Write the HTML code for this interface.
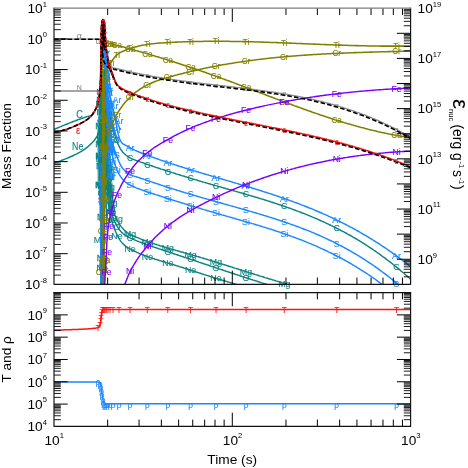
<!DOCTYPE html>
<html><head><meta charset="utf-8"><title>chart</title><style>
html,body{margin:0;padding:0;background:#fff}
svg{display:block;will-change:transform}
text{font-family:"Liberation Sans",sans-serif}
path{fill:none;stroke-linejoin:round}
</style></head><body>
<svg width="468" height="468" viewBox="0 0 468 468">
<rect width="468" height="468" fill="#fff"/>
<defs><clipPath id="c1"><rect x="54.00" y="8.20" width="356.60" height="276.15"/></clipPath>
<clipPath id="c2"><rect x="54.00" y="292.55" width="356.60" height="133.85"/></clipPath></defs>
<g text-anchor="middle">
<path d="M54.0 39.2L55.2 39.2L56.5 39.2L57.7 39.2L58.9 39.2L60.2 39.2L61.4 39.2L62.6 39.2L63.9 39.2L65.1 39.2L66.3 39.2L67.6 39.2L68.8 39.2L70.0 39.2L71.3 39.2L72.5 39.2L73.8 39.2L75.0 39.2L76.2 39.2L77.5 39.2L78.7 39.2L79.9 39.2L80.0 39.2L81.2 39.2L82.4 39.2L83.7 39.2L84.9 39.2L86.2 39.2L87.5 39.2L88.7 39.2L90.0 39.2L91.2 39.2L92.5 39.2L93.7 39.2L95.0 39.2L96.2 39.2L97.4 39.2L98.5 39.2L99.7 39.2L100.0 39.2L101.0 39.5L101.5 40.0L101.6 40.3L101.8 41.2L102.0 42.3L102.1 43.5L102.2 44.9L102.3 46.3L102.3 47.7L102.4 49.0L102.5 50.0L102.5 50.3L102.6 51.5L102.7 52.7L102.8 54.0L102.9 55.2L103.0 56.5L103.2 57.7L103.3 58.9L103.5 60.0L103.5 60.1L103.8 61.3L104.3 62.5L104.9 63.7L105.5 64.5L105.6 64.6L106.4 65.3L107.5 65.9L108.8 66.4L108.8 66.4L110.0 66.8L111.2 67.1L112.4 67.4L113.6 67.8L114.8 68.1L116.1 68.4L117.3 68.7L118.5 69.0L119.7 69.3L120.9 69.6L122.1 69.9L123.3 70.2L124.5 70.5L125.7 70.8L126.9 71.1L128.1 71.4L129.3 71.6L130.6 71.9L131.8 72.2L133.0 72.4L134.2 72.7L135.4 73.0L136.6 73.2L137.8 73.5L139.0 73.7L140.2 74.0L141.4 74.2L142.6 74.4L143.9 74.7L145.1 74.9L146.3 75.1L147.5 75.4L148.7 75.6L149.9 75.8L151.1 76.0L152.3 76.3L153.5 76.5L154.7 76.7L155.9 76.9L157.2 77.1L158.4 77.3L159.6 77.5L160.8 77.7L162.0 77.9L163.2 78.1L164.4 78.3L165.6 78.5L166.8 78.7L168.0 78.8L169.2 79.0L170.4 79.2L171.7 79.4L172.9 79.6L174.1 79.7L175.3 79.9L176.5 80.1L177.7 80.3L178.9 80.4L180.1 80.6L181.3 80.8L182.5 80.9L183.7 81.1L185.0 81.2L186.2 81.4L187.4 81.6L188.6 81.7L189.8 81.9L191.0 82.0L192.2 82.2L193.4 82.3L194.6 82.5L195.8 82.6L197.0 82.8L198.3 82.9L199.5 83.1L200.7 83.2L201.9 83.4L203.1 83.5L204.3 83.6L205.5 83.8L206.7 83.9L207.9 84.1L209.1 84.2L210.3 84.4L211.5 84.5L212.8 84.6L214.0 84.8L215.2 84.9L216.4 85.1L217.6 85.2L218.8 85.3L220.0 85.5L221.2 85.6L222.4 85.7L223.6 85.9L224.8 86.0L226.1 86.2L227.3 86.3L228.5 86.4L229.7 86.6L230.9 86.7L232.1 86.9L233.3 87.0L234.5 87.1L235.7 87.3L236.9 87.4L238.1 87.6L239.4 87.7L240.6 87.9L241.8 88.0L243.0 88.1L244.2 88.3L245.4 88.4L246.6 88.6L247.8 88.7L249.0 88.9L250.2 89.0L251.4 89.2L252.6 89.3L253.9 89.5L255.1 89.7L256.3 89.8L257.5 90.0L258.7 90.1L259.9 90.3L261.1 90.5L262.3 90.6L263.5 90.8L264.7 91.0L265.9 91.1L267.2 91.3L268.4 91.5L269.6 91.6L270.8 91.8L272.0 92.0L273.2 92.2L274.4 92.4L275.6 92.5L276.8 92.7L278.0 92.9L279.2 93.1L280.4 93.3L281.7 93.5L282.9 93.7L284.1 93.9L285.3 94.1L286.5 94.3L287.7 94.5L288.9 94.7L290.1 94.9L291.3 95.2L292.5 95.4L293.7 95.6L295.0 95.8L296.2 96.0L297.4 96.3L298.6 96.5L299.8 96.7L301.0 97.0L302.2 97.2L303.4 97.5L304.6 97.7L305.8 98.0L307.0 98.2L308.3 98.5L309.5 98.7L310.7 99.0L311.9 99.3L313.1 99.5L314.3 99.8L315.5 100.1L316.7 100.4L317.9 100.7L319.1 101.0L320.3 101.2L321.5 101.5L322.8 101.8L324.0 102.2L325.2 102.5L326.4 102.8L327.6 103.1L328.8 103.4L330.0 103.7L331.2 104.1L332.4 104.4L333.6 104.7L334.8 105.1L336.1 105.4L337.3 105.8L338.5 106.1L339.7 106.5L340.9 106.9L342.1 107.2L343.3 107.6L344.5 108.0L345.7 108.4L346.9 108.8L348.1 109.2L349.4 109.6L350.6 110.0L351.8 110.4L353.0 110.8L354.2 111.2L355.4 111.6L356.6 112.1L357.8 112.5L359.0 112.9L360.2 113.4L361.4 113.8L362.6 114.3L363.9 114.7L365.1 115.2L366.3 115.7L367.5 116.2L368.7 116.6L369.9 117.1L371.1 117.6L372.3 118.1L373.5 118.6L374.7 119.1L375.9 119.7L377.2 120.2L378.4 120.7L379.6 121.3L380.8 121.8L382.0 122.3L383.2 122.9L384.4 123.5L385.6 124.0L386.8 124.6L388.0 125.2L389.2 125.8L390.5 126.4L391.7 127.0L392.9 127.6L394.1 128.2L395.3 128.8L396.5 129.4L397.7 130.1L398.9 130.7L400.1 131.4L401.3 132.0L402.5 132.7L403.7 133.3L405.0 134.0L406.2 134.7L407.4 135.4L408.6 136.1L409.8 136.8L411.0 137.5" stroke="#8c8c8c" stroke-width="1.30"  clip-path="url(#c1)"/>
<path d="M54.0 91.0L99.3 91.0L100.2 93.0L100.6 110.0L100.9 285.0" stroke="#888" stroke-width="1.35"  clip-path="url(#c1)"/>
<text transform="translate(79.2 38.6) scale(0.92 1)" fill="#8c8c8c" stroke="#8c8c8c" stroke-width="0.1" font-size="9.5">α</text>
<text transform="translate(79.2 89.5) scale(0.92 1)" fill="#8c8c8c" stroke="#8c8c8c" stroke-width="0.1" font-size="7.6">N</text>
<text transform="translate(98.0 43.6) scale(0.92 1)" fill="#8c8c8c" stroke="#8c8c8c" stroke-width="0.1" font-size="8.5">α</text>
<text transform="translate(130.1 74.3) scale(0.92 1)" fill="#8c8c8c" stroke="#8c8c8c" stroke-width="0.1" font-size="7.5">α</text>
<text transform="translate(147.4 77.8) scale(0.92 1)" fill="#8c8c8c" stroke="#8c8c8c" stroke-width="0.1" font-size="7.5">α</text>
<text transform="translate(167.9 81.3) scale(0.92 1)" fill="#8c8c8c" stroke="#8c8c8c" stroke-width="0.1" font-size="7.5">α</text>
<text transform="translate(190.6 84.5) scale(0.92 1)" fill="#8c8c8c" stroke="#8c8c8c" stroke-width="0.1" font-size="7.5">α</text>
<text transform="translate(216.0 87.5) scale(0.92 1)" fill="#8c8c8c" stroke="#8c8c8c" stroke-width="0.1" font-size="7.5">α</text>
<text transform="translate(246.0 91.0) scale(0.92 1)" fill="#8c8c8c" stroke="#8c8c8c" stroke-width="0.1" font-size="7.5">α</text>
<text transform="translate(284.3 96.3) scale(0.92 1)" fill="#8c8c8c" stroke="#8c8c8c" stroke-width="0.1" font-size="7.5">α</text>
<text transform="translate(336.7 108.2) scale(0.92 1)" fill="#8c8c8c" stroke="#8c8c8c" stroke-width="0.1" font-size="7.5">α</text>
<text transform="translate(396.5 131.9) scale(0.92 1)" fill="#8c8c8c" stroke="#8c8c8c" stroke-width="0.1" font-size="7.5">α</text>
<text transform="translate(78.2 134.0) scale(0.92 1)" fill="#ff1212" stroke="#ff1212" stroke-width="0.1" font-size="10.5">ε</text>
<path d="M54.0 129.5L55.1 129.0L56.2 128.5L57.4 128.0L58.5 127.5L59.6 127.1L60.0 126.9L60.8 126.6L61.9 126.1L63.0 125.6L64.2 125.2L65.3 124.7L66.4 124.2L67.6 123.8L68.7 123.3L69.9 122.9L71.0 122.4L72.1 122.0L73.3 121.5L74.4 121.1L75.6 120.7L76.0 120.5L76.7 120.2L77.9 119.8L79.0 119.4L80.2 119.0L81.4 118.6L82.5 118.2L83.7 117.8L84.8 117.4L86.0 117.0L86.0 117.0L87.2 116.6L88.5 116.3L89.7 116.0L90.9 115.6L91.9 115.1L92.0 115.0L92.7 114.4L93.5 113.5L94.2 112.4L94.9 111.3L95.4 110.1L95.5 110.0L95.9 109.0L96.4 107.9L96.9 106.8L97.3 105.6L97.6 104.4L97.9 103.2L98.0 103.0L98.2 102.0L98.5 100.8L98.7 99.6L98.9 98.4L99.1 97.2L99.3 96.0L99.5 94.8L99.6 93.5L99.8 92.3L99.8 92.0L99.9 91.1L100.0 89.9L100.1 88.7L100.2 87.4L100.2 86.2L100.3 85.0L100.4 83.8L100.4 82.5L100.5 81.3L100.6 80.1L100.6 78.8L100.7 77.6L100.7 76.4L100.8 75.2L100.8 75.0L100.9 73.9L100.9 72.7L101.0 71.5L101.0 70.3L101.1 69.0L101.1 67.8L101.2 66.6L101.2 65.4L101.3 64.1L101.3 62.9L101.4 61.7L101.4 60.5L101.5 59.2L101.5 58.0" stroke="#0b8381" stroke-width="1.45"  clip-path="url(#c1)"/>
<path d="M54.0 163.0L55.2 162.6L56.3 162.3L57.5 161.9L58.7 161.5L59.8 161.1L60.0 161.0L61.0 160.7L62.1 160.2L63.2 159.8L64.4 159.4L65.5 158.9L66.7 158.4L67.8 158.0L68.9 157.5L70.0 157.0L70.0 157.0L71.1 156.5L72.3 156.0L73.4 155.5L74.5 154.9L75.6 154.4L76.7 153.9L77.8 153.3L78.9 152.7L80.0 152.1L81.0 151.5L82.1 150.9L83.0 150.3L83.1 150.3L84.1 149.6L85.1 148.9L86.1 148.1L87.0 147.4L88.0 146.6L88.9 145.8L89.9 145.0L90.7 144.1L91.6 143.2L92.0 142.8L92.4 142.4L93.2 141.5L94.1 140.5L94.9 139.5L95.6 138.5L96.3 137.5L97.0 136.5L97.5 135.4L97.6 135.0L97.8 134.3L98.2 133.2L98.5 132.0L98.8 130.8L99.1 129.5L99.3 128.3L99.5 127.1L99.6 126.0L99.6 125.9L99.7 124.7L99.8 123.5L99.9 122.2L100.0 121.0L100.1 119.8L100.2 118.6L100.3 117.4L100.3 116.1L100.4 114.9L100.4 113.7L100.5 112.5L100.5 111.2L100.6 110.0L100.6 108.8L100.7 107.6L100.7 106.3L100.8 105.1L100.8 105.0L100.8 103.9L100.9 102.7L100.9 101.4L101.0 100.2L101.0 99.0L101.1 97.8L101.1 96.6L101.1 95.3L101.2 94.1L101.2 92.9L101.2 91.7L101.3 90.4L101.3 89.2L101.3 88.0L101.4 86.8L101.4 85.6L101.5 84.3L101.5 83.1L101.5 81.9L101.6 80.7L101.6 80.0L101.6 79.4L101.7 78.2L101.7 77.0L101.8 75.8L101.8 74.6L101.9 73.3L101.9 72.1L102.0 70.9L102.0 69.7L102.1 68.4L102.1 67.2L102.2 66.0" stroke="#0b8381" stroke-width="1.45"  clip-path="url(#c1)"/>
<text transform="translate(79.5 118.0) scale(0.92 1)" fill="#0b8381" stroke="#0b8381" stroke-width="0.1" font-size="10">C</text>
<text transform="translate(77.7 150.2) scale(0.88 1)" fill="#0b8381" stroke="#0b8381" stroke-width="0.1" font-size="10">Ne</text>
<path d="M101.2 285.0L101.2 283.8L101.2 282.6L101.2 281.4L101.2 280.2L101.2 279.0L101.2 277.8L101.2 276.5L101.2 275.3L101.2 274.1L101.2 272.9L101.2 271.7L101.2 270.5L101.2 269.3L101.2 268.1L101.2 266.9L101.2 265.7L101.2 264.5L101.2 263.3L101.2 262.1L101.2 260.8L101.2 259.6L101.2 258.4L101.2 257.2L101.2 256.0L101.2 254.8L101.2 253.6L101.2 252.4L101.2 251.2L101.2 250.0L101.2 248.8L101.2 247.6L101.2 246.3L101.2 245.1L101.2 243.9L101.2 242.7L101.2 241.5L101.2 240.3L101.2 239.1L101.2 237.9L101.2 236.7L101.2 235.5L101.2 234.3L101.2 233.1L101.2 231.9L101.2 230.6L101.2 229.4L101.2 228.2L101.2 227.0L101.2 225.8L101.2 224.6L101.2 223.4L101.3 222.2L101.3 221.0L101.3 219.8L101.3 218.6L101.3 217.4L101.3 216.2L101.3 214.9L101.3 213.7L101.3 212.5L101.3 211.3L101.3 210.1L101.3 208.9L101.3 207.7L101.3 206.5L101.3 205.3L101.3 204.1L101.3 202.9L101.3 201.7L101.3 200.4L101.3 199.2L101.3 198.0L101.3 196.8L101.3 195.6L101.3 194.4L101.3 193.2L101.3 192.0L101.3 190.8L101.3 189.6L101.3 188.4L101.3 187.2L101.3 186.0L101.3 184.7L101.3 183.5L101.3 182.3L101.3 181.1L101.3 179.9L101.3 178.7L101.3 177.5L101.3 176.3L101.3 175.1L101.3 173.9L101.3 172.7L101.3 171.5L101.4 170.3L101.4 169.0L101.4 167.8L101.4 166.6L101.4 165.4L101.4 164.2L101.4 163.0L101.4 161.8L101.4 160.6L101.4 159.4L101.4 158.2L101.4 157.0L101.4 155.8L101.4 154.5L101.4 153.3L101.4 152.1L101.4 150.9L101.4 150.0L101.4 149.7L101.4 148.5L101.4 147.3L101.4 146.1L101.4 144.9L101.4 143.7L101.4 142.5L101.4 141.3L101.4 140.1L101.4 138.8L101.4 137.6L101.4 136.4L101.5 135.2L101.5 134.0L101.5 132.8L101.5 131.6L101.5 130.4L101.5 129.2L101.5 128.0L101.5 126.8L101.5 125.6L101.5 124.4L101.5 123.1L101.5 121.9L101.5 120.7L101.5 119.5L101.5 118.3L101.5 117.1L101.6 115.9L101.6 114.7L101.6 113.5L101.6 112.3L101.6 111.1L101.6 109.9L101.6 108.7L101.6 107.4L101.6 106.2L101.6 105.0L101.6 103.8L101.6 102.6L101.7 101.4L101.7 100.2L101.7 99.0L101.7 97.8L101.7 96.6L101.7 95.4L101.7 94.2L101.7 92.9L101.7 91.7L101.7 90.5L101.7 89.3L101.8 88.1L101.8 86.9L101.8 85.7L101.8 84.5L101.8 83.3L101.8 82.1L101.8 80.9L101.8 79.7L101.8 78.5L101.8 77.2L101.9 76.0L101.9 74.8L101.9 73.6L101.9 72.4L101.9 71.2L101.9 70.0" stroke="#0b8381" stroke-width="1.60"  clip-path="url(#c1)"/>
<path d="M101.9 285.0L101.9 283.8L101.9 282.6L101.9 281.4L101.9 280.2L101.9 278.9L101.9 277.7L101.9 276.5L101.9 275.3L101.9 274.1L101.9 272.9L101.9 271.7L101.9 270.5L101.9 269.3L101.9 268.1L101.9 266.8L101.9 265.6L101.9 264.4L101.9 263.2L101.9 262.0L101.9 260.8L101.9 259.6L101.9 258.4L101.9 257.2L101.9 256.0L101.9 254.7L101.9 253.5L101.9 252.3L101.9 251.1L101.9 249.9L101.9 248.7L101.9 247.5L101.9 246.3L101.9 245.1L101.9 243.9L101.9 242.6L101.9 241.4L101.9 240.2L101.9 239.0L101.9 237.8L101.9 236.6L101.9 235.4L101.9 234.2L101.9 233.0L101.9 231.7L101.9 230.5L101.9 229.3L101.9 228.1L101.9 226.9L101.9 225.7L101.9 224.5L102.0 223.3L102.0 222.1L102.0 220.9L102.0 219.6L102.0 218.4L102.0 217.2L102.0 216.0L102.0 214.8L102.0 213.6L102.0 212.4L102.0 211.2L102.0 210.0L102.0 208.8L102.0 207.5L102.0 206.3L102.0 205.1L102.0 203.9L102.0 202.7L102.0 201.5L102.0 200.3L102.0 199.1L102.0 197.9L102.0 196.7L102.0 195.4L102.0 194.2L102.0 193.0L102.0 191.8L102.0 190.6L102.0 189.4L102.0 188.2L102.0 187.0L102.0 185.8L102.0 184.6L102.0 183.3L102.0 182.1L102.0 180.9L102.0 179.7L102.0 178.5L102.0 177.3L102.0 176.1L102.0 174.9L102.0 173.7L102.0 172.4L102.1 171.2L102.1 170.0L102.1 168.8L102.1 167.6L102.1 166.4L102.1 165.2L102.1 164.0L102.1 162.8L102.1 161.6L102.1 160.3L102.1 159.1L102.1 157.9L102.1 156.7L102.1 155.5L102.1 154.3L102.1 153.1L102.1 151.9L102.1 150.7L102.1 150.0L102.1 149.5L102.1 148.2L102.1 147.0L102.1 145.8L102.1 144.6L102.1 143.4L102.1 142.2L102.1 141.0L102.1 139.8L102.1 138.6L102.1 137.4L102.1 136.1L102.1 134.9L102.2 133.7L102.2 132.5L102.2 131.3L102.2 130.1L102.2 128.9L102.2 127.7L102.2 126.5L102.2 125.2L102.2 124.0L102.2 122.8L102.2 121.6L102.2 120.4L102.2 119.2L102.2 118.0L102.2 116.8L102.2 115.6L102.2 114.4L102.2 113.1L102.3 111.9L102.3 110.7L102.3 109.5L102.3 108.3L102.3 107.1L102.3 105.9L102.3 104.7L102.3 103.5L102.3 102.3L102.3 101.0L102.3 99.8L102.3 98.6L102.3 97.4L102.3 96.2L102.4 95.0L102.4 93.8L102.4 92.6L102.4 91.4L102.4 90.2L102.4 88.9L102.4 87.7L102.4 86.5L102.4 85.3L102.4 84.1L102.4 82.9L102.4 81.7L102.4 80.5L102.5 79.3L102.5 78.1L102.5 76.8L102.5 75.6L102.5 74.4L102.5 73.2L102.5 72.0" stroke="#0b8381" stroke-width="1.60"  clip-path="url(#c1)"/>
<path d="M100.3 215.0L100.3 213.8L100.3 212.6L100.3 211.4L100.3 210.1L100.3 208.9L100.3 207.7L100.3 206.5L100.3 205.3L100.3 204.1L100.3 202.9L100.3 201.7L100.3 200.4L100.3 199.2L100.3 198.0L100.3 196.8L100.3 195.6L100.3 194.4L100.3 193.2L100.3 192.0L100.3 190.7L100.3 189.5L100.3 188.3L100.3 187.1L100.3 185.9L100.3 184.7L100.3 183.5L100.3 182.2L100.3 181.0L100.3 179.8L100.3 178.6L100.3 177.4L100.3 176.2L100.3 175.0L100.3 173.8L100.3 172.5L100.3 171.3L100.3 170.1L100.3 168.9L100.4 167.7L100.4 166.5L100.4 165.3L100.4 164.1L100.4 162.8L100.4 161.6L100.4 160.4L100.4 159.2L100.4 158.0L100.4 156.8L100.4 155.6L100.4 154.3L100.4 153.1L100.4 151.9L100.4 150.7L100.4 149.5L100.4 148.3L100.4 147.1L100.4 145.9L100.4 144.6L100.4 143.4L100.4 142.2L100.4 141.0L100.4 139.8L100.4 138.6L100.4 137.4L100.4 136.2L100.4 134.9L100.4 133.7L100.5 132.5L100.5 131.3L100.5 130.1L100.5 128.9L100.5 127.7L100.5 126.5L100.5 125.2L100.5 124.0L100.5 122.8L100.5 121.6L100.5 120.4L100.5 120.0L100.5 119.2L100.5 118.0L100.5 116.7L100.5 115.5L100.5 114.3L100.5 113.1L100.6 111.9L100.6 110.7L100.6 109.5L100.6 108.3L100.6 107.0L100.6 105.8L100.7 104.6L100.7 103.4L100.7 102.2L100.7 101.0L100.7 99.8L100.7 98.6L100.8 97.3L100.8 96.1L100.8 94.9L100.8 93.7L100.9 92.5L100.9 91.3L100.9 90.1L100.9 88.9L100.9 87.6L101.0 86.4L101.0 85.2L101.0 84.0" stroke="#0b8381" stroke-width="1.50"  clip-path="url(#c1)"/>
<path d="M99.6 180.0L99.6 178.8L99.6 177.5L99.6 176.3L99.6 175.1L99.6 173.8L99.6 172.6L99.6 171.4L99.6 170.1L99.6 168.9L99.6 167.7L99.6 166.4L99.6 165.2L99.6 164.0L99.6 162.8L99.6 161.5L99.6 160.3L99.6 159.1L99.6 157.8L99.6 156.6L99.6 155.4L99.6 154.1L99.6 152.9L99.6 151.7L99.6 150.4L99.6 149.2L99.6 148.0L99.6 146.7L99.6 145.5L99.6 144.3L99.6 143.0L99.6 141.8L99.6 140.6L99.6 139.3L99.6 138.1L99.7 136.9L99.7 135.6L99.7 134.4L99.7 133.2L99.7 132.0L99.7 130.7L99.7 129.5L99.7 128.3L99.7 127.0L99.7 125.8L99.7 124.6L99.7 123.3L99.7 122.1L99.7 120.9L99.7 120.0L99.7 119.6L99.7 118.4L99.7 117.2L99.7 115.9L99.7 114.7L99.8 113.5L99.8 112.2L99.8 111.0L99.8 109.8L99.9 108.5L99.9 107.3L99.9 106.1L99.9 104.9L100.0 103.6L100.0 102.4L100.0 101.2L100.1 99.9L100.1 98.7L100.1 97.5L100.2 96.2L100.2 95.0" stroke="#0b8381" stroke-width="1.30"  clip-path="url(#c1)"/>
<path d="M98.0 120.0L98.2 186.0" stroke="#0b8381" stroke-width="0.90"  clip-path="url(#c1)"/>
<path d="M98.9 112.0L99.1 196.0" stroke="#0b8381" stroke-width="0.90"  clip-path="url(#c1)"/>
<path d="M99.8 108.0L100.0 205.0" stroke="#0b8381" stroke-width="0.90"  clip-path="url(#c1)"/>
<path d="M100.6 100.0L100.8 215.0" stroke="#0b8381" stroke-width="0.90"  clip-path="url(#c1)"/>
<path d="M105.5 150.0L105.5 151.2L105.6 152.5L105.6 153.7L105.7 154.9L105.7 156.2L105.8 157.4L105.9 158.6L105.9 159.8L106.0 161.1L106.0 162.3L106.1 163.5L106.2 164.8L106.2 166.0L106.3 167.2L106.4 168.4L106.5 169.7L106.5 170.9L106.6 172.1L106.7 173.4L106.8 174.6L106.9 175.8L106.9 177.0L107.0 178.3L107.1 179.5L107.2 180.7L107.3 181.9L107.4 183.2L107.5 184.4L107.5 185.0L107.5 185.6L107.6 186.8L107.7 188.1L107.8 189.3L107.9 190.5L108.0 191.7L108.2 193.0L108.3 194.2L108.4 195.4L108.5 196.6L108.6 197.9L108.7 199.1L108.9 200.3L109.0 201.5L109.1 202.8L109.2 204.0L109.4 205.2L109.5 206.4L109.6 207.7L109.8 208.9L109.9 210.1L110.1 211.3L110.2 212.6L110.4 213.8L110.5 215.0" stroke="#0b8381" stroke-width="1.00"  clip-path="url(#c1)"/>
<path d="M106.5 150.0L106.6 151.2L106.6 152.5L106.7 153.7L106.7 155.0L106.8 156.2L106.9 157.5L106.9 158.7L107.0 160.0L107.1 161.2L107.2 162.5L107.2 163.7L107.3 164.9L107.4 166.2L107.5 167.4L107.6 168.7L107.7 169.9L107.8 171.2L107.9 172.4L108.0 173.6L108.1 174.9L108.2 176.1L108.3 177.4L108.4 178.6L108.5 179.8L108.6 181.1L108.8 182.3L108.9 183.6L109.0 184.8L109.0 185.0L109.1 186.0L109.2 187.3L109.3 188.5L109.5 189.8L109.6 191.0L109.8 192.2L109.9 193.5L110.1 194.7L110.2 195.9L110.4 197.2L110.5 198.4L110.7 199.7L110.9 200.9L111.0 202.1L111.2 203.4L111.4 204.6L111.6 205.8L111.7 207.1L111.9 208.3L112.1 209.5L112.3 210.8L112.5 212.0" stroke="#0b8381" stroke-width="1.00"  clip-path="url(#c1)"/>
<path d="M107.5 150.0L107.6 151.2L107.7 152.5L107.7 153.7L107.8 154.9L107.9 156.1L108.0 157.4L108.1 158.6L108.2 159.8L108.3 161.0L108.4 162.3L108.5 163.5L108.6 164.7L108.8 165.9L108.9 167.2L109.0 168.4L109.1 169.6L109.2 170.8L109.3 172.1L109.5 173.3L109.6 174.5L109.7 175.7L109.8 177.0L110.0 178.2L110.1 179.4L110.2 180.6L110.4 181.8L110.5 183.0L110.5 183.1L110.6 184.3L110.8 185.5L110.9 186.7L111.1 187.9L111.2 189.2L111.4 190.4L111.6 191.6L111.7 192.8L111.9 194.0L112.1 195.3L112.2 196.5L112.4 197.7L112.6 198.9L112.8 200.1L112.9 201.4L113.1 202.6L113.3 203.8L113.5 205.0" stroke="#0b8381" stroke-width="1.00"  clip-path="url(#c1)"/>
<path d="M108.5 148.0L108.6 149.2L108.7 150.5L108.8 151.7L108.9 152.9L109.0 154.2L109.1 155.4L109.2 156.6L109.3 157.9L109.4 159.1L109.5 160.3L109.6 161.6L109.7 162.8L109.9 164.0L110.0 165.3L110.1 166.5L110.2 167.7L110.3 169.0L110.5 170.2L110.6 171.4L110.7 172.7L110.8 173.9L111.0 175.1L111.1 176.3L111.2 177.6L111.4 178.8L111.5 180.0L111.5 180.0L111.6 181.3L111.8 182.5L111.9 183.7L112.1 185.0L112.2 186.2L112.4 187.4L112.5 188.6L112.7 189.9L112.8 191.1L113.0 192.3L113.2 193.5L113.3 194.8L113.5 196.0" stroke="#0b8381" stroke-width="1.00"  clip-path="url(#c1)"/>
<path d="M104.8 62.0L104.8 63.2L104.9 64.5L104.9 65.7L105.0 67.0L105.0 68.2L105.1 69.5L105.2 70.7L105.2 72.0L105.3 73.2L105.4 74.4L105.5 75.7L105.5 76.9L105.6 78.2L105.7 79.4L105.8 80.6L105.9 81.9L106.0 83.1L106.1 84.4L106.2 85.6L106.3 86.8L106.3 88.1L106.4 89.3L106.5 90.0L106.5 90.6L106.7 91.8L106.8 93.0L106.9 94.3L107.0 95.5L107.1 96.8L107.3 98.0L107.4 99.2L107.5 100.5L107.7 101.7L107.8 102.9L108.0 104.2L108.1 105.4L108.3 106.6L108.5 107.9L108.5 108.0L108.7 109.1L108.8 110.3L109.0 111.6L109.2 112.8L109.5 114.0L109.7 115.2L109.9 116.5L110.1 117.7L110.4 118.9L110.6 120.1L110.9 121.3L111.2 122.6L111.4 123.8L111.7 125.0L111.7 125.0L112.9 128.9L114.1 132.8L115.3 136.5L116.5 139.9L117.7 143.1L118.9 145.9L120.1 148.3L121.4 150.3L122.6 151.9L123.8 153.2L125.0 154.3L126.2 155.3L127.4 156.2L128.6 157.0L129.8 157.7L131.0 158.3L132.2 158.9L133.4 159.4L134.6 159.9L135.8 160.3L137.0 160.8L138.3 161.2L139.5 161.6L140.7 162.1L141.9 162.5L143.1 162.9L144.3 163.3L145.5 163.8L146.7 164.2L147.9 164.6L149.1 165.0L150.3 165.4L151.5 165.8L152.7 166.2L153.9 166.6L155.1 167.1L156.4 167.5L157.6 167.9L158.8 168.3L160.0 168.7L161.2 169.1L162.4 169.4L163.6 169.8L164.8 170.2L166.0 170.6L167.2 171.0L168.4 171.4L169.6 171.8L170.8 172.2L172.0 172.6L173.2 172.9L174.5 173.3L175.7 173.7L176.9 174.1L178.1 174.4L179.3 174.8L180.5 175.2L181.7 175.6L182.9 175.9L184.1 176.3L185.3 176.7L186.5 177.0L187.7 177.4L188.9 177.8L190.1 178.1L191.4 178.5L192.6 178.9L193.8 179.2L195.0 179.6L196.2 179.9L197.4 180.3L198.6 180.7L199.8 181.0L201.0 181.4L202.2 181.7L203.4 182.1L204.6 182.4L205.8 182.8L207.0 183.1L208.2 183.5L209.5 183.8L210.7 184.2L211.9 184.5L213.1 184.9L214.3 185.2L215.5 185.6L216.7 185.9L217.9 186.3L219.1 186.6L220.3 186.9L221.5 187.3L222.7 187.6L223.9 188.0L225.1 188.3L226.4 188.7L227.6 189.0L228.8 189.4L230.0 189.7L231.2 190.0L232.4 190.4L233.6 190.7L234.8 191.1L236.0 191.4L237.2 191.8L238.4 192.1L239.6 192.5L240.8 192.8L242.0 193.1L243.2 193.5L244.5 193.8L245.7 194.2L246.9 194.6L248.1 194.9L249.3 195.3L250.5 195.6L251.7 196.0L252.9 196.3L254.1 196.7L255.3 197.0L256.5 197.4L257.7 197.8L258.9 198.1L260.1 198.5L261.4 198.9L262.6 199.2L263.8 199.6L265.0 200.0L266.2 200.4L267.4 200.8L268.6 201.1L269.8 201.5L271.0 201.9L272.2 202.3L273.4 202.7L274.6 203.1L275.8 203.5L277.0 203.9L278.2 204.3L279.5 204.7L280.7 205.1L281.9 205.5L283.1 205.9L284.3 206.3L285.5 206.7L286.7 207.2L287.9 207.6L289.1 208.0L290.3 208.4L291.5 208.9L292.7 209.3L293.9 209.8L295.1 210.2L296.3 210.7L297.6 211.1L298.8 211.6L300.0 212.0L301.2 212.5L302.4 213.0L303.6 213.4L304.8 213.9L306.0 214.4L307.2 214.9L308.4 215.4L309.6 215.9L310.8 216.4L312.0 216.9L313.2 217.4L314.5 217.9L315.7 218.4L316.9 218.9L318.1 219.4L319.3 220.0L320.5 220.5L321.7 221.1L322.9 221.6L324.1 222.2L325.3 222.7L326.5 223.3L327.7 223.8L328.9 224.4L330.1 225.0L331.3 225.6L332.6 226.2L333.8 226.8L335.0 227.4L336.2 228.0L337.4 228.6L338.6 229.2L339.8 229.8L341.0 230.5L342.2 231.1L343.4 231.7L344.6 232.4L345.8 233.0L347.0 233.7L348.2 234.4L349.5 235.0L350.7 235.7L351.9 236.4L353.1 237.1L354.3 237.8L355.5 238.5L356.7 239.2L357.9 240.0L359.1 240.7L360.3 241.4L361.5 242.2L362.7 242.9L363.9 243.7L365.1 244.4L366.3 245.2L367.6 246.0L368.8 246.8L370.0 247.6L371.2 248.4L372.4 249.2L373.6 250.0L374.8 250.8L376.0 251.7L377.2 252.5L378.4 253.4L379.6 254.2L380.8 255.1L382.0 256.0L383.2 256.9L384.4 257.7L385.7 258.6L386.9 259.6L388.1 260.5L389.3 261.4L390.5 262.3L391.7 263.3L392.9 264.2L394.1 265.2L395.3 266.2L396.5 267.1L397.7 268.1L398.9 269.1L400.1 270.1L401.3 271.2L402.6 272.2L403.8 273.2L405.0 274.3L406.2 275.3L407.4 276.4L408.6 277.5L409.8 278.5L411.0 279.6" stroke="#0b8381" stroke-width="1.45"  clip-path="url(#c1)"/>
<text transform="translate(108.9 113.5) scale(0.92 1)" fill="#0b8381" stroke="#0b8381" stroke-width="0.1" font-size="9.6">C</text>
<text transform="translate(111.2 125.7) scale(0.92 1)" fill="#0b8381" stroke="#0b8381" stroke-width="0.1" font-size="9.6">C</text>
<text transform="translate(116.9 143.0) scale(0.92 1)" fill="#0b8381" stroke="#0b8381" stroke-width="0.1" font-size="9.6">C</text>
<text transform="translate(130.1 160.8) scale(0.92 1)" fill="#0b8381" stroke="#0b8381" stroke-width="0.1" font-size="9.6">C</text>
<text transform="translate(147.4 167.7) scale(0.92 1)" fill="#0b8381" stroke="#0b8381" stroke-width="0.1" font-size="9.6">C</text>
<text transform="translate(167.9 174.5) scale(0.92 1)" fill="#0b8381" stroke="#0b8381" stroke-width="0.1" font-size="9.6">C</text>
<text transform="translate(190.6 181.3) scale(0.92 1)" fill="#0b8381" stroke="#0b8381" stroke-width="0.1" font-size="9.6">C</text>
<text transform="translate(216.0 188.7) scale(0.92 1)" fill="#0b8381" stroke="#0b8381" stroke-width="0.1" font-size="9.6">C</text>
<text transform="translate(246.0 197.3) scale(0.92 1)" fill="#0b8381" stroke="#0b8381" stroke-width="0.1" font-size="9.6">C</text>
<text transform="translate(284.3 209.4) scale(0.92 1)" fill="#0b8381" stroke="#0b8381" stroke-width="0.1" font-size="9.6">C</text>
<text transform="translate(336.7 231.1) scale(0.92 1)" fill="#0b8381" stroke="#0b8381" stroke-width="0.1" font-size="9.6">C</text>
<text transform="translate(396.5 270.3) scale(0.92 1)" fill="#0b8381" stroke="#0b8381" stroke-width="0.1" font-size="9.6">C</text>
<path d="M104.8 100.0L104.8 101.2L104.8 102.4L104.8 103.7L104.8 104.9L104.8 106.1L104.8 107.3L104.8 108.5L104.8 109.7L104.9 111.0L104.9 112.2L104.9 113.4L104.9 114.6L104.9 115.8L104.9 117.0L104.9 118.3L105.0 119.5L105.0 120.7L105.0 121.9L105.0 123.1L105.1 124.3L105.1 125.6L105.1 126.8L105.1 128.0L105.2 129.2L105.2 130.4L105.2 131.6L105.2 132.8L105.3 134.0L105.3 135.3L105.3 136.5L105.4 137.7L105.4 138.9L105.5 140.1L105.5 141.3L105.5 142.5L105.6 143.7L105.6 145.0L105.7 146.2L105.7 147.4L105.7 148.6L105.8 149.8L105.8 151.0L105.9 152.2L105.9 153.4L106.0 154.6L106.0 155.9L106.1 157.1L106.1 158.3L106.2 159.5L106.2 160.7L106.3 161.9L106.3 163.1L106.4 164.3L106.4 165.0L106.4 165.5L106.5 166.7L106.6 168.0L106.7 169.2L106.8 170.4L106.9 171.6L107.0 172.8L107.1 174.0L107.2 175.2L107.4 176.4L107.5 177.6L107.7 178.8L107.8 180.0L108.0 181.2L108.1 182.4L108.3 183.7L108.5 184.9L108.6 186.1L108.8 187.3L109.0 188.5L109.2 189.7L109.3 190.9L109.5 192.0L109.5 192.1L109.7 193.3L109.9 194.5L110.1 195.7L110.2 196.9L110.4 198.1L110.7 199.3L110.9 200.5L111.1 201.7L111.3 202.8L111.5 204.0L111.8 205.2L112.0 206.4L112.2 207.6L112.5 208.8L112.7 210.0L112.7 210.0L113.9 213.2L115.1 216.0L116.3 218.6L117.5 220.9L118.7 223.0L120.0 224.9L121.2 226.6L122.4 228.1L123.6 229.4L124.8 230.6L126.0 231.6L127.2 232.6L128.4 233.4L129.6 234.1L130.8 234.7L132.1 235.3L133.3 235.9L134.5 236.4L135.7 236.9L136.9 237.4L138.1 237.9L139.3 238.4L140.5 238.9L141.7 239.4L142.9 239.8L144.1 240.3L145.4 240.7L146.6 241.2L147.8 241.6L149.0 242.1L150.2 242.5L151.4 242.9L152.6 243.3L153.8 243.7L155.0 244.1L156.2 244.5L157.4 244.9L158.7 245.3L159.9 245.7L161.1 246.0L162.3 246.4L163.5 246.8L164.7 247.1L165.9 247.5L167.1 247.9L168.3 248.2L169.5 248.6L170.8 248.9L172.0 249.3L173.2 249.6L174.4 249.9L175.6 250.3L176.8 250.6L178.0 251.0L179.2 251.3L180.4 251.7L181.6 252.0L182.8 252.3L184.1 252.7L185.3 253.0L186.5 253.4L187.7 253.7L188.9 254.0L190.1 254.4L191.3 254.7L192.5 255.1L193.7 255.4L194.9 255.8L196.2 256.1L197.4 256.5L198.6 256.8L199.8 257.2L201.0 257.6L202.2 257.9L203.4 258.3L204.6 258.7L205.8 259.0L207.0 259.4L208.2 259.8L209.5 260.1L210.7 260.5L211.9 260.9L213.1 261.2L214.3 261.6L215.5 262.0L216.7 262.4L217.9 262.7L219.1 263.1L220.3 263.5L221.5 263.9L222.8 264.2L224.0 264.6L225.2 265.0L226.4 265.4L227.6 265.8L228.8 266.2L230.0 266.5L231.2 266.9L232.4 267.3L233.6 267.7L234.9 268.1L236.1 268.4L237.3 268.8L238.5 269.2L239.7 269.6L240.9 270.0L242.1 270.4L243.3 270.7L244.5 271.1L245.7 271.5L246.9 271.9L248.2 272.3L249.4 272.7L250.6 273.0L251.8 273.4L253.0 273.8L254.2 274.2L255.4 274.6L256.6 274.9L257.8 275.3L259.0 275.7L260.3 276.1L261.5 276.4L262.7 276.8L263.9 277.2L265.1 277.6L266.3 277.9L267.5 278.3L268.7 278.7L269.9 279.0L271.1 279.4L272.3 279.8L273.6 280.1L274.8 280.5L276.0 280.9L277.2 281.2L278.4 281.6L279.6 281.9L280.8 282.3L282.0 282.7L283.2 283.0L284.4 283.4L285.6 283.7L286.9 284.1L288.1 284.4L289.3 284.7L290.5 285.1L291.7 285.4L292.9 285.8L294.1 286.1L295.3 286.4L296.5 286.8L297.7 287.1L299.0 287.4L300.2 287.7L301.4 288.1L302.6 288.4L303.8 288.7L305.0 289.0" stroke="#0b8381" stroke-width="1.45"  clip-path="url(#c1)"/>
<text transform="translate(108.9 190.4) scale(0.92 1)" fill="#0b8381" stroke="#0b8381" stroke-width="0.1" font-size="9.6">Mg</text>
<text transform="translate(111.2 206.0) scale(0.92 1)" fill="#0b8381" stroke="#0b8381" stroke-width="0.1" font-size="9.6">Mg</text>
<text transform="translate(116.9 221.7) scale(0.92 1)" fill="#0b8381" stroke="#0b8381" stroke-width="0.1" font-size="9.6">Mg</text>
<text transform="translate(130.1 237.2) scale(0.92 1)" fill="#0b8381" stroke="#0b8381" stroke-width="0.1" font-size="9.6">Mg</text>
<text transform="translate(147.4 244.7) scale(0.92 1)" fill="#0b8381" stroke="#0b8381" stroke-width="0.1" font-size="9.6">Mg</text>
<text transform="translate(167.9 251.3) scale(0.92 1)" fill="#0b8381" stroke="#0b8381" stroke-width="0.1" font-size="9.6">Mg</text>
<text transform="translate(190.6 257.5) scale(0.92 1)" fill="#0b8381" stroke="#0b8381" stroke-width="0.1" font-size="9.6">Mg</text>
<text transform="translate(216.0 265.1) scale(0.92 1)" fill="#0b8381" stroke="#0b8381" stroke-width="0.1" font-size="9.6">Mg</text>
<text transform="translate(246.0 274.6) scale(0.92 1)" fill="#0b8381" stroke="#0b8381" stroke-width="0.1" font-size="9.6">Mg</text>
<text transform="translate(284.3 286.5) scale(0.92 1)" fill="#0b8381" stroke="#0b8381" stroke-width="0.1" font-size="9.6">Mg</text>
<path d="M105.1 100.0L105.1 101.2L105.1 102.4L105.1 103.6L105.2 104.9L105.2 106.1L105.2 107.3L105.2 108.5L105.3 109.7L105.3 110.9L105.3 112.1L105.3 113.4L105.4 114.6L105.4 115.8L105.4 117.0L105.5 118.2L105.5 119.4L105.5 120.7L105.6 121.9L105.6 123.1L105.6 124.3L105.7 125.5L105.7 126.7L105.7 127.9L105.8 129.1L105.8 130.4L105.9 131.6L105.9 132.8L106.0 134.0L106.0 135.2L106.0 136.4L106.1 137.6L106.1 138.9L106.2 140.1L106.2 141.3L106.3 142.5L106.3 143.7L106.4 144.9L106.4 146.1L106.5 147.4L106.5 148.6L106.6 149.8L106.6 151.0L106.7 152.2L106.7 153.4L106.8 154.6L106.8 155.8L106.9 157.1L107.0 158.3L107.0 159.5L107.1 160.7L107.1 161.9L107.2 163.1L107.2 164.3L107.3 165.5L107.3 166.8L107.4 168.0L107.5 169.2L107.5 170.0L107.5 170.4L107.6 171.6L107.6 172.8L107.7 174.0L107.8 175.3L107.8 176.5L107.9 177.7L108.0 178.9L108.0 180.1L108.1 181.3L108.2 182.5L108.2 183.7L108.3 185.0L108.4 186.2L108.5 187.4L108.6 188.6L108.6 189.8L108.7 191.0L108.8 192.2L108.9 193.4L109.0 194.7L109.1 195.9L109.2 197.1L109.3 198.3L109.5 199.5L109.5 200.0L109.6 200.7L109.7 201.9L109.9 203.1L110.0 204.3L110.2 205.5L110.4 206.7L110.6 207.9L110.8 209.1L111.0 210.3L111.2 211.5L111.4 212.7L111.4 212.7L112.6 216.3L113.8 219.5L115.0 222.3L116.3 224.7L117.5 226.9L118.7 228.7L119.9 230.3L121.1 231.7L122.3 232.9L123.5 234.0L124.8 234.9L126.0 235.7L127.2 236.5L128.4 237.1L129.6 237.7L130.8 238.3L132.0 238.8L133.3 239.3L134.5 239.8L135.7 240.3L136.9 240.8L138.1 241.3L139.3 241.8L140.5 242.3L141.7 242.7L143.0 243.2L144.2 243.6L145.4 244.1L146.6 244.5L147.8 245.0L149.0 245.4L150.2 245.8L151.5 246.3L152.7 246.7L153.9 247.1L155.1 247.5L156.3 247.9L157.5 248.3L158.7 248.7L160.0 249.1L161.2 249.5L162.4 249.9L163.6 250.3L164.8 250.7L166.0 251.1L167.2 251.5L168.5 251.9L169.7 252.3L170.9 252.7L172.1 253.1L173.3 253.5L174.5 254.0L175.7 254.4L177.0 254.8L178.2 255.2L179.4 255.6L180.6 256.0L181.8 256.4L183.0 256.8L184.2 257.2L185.5 257.6L186.7 258.0L187.9 258.4L189.1 258.8L190.3 259.2L191.5 259.6L192.7 260.0L194.0 260.4L195.2 260.8L196.4 261.2L197.6 261.6L198.8 262.1L200.0 262.5L201.2 262.9L202.4 263.3L203.7 263.7L204.9 264.1L206.1 264.5L207.3 264.9L208.5 265.3L209.7 265.7L210.9 266.1L212.2 266.5L213.4 266.9L214.6 267.3L215.8 267.7L217.0 268.1L218.2 268.6L219.4 269.0L220.7 269.4L221.9 269.8L223.1 270.2L224.3 270.6L225.5 271.0L226.7 271.4L227.9 271.8L229.2 272.2L230.4 272.6L231.6 273.0L232.8 273.4L234.0 273.8L235.2 274.2L236.4 274.6L237.7 275.0L238.9 275.4L240.1 275.8L241.3 276.2L242.5 276.6L243.7 277.0L244.9 277.4L246.2 277.8L247.4 278.2L248.6 278.6L249.8 279.0L251.0 279.4L252.2 279.7L253.4 280.1L254.7 280.5L255.9 280.9L257.1 281.3L258.3 281.7L259.5 282.1L260.7 282.5L261.9 282.9L263.1 283.2L264.4 283.6L265.6 284.0L266.8 284.4L268.0 284.8L269.2 285.2L270.4 285.5L271.6 285.9L272.9 286.3L274.1 286.7L275.3 287.0L276.5 287.4L277.7 287.8L278.9 288.2L280.1 288.5L281.4 288.9L282.6 289.3L283.8 289.6L285.0 290.0" stroke="#0b8381" stroke-width="1.45"  clip-path="url(#c1)"/>
<text transform="translate(108.9 196.6) scale(0.92 1)" fill="#0b8381" stroke="#0b8381" stroke-width="0.1" font-size="9.6">O</text>
<text transform="translate(111.2 214.6) scale(0.92 1)" fill="#0b8381" stroke="#0b8381" stroke-width="0.1" font-size="9.6">O</text>
<text transform="translate(116.9 230.0) scale(0.92 1)" fill="#0b8381" stroke="#0b8381" stroke-width="0.1" font-size="9.6">O</text>
<text transform="translate(130.1 240.8) scale(0.92 1)" fill="#0b8381" stroke="#0b8381" stroke-width="0.1" font-size="9.6">O</text>
<text transform="translate(147.4 248.1) scale(0.92 1)" fill="#0b8381" stroke="#0b8381" stroke-width="0.1" font-size="9.6">O</text>
<text transform="translate(167.9 255.1) scale(0.92 1)" fill="#0b8381" stroke="#0b8381" stroke-width="0.1" font-size="9.6">O</text>
<text transform="translate(190.6 262.3) scale(0.92 1)" fill="#0b8381" stroke="#0b8381" stroke-width="0.1" font-size="9.6">O</text>
<text transform="translate(216.0 270.9) scale(0.92 1)" fill="#0b8381" stroke="#0b8381" stroke-width="0.1" font-size="9.6">O</text>
<text transform="translate(246.0 280.9) scale(0.92 1)" fill="#0b8381" stroke="#0b8381" stroke-width="0.1" font-size="9.6">O</text>
<path d="M104.5 100.0L104.5 101.2L104.5 102.4L104.5 103.6L104.5 104.9L104.5 106.1L104.5 107.3L104.5 108.5L104.6 109.7L104.6 110.9L104.6 112.2L104.6 113.4L104.6 114.6L104.6 115.8L104.7 117.0L104.7 118.2L104.7 119.5L104.7 120.7L104.7 121.9L104.8 123.1L104.8 124.3L104.8 125.5L104.8 126.8L104.9 128.0L104.9 129.2L104.9 130.4L105.0 131.6L105.0 132.8L105.0 134.0L105.1 135.3L105.1 136.5L105.1 137.7L105.2 138.9L105.2 140.1L105.2 141.3L105.3 142.6L105.3 143.8L105.3 145.0L105.4 146.2L105.4 147.4L105.4 148.6L105.5 149.8L105.5 151.1L105.6 152.3L105.6 153.5L105.6 154.7L105.7 155.9L105.7 157.1L105.7 158.4L105.8 159.6L105.8 160.0L105.8 160.8L105.9 162.0L105.9 163.2L106.0 164.4L106.0 165.6L106.0 166.9L106.1 168.1L106.1 169.3L106.2 170.5L106.2 171.7L106.3 172.9L106.3 174.2L106.4 175.4L106.5 176.6L106.5 177.8L106.6 179.0L106.7 180.2L106.7 181.5L106.8 182.7L106.9 183.9L106.9 185.1L107.0 186.3L107.1 187.5L107.2 188.7L107.2 189.9L107.3 191.2L107.4 192.4L107.5 193.6L107.6 194.8L107.7 196.0L107.8 197.2L107.9 198.4L108.0 199.6L108.0 200.0L108.1 200.8L108.2 202.1L108.3 203.3L108.5 204.5L108.6 205.7L108.8 206.9L109.0 208.1L109.1 209.3L109.3 210.5L109.5 211.7L109.7 212.9L109.9 214.1L110.1 215.3L110.1 215.3L111.3 219.5L112.5 223.4L113.8 226.9L115.0 230.1L116.2 233.0L117.4 235.6L118.6 237.9L119.8 239.9L121.1 241.6L122.3 243.0L123.5 244.3L124.7 245.4L125.9 246.3L127.2 247.1L128.4 247.9L129.6 248.6L130.8 249.2L132.0 249.9L133.3 250.5L134.5 251.1L135.7 251.7L136.9 252.3L138.1 252.8L139.3 253.4L140.6 253.9L141.8 254.4L143.0 254.9L144.2 255.3L145.4 255.8L146.7 256.3L147.9 256.7L149.1 257.1L150.3 257.6L151.5 258.0L152.8 258.4L154.0 258.8L155.2 259.2L156.4 259.5L157.6 259.9L158.8 260.3L160.1 260.7L161.3 261.0L162.5 261.4L163.7 261.8L164.9 262.1L166.2 262.5L167.4 262.9L168.6 263.2L169.8 263.6L171.0 264.0L172.3 264.4L173.5 264.7L174.7 265.1L175.9 265.5L177.1 265.9L178.3 266.3L179.6 266.7L180.8 267.0L182.0 267.4L183.2 267.8L184.4 268.2L185.7 268.6L186.9 269.0L188.1 269.4L189.3 269.8L190.5 270.2L191.8 270.6L193.0 270.9L194.2 271.3L195.4 271.7L196.6 272.1L197.8 272.5L199.1 272.9L200.3 273.3L201.5 273.7L202.7 274.1L203.9 274.5L205.2 274.9L206.4 275.3L207.6 275.6L208.8 276.0L210.0 276.4L211.3 276.8L212.5 277.2L213.7 277.6L214.9 278.0L216.1 278.3L217.3 278.7L218.6 279.1L219.8 279.5L221.0 279.8L222.2 280.2L223.4 280.6L224.7 280.9L225.9 281.3L227.1 281.6L228.3 282.0L229.5 282.4L230.8 282.7L232.0 283.1L233.2 283.4L234.4 283.7L235.6 284.1L236.8 284.4L238.1 284.7L239.3 285.1L240.5 285.4L241.7 285.7L242.9 286.0L244.2 286.3L245.4 286.6L246.6 287.0L247.8 287.3L249.0 287.5L250.3 287.8L251.5 288.1L252.7 288.4L253.9 288.7L255.1 289.0L256.3 289.2L257.6 289.5L258.8 289.7L260.0 290.0" stroke="#0b8381" stroke-width="1.45"  clip-path="url(#c1)"/>
<text transform="translate(108.9 211.2) scale(0.92 1)" fill="#0b8381" stroke="#0b8381" stroke-width="0.1" font-size="9.6">Ne</text>
<text transform="translate(111.2 222.7) scale(0.92 1)" fill="#0b8381" stroke="#0b8381" stroke-width="0.1" font-size="9.6">Ne</text>
<text transform="translate(116.9 238.7) scale(0.92 1)" fill="#0b8381" stroke="#0b8381" stroke-width="0.1" font-size="9.6">Ne</text>
<text transform="translate(130.1 251.7) scale(0.92 1)" fill="#0b8381" stroke="#0b8381" stroke-width="0.1" font-size="9.6">Ne</text>
<text transform="translate(147.4 259.8) scale(0.92 1)" fill="#0b8381" stroke="#0b8381" stroke-width="0.1" font-size="9.6">Ne</text>
<text transform="translate(167.9 266.0) scale(0.92 1)" fill="#0b8381" stroke="#0b8381" stroke-width="0.1" font-size="9.6">Ne</text>
<text transform="translate(190.6 273.3) scale(0.92 1)" fill="#0b8381" stroke="#0b8381" stroke-width="0.1" font-size="9.6">Ne</text>
<text transform="translate(216.0 281.4) scale(0.92 1)" fill="#0b8381" stroke="#0b8381" stroke-width="0.1" font-size="9.6">Ne</text>
<path d="M104.6 80.0L104.6 81.2L104.6 82.4L104.6 83.7L104.6 84.9L104.6 86.1L104.7 87.3L104.7 88.6L104.7 89.8L104.7 91.0L104.7 92.2L104.7 93.5L104.8 94.7L104.8 95.9L104.8 97.1L104.8 98.3L104.8 99.6L104.9 100.8L104.9 102.0L104.9 103.2L104.9 104.5L105.0 105.7L105.0 106.9L105.0 108.1L105.1 109.3L105.1 110.6L105.1 111.8L105.1 113.0L105.2 114.2L105.2 115.5L105.2 116.7L105.3 117.9L105.3 119.1L105.3 120.4L105.4 121.6L105.4 122.8L105.4 124.0L105.5 125.2L105.5 126.5L105.5 127.7L105.6 128.9L105.6 130.0L105.6 130.1L105.6 131.4L105.7 132.6L105.7 133.8L105.8 135.0L105.8 136.2L105.8 137.5L105.9 138.7L105.9 139.9L106.0 141.1L106.0 142.4L106.1 143.6L106.1 144.8L106.2 146.0L106.2 147.2L106.3 148.5L106.3 149.7L106.4 150.9L106.4 152.1L106.5 153.4L106.6 154.6L106.6 155.8L106.7 157.0L106.8 158.2L106.8 159.5L106.9 160.7L107.0 161.9L107.1 163.1L107.2 164.3L107.2 165.0L107.2 165.6L107.3 166.8L107.4 168.0L107.5 169.2L107.7 170.4L107.8 171.6L107.9 172.9L108.1 174.1L108.2 175.3L108.4 176.5L108.5 177.7L108.7 178.9L108.8 180.1L109.0 181.4L109.2 182.6L109.4 183.8L109.5 185.0L109.7 186.2L109.9 187.4L110.0 188.0L110.1 188.6L110.3 189.8L110.5 191.0L110.7 192.2L110.9 193.4L111.2 194.6L111.4 195.8L111.7 197.0L111.9 198.2L112.2 199.4L112.5 200.6L112.7 201.8L113.0 203.0" stroke="#0b8381" stroke-width="1.40"  clip-path="url(#c1)"/>
<path d="M104.9 80.0L104.9 81.2L104.9 82.4L104.9 83.6L105.0 84.9L105.0 86.1L105.0 87.3L105.0 88.5L105.0 89.7L105.0 90.9L105.1 92.2L105.1 93.4L105.1 94.6L105.2 95.8L105.2 97.0L105.2 98.2L105.2 99.5L105.3 100.7L105.3 101.9L105.3 103.1L105.4 104.3L105.4 105.5L105.5 106.8L105.5 108.0L105.5 109.2L105.6 110.4L105.6 111.6L105.7 112.8L105.7 114.0L105.7 115.3L105.8 116.5L105.8 117.7L105.9 118.9L105.9 120.1L106.0 121.3L106.0 122.6L106.1 123.8L106.1 125.0L106.2 126.2L106.2 127.4L106.2 128.6L106.3 129.8L106.3 130.0L106.3 131.1L106.4 132.3L106.4 133.5L106.5 134.7L106.6 135.9L106.6 137.1L106.7 138.3L106.7 139.6L106.8 140.8L106.9 142.0L107.0 143.2L107.0 144.4L107.1 145.6L107.2 146.8L107.2 148.1L107.3 149.3L107.4 150.5L107.5 151.7L107.6 152.9L107.7 154.1L107.7 155.3L107.8 156.6L107.9 157.8L108.0 159.0L108.1 160.2L108.2 161.4L108.3 162.6L108.4 163.8L108.5 165.0L108.5 165.0L108.6 166.2L108.7 167.5L108.8 168.7L108.9 169.9L109.1 171.1L109.2 172.3L109.3 173.5L109.4 174.7L109.6 175.9L109.7 177.1L109.8 178.3L110.0 179.6L110.1 180.8L110.3 182.0L110.4 183.2L110.6 184.4L110.7 185.6L110.9 186.8L111.0 188.0L111.2 189.2L111.4 190.4L111.5 191.6L111.7 192.8L111.9 194.0L112.0 195.0L112.0 195.2L112.2 196.4L112.4 197.6L112.6 198.8L112.8 200.0L113.0 201.2L113.2 202.4L113.4 203.6L113.6 204.8L113.8 206.0L114.1 207.2L114.3 208.4L114.5 209.6L114.8 210.8L115.0 212.0" stroke="#0b8381" stroke-width="1.40"  clip-path="url(#c1)"/>
<path d="M105.3 80.0L105.3 81.2L105.4 82.4L105.4 83.7L105.4 84.9L105.5 86.1L105.5 87.3L105.5 88.6L105.6 89.8L105.6 91.0L105.7 92.2L105.7 93.5L105.8 94.7L105.8 95.9L105.9 97.1L105.9 98.4L106.0 99.6L106.0 100.8L106.1 102.0L106.1 103.2L106.2 104.5L106.3 105.7L106.3 106.9L106.4 108.1L106.4 109.4L106.5 110.6L106.6 111.8L106.6 113.0L106.7 114.2L106.8 115.5L106.8 116.7L106.9 117.9L107.0 119.1L107.0 120.4L107.1 121.6L107.2 122.8L107.2 124.0L107.3 125.0L107.3 125.2L107.4 126.5L107.5 127.7L107.5 128.9L107.6 130.1L107.7 131.3L107.8 132.6L107.9 133.8L108.0 135.0L108.0 136.2L108.1 137.5L108.2 138.7L108.3 139.9L108.4 141.1L108.5 142.3L108.6 143.6L108.7 144.8L108.8 146.0L109.0 147.2L109.1 148.4L109.2 149.7L109.3 150.9L109.4 152.1L109.5 153.3L109.6 154.5L109.8 155.7L109.9 157.0L110.0 158.0L110.0 158.2L110.1 159.4L110.3 160.6L110.4 161.8L110.6 163.0L110.7 164.2L110.9 165.5L111.0 166.7L111.2 167.9L111.4 169.1L111.5 170.3L111.7 171.5L111.9 172.7L112.1 173.9L112.2 175.2L112.4 176.4L112.6 177.6L112.8 178.8L113.0 180.0" stroke="#0b8381" stroke-width="1.40"  clip-path="url(#c1)"/>
<text transform="translate(102.9 189.4) scale(0.92 1)" fill="#0b8381" stroke="#0b8381" stroke-width="0.25" font-size="9.6">C</text>
<text transform="translate(102.2 148.6) scale(0.92 1)" fill="#0b8381" stroke="#0b8381" stroke-width="0.25" font-size="9.6">O</text>
<text transform="translate(102.8 120.5) scale(0.92 1)" fill="#0b8381" stroke="#0b8381" stroke-width="0.25" font-size="9.6">N</text>
<text transform="translate(102.8 165.4) scale(0.92 1)" fill="#0b8381" stroke="#0b8381" stroke-width="0.25" font-size="9.6">C</text>
<text transform="translate(101.5 146.7) scale(0.92 1)" fill="#0b8381" stroke="#0b8381" stroke-width="0.25" font-size="9.6">Mg</text>
<text transform="translate(102.6 183.7) scale(0.92 1)" fill="#0b8381" stroke="#0b8381" stroke-width="0.25" font-size="9.6">N</text>
<text transform="translate(102.0 161.9) scale(0.92 1)" fill="#0b8381" stroke="#0b8381" stroke-width="0.25" font-size="9.6">Mg</text>
<text transform="translate(102.4 167.8) scale(0.92 1)" fill="#0b8381" stroke="#0b8381" stroke-width="0.25" font-size="9.6">C</text>
<text transform="translate(102.9 164.7) scale(0.92 1)" fill="#0b8381" stroke="#0b8381" stroke-width="0.25" font-size="9.6">O</text>
<text transform="translate(101.6 107.2) scale(0.92 1)" fill="#0b8381" stroke="#0b8381" stroke-width="0.25" font-size="9.6">Mg</text>
<text transform="translate(102.8 162.3) scale(0.92 1)" fill="#0b8381" stroke="#0b8381" stroke-width="0.25" font-size="9.6">O</text>
<text transform="translate(102.9 146.1) scale(0.92 1)" fill="#0b8381" stroke="#0b8381" stroke-width="0.25" font-size="9.6">Ne</text>
<text transform="translate(101.8 125.0) scale(0.92 1)" fill="#0b8381" stroke="#0b8381" stroke-width="0.25" font-size="9.6">N</text>
<text transform="translate(102.1 168.7) scale(0.92 1)" fill="#0b8381" stroke="#0b8381" stroke-width="0.25" font-size="9.6">Mg</text>
<text transform="translate(102.3 142.6) scale(0.92 1)" fill="#0b8381" stroke="#0b8381" stroke-width="0.25" font-size="9.6">Ne</text>
<text transform="translate(101.7 109.6) scale(0.92 1)" fill="#0b8381" stroke="#0b8381" stroke-width="0.25" font-size="9.6">O</text>
<text transform="translate(101.8 124.5) scale(0.92 1)" fill="#0b8381" stroke="#0b8381" stroke-width="0.25" font-size="9.6">O</text>
<text transform="translate(101.4 158.6) scale(0.92 1)" fill="#0b8381" stroke="#0b8381" stroke-width="0.25" font-size="9.6">Mg</text>
<text transform="translate(102.0 187.5) scale(0.92 1)" fill="#0b8381" stroke="#0b8381" stroke-width="0.25" font-size="9.6">Mg</text>
<text transform="translate(101.2 187.5) scale(0.92 1)" fill="#0b8381" stroke="#0b8381" stroke-width="0.25" font-size="9.6">Mg</text>
<text transform="translate(101.3 195.7) scale(0.92 1)" fill="#0b8381" stroke="#0b8381" stroke-width="0.25" font-size="9.6">O</text>
<text transform="translate(102.0 201.1) scale(0.92 1)" fill="#0b8381" stroke="#0b8381" stroke-width="0.25" font-size="9.6">C</text>
<text transform="translate(101.6 158.9) scale(0.92 1)" fill="#0b8381" stroke="#0b8381" stroke-width="0.25" font-size="9.6">Mg</text>
<text transform="translate(101.4 128.6) scale(0.92 1)" fill="#0b8381" stroke="#0b8381" stroke-width="0.25" font-size="9.6">Mg</text>
<text transform="translate(102.0 102.7) scale(0.92 1)" fill="#0b8381" stroke="#0b8381" stroke-width="0.25" font-size="9.6">Ne</text>
<text transform="translate(102.6 114.8) scale(0.92 1)" fill="#0b8381" stroke="#0b8381" stroke-width="0.25" font-size="9.6">Mg</text>
<text transform="translate(102.8 107.2) scale(0.92 1)" fill="#0b8381" stroke="#0b8381" stroke-width="0.25" font-size="9.6">Mg</text>
<text transform="translate(101.6 170.7) scale(0.92 1)" fill="#0b8381" stroke="#0b8381" stroke-width="0.25" font-size="9.6">O</text>
<text transform="translate(102.7 120.6) scale(0.92 1)" fill="#0b8381" stroke="#0b8381" stroke-width="0.25" font-size="9.6">N</text>
<text transform="translate(102.0 143.9) scale(0.92 1)" fill="#0b8381" stroke="#0b8381" stroke-width="0.25" font-size="9.6">O</text>
<text transform="translate(101.6 144.0) scale(0.92 1)" fill="#0b8381" stroke="#0b8381" stroke-width="0.25" font-size="9.6">C</text>
<text transform="translate(103.1 189.3) scale(0.92 1)" fill="#0b8381" stroke="#0b8381" stroke-width="0.25" font-size="9.6">Ne</text>
<text transform="translate(103.0 132.1) scale(0.92 1)" fill="#0b8381" stroke="#0b8381" stroke-width="0.25" font-size="9.6">N</text>
<text transform="translate(103.2 120.2) scale(0.92 1)" fill="#0b8381" stroke="#0b8381" stroke-width="0.25" font-size="9.6">O</text>
<text transform="translate(101.4 166.6) scale(0.92 1)" fill="#0b8381" stroke="#0b8381" stroke-width="0.25" font-size="9.6">N</text>
<text transform="translate(101.7 122.9) scale(0.92 1)" fill="#0b8381" stroke="#0b8381" stroke-width="0.25" font-size="9.6">O</text>
<text transform="translate(102.9 163.4) scale(0.92 1)" fill="#0b8381" stroke="#0b8381" stroke-width="0.25" font-size="9.6">O</text>
<text transform="translate(101.4 108.6) scale(0.92 1)" fill="#0b8381" stroke="#0b8381" stroke-width="0.25" font-size="9.6">C</text>
<text transform="translate(101.2 166.1) scale(0.92 1)" fill="#0b8381" stroke="#0b8381" stroke-width="0.25" font-size="9.6">N</text>
<text transform="translate(102.1 139.0) scale(0.92 1)" fill="#0b8381" stroke="#0b8381" stroke-width="0.25" font-size="9.6">Ne</text>
<text transform="translate(102.0 272.2) scale(0.92 1)" fill="#0b8381" stroke="#0b8381" stroke-width="0.25" font-size="9.6">C</text>
<text transform="translate(102.0 222.2) scale(0.92 1)" fill="#0b8381" stroke="#0b8381" stroke-width="0.25" font-size="9.6">C</text>
<text transform="translate(102.1 271.1) scale(0.92 1)" fill="#0b8381" stroke="#0b8381" stroke-width="0.25" font-size="9.6">Ne</text>
<text transform="translate(102.6 220.3) scale(0.92 1)" fill="#0b8381" stroke="#0b8381" stroke-width="0.25" font-size="9.6">Ne</text>
<text transform="translate(102.3 261.0) scale(0.92 1)" fill="#0b8381" stroke="#0b8381" stroke-width="0.25" font-size="9.6">Ne</text>
<text transform="translate(109.2 172.5) scale(0.92 1)" fill="#0b8381" stroke="#0b8381" stroke-width="0.25" font-size="9.6">C</text>
<text transform="translate(106.8 115.7) scale(0.92 1)" fill="#0b8381" stroke="#0b8381" stroke-width="0.25" font-size="9.6">Mg</text>
<text transform="translate(108.0 130.5) scale(0.92 1)" fill="#0b8381" stroke="#0b8381" stroke-width="0.25" font-size="9.6">Ne</text>
<text transform="translate(109.4 151.5) scale(0.92 1)" fill="#0b8381" stroke="#0b8381" stroke-width="0.25" font-size="9.6">Ne</text>
<text transform="translate(107.0 136.9) scale(0.92 1)" fill="#0b8381" stroke="#0b8381" stroke-width="0.25" font-size="9.6">C</text>
<text transform="translate(106.9 117.7) scale(0.92 1)" fill="#0b8381" stroke="#0b8381" stroke-width="0.25" font-size="9.6">Mg</text>
<text transform="translate(108.7 135.3) scale(0.92 1)" fill="#0b8381" stroke="#0b8381" stroke-width="0.25" font-size="9.6">Mg</text>
<text transform="translate(109.0 189.3) scale(0.92 1)" fill="#0b8381" stroke="#0b8381" stroke-width="0.25" font-size="9.6">O</text>
<text transform="translate(107.5 154.4) scale(0.92 1)" fill="#0b8381" stroke="#0b8381" stroke-width="0.25" font-size="9.6">C</text>
<text transform="translate(107.8 135.5) scale(0.92 1)" fill="#0b8381" stroke="#0b8381" stroke-width="0.25" font-size="9.6">O</text>
<text transform="translate(105.8 113.7) scale(0.92 1)" fill="#0b8381" stroke="#0b8381" stroke-width="0.25" font-size="9.6">O</text>
<text transform="translate(111.7 215.9) scale(0.92 1)" fill="#0b8381" stroke="#0b8381" stroke-width="0.25" font-size="9.6">C</text>
<text transform="translate(110.4 171.0) scale(0.92 1)" fill="#0b8381" stroke="#0b8381" stroke-width="0.25" font-size="9.6">O</text>
<text transform="translate(111.5 207.8) scale(0.92 1)" fill="#0b8381" stroke="#0b8381" stroke-width="0.25" font-size="9.6">C</text>
<text transform="translate(106.7 105.6) scale(0.92 1)" fill="#0b8381" stroke="#0b8381" stroke-width="0.25" font-size="9.6">Mg</text>
<text transform="translate(106.1 110.9) scale(0.92 1)" fill="#0b8381" stroke="#0b8381" stroke-width="0.25" font-size="9.6">C</text>
<text transform="translate(100.0 243.1) scale(0.92 1)" fill="#0b8381" stroke="#0b8381" stroke-width="0.1" font-size="9.6">Mg</text>
<text transform="translate(113.0 143.1) scale(0.92 1)" fill="#0b8381" stroke="#0b8381" stroke-width="0.1" font-size="9.6">C</text>
<text transform="translate(111.0 123.1) scale(0.92 1)" fill="#0b8381" stroke="#0b8381" stroke-width="0.1" font-size="9.6">C</text>
<text transform="translate(99.5 95.1) scale(0.92 1)" fill="#0b8381" stroke="#0b8381" stroke-width="0.1" font-size="9.6">N</text>
<path d="M100.8 285.0L100.8 283.8L100.8 282.6L100.8 281.4L100.8 280.2L100.8 278.9L100.8 277.7L100.8 276.5L100.8 275.3L100.8 274.1L100.8 272.9L100.8 271.7L100.8 270.5L100.8 269.2L100.8 268.0L100.8 266.8L100.8 265.6L100.8 264.4L100.8 263.2L100.8 262.0L100.8 260.8L100.8 259.5L100.8 258.3L100.8 257.1L100.8 255.9L100.8 254.7L100.8 253.5L100.8 252.3L100.8 251.1L100.8 249.8L100.8 248.6L100.8 247.4L100.8 246.2L100.8 245.0L100.8 243.8L100.8 242.6L100.8 241.4L100.8 240.2L100.8 238.9L100.8 237.7L100.8 236.5L100.8 235.3L100.8 234.1L100.8 232.9L100.8 231.7L100.8 230.5L100.8 229.2L100.8 228.0L100.8 226.8L100.8 225.6L100.9 224.4L100.9 223.2L100.9 222.0L100.9 220.8L100.9 219.5L100.9 218.3L100.9 217.1L100.9 215.9L100.9 214.7L100.9 213.5L100.9 212.3L100.9 211.1L100.9 209.8L100.9 208.6L100.9 207.4L100.9 206.2L100.9 205.0L100.9 203.8L100.9 202.6L100.9 201.4L100.9 200.2L100.9 198.9L100.9 197.7L100.9 196.5L100.9 195.3L100.9 194.1L100.9 192.9L100.9 191.7L100.9 190.5L100.9 189.2L100.9 188.0L100.9 186.8L100.9 185.6L100.9 184.4L100.9 183.2L100.9 182.0L100.9 180.8L100.9 179.5L100.9 178.3L100.9 177.1L100.9 175.9L100.9 174.7L100.9 173.5L100.9 172.3L100.9 171.1L100.9 169.8L100.9 168.6L100.9 167.4L100.9 166.2L100.9 165.0" stroke="#1a88ff" stroke-width="1.40"  clip-path="url(#c1)"/>
<path d="M102.6 285.0L102.6 283.8L102.6 282.6L102.6 281.4L102.6 280.2L102.6 279.0L102.6 277.8L102.6 276.5L102.6 275.3L102.6 274.1L102.6 272.9L102.6 271.7L102.6 270.5L102.6 269.3L102.6 268.1L102.6 266.9L102.6 265.7L102.6 264.5L102.6 263.3L102.6 262.1L102.6 260.8L102.6 259.6L102.6 258.4L102.6 257.2L102.6 256.0L102.6 254.8L102.6 253.6L102.6 252.4L102.6 251.2L102.6 250.0L102.6 248.8L102.6 247.6L102.6 246.3L102.6 245.1L102.6 243.9L102.7 242.7L102.7 241.5L102.7 240.3L102.7 239.1L102.7 237.9L102.7 236.7L102.7 235.5L102.7 234.3L102.7 233.1L102.7 231.9L102.7 230.6L102.7 229.4L102.7 228.2L102.7 227.0L102.7 225.8L102.7 224.6L102.7 223.4L102.7 222.2L102.7 221.0L102.7 219.8L102.7 218.6L102.7 217.4L102.7 216.2L102.7 214.9L102.7 213.7L102.7 212.5L102.7 211.3L102.7 210.1L102.7 208.9L102.7 207.7L102.7 206.5L102.7 205.3L102.7 204.1L102.7 202.9L102.7 201.7L102.7 200.4L102.8 199.2L102.8 198.0L102.8 196.8L102.8 195.6L102.8 194.4L102.8 193.2L102.8 192.0L102.8 190.8L102.8 189.6L102.8 188.4L102.8 187.2L102.8 186.0L102.8 184.7L102.8 183.5L102.8 182.3L102.8 181.1L102.8 179.9L102.8 178.7L102.8 177.5L102.8 176.3L102.8 175.1L102.8 173.9L102.8 172.7L102.8 171.5L102.8 170.3L102.8 169.0L102.8 167.8L102.8 166.6L102.9 165.4L102.9 164.2L102.9 163.0L102.9 161.8L102.9 160.6L102.9 159.4L102.9 158.2L102.9 157.0L102.9 155.8L102.9 154.6L102.9 153.3L102.9 152.1L102.9 150.9L102.9 150.0L102.9 149.7L102.9 148.5L102.9 147.3L102.9 146.1L102.9 144.9L102.9 143.7L102.9 142.5L102.9 141.3L102.9 140.1L102.9 138.8L102.9 137.6L102.9 136.4L103.0 135.2L103.0 134.0L103.0 132.8L103.0 131.6L103.0 130.4L103.0 129.2L103.0 128.0L103.0 126.8L103.0 125.6L103.0 124.4L103.0 123.1L103.0 121.9L103.0 120.7L103.0 119.5L103.0 118.3L103.0 117.1L103.0 115.9L103.0 114.7L103.1 113.5L103.1 112.3L103.1 111.1L103.1 109.9L103.1 108.7L103.1 107.4L103.1 106.2L103.1 105.0L103.1 103.8L103.1 102.6L103.1 101.4L103.1 100.2L103.1 99.0L103.1 97.8L103.1 96.6L103.2 95.4L103.2 94.2L103.2 92.9L103.2 91.7L103.2 90.5L103.2 89.3L103.2 88.1L103.2 86.9L103.2 85.7L103.2 84.5L103.2 83.3L103.2 82.1L103.2 80.9L103.2 79.7L103.2 78.5L103.3 77.2L103.3 76.0L103.3 74.8L103.3 73.6L103.3 72.4L103.3 71.2L103.3 70.0" stroke="#1a88ff" stroke-width="1.30"  clip-path="url(#c1)"/>
<path d="M104.9 62.0L104.9 63.2L105.0 64.5L105.0 65.7L105.1 66.9L105.1 68.1L105.2 69.4L105.2 70.6L105.3 71.8L105.3 73.0L105.4 74.3L105.5 75.5L105.5 76.7L105.6 78.0L105.6 79.2L105.7 80.4L105.7 81.6L105.8 82.9L105.9 84.1L105.9 85.3L106.0 86.5L106.0 87.8L106.1 89.0L106.2 90.2L106.2 91.5L106.3 92.7L106.4 93.9L106.4 95.1L106.5 96.4L106.6 97.6L106.6 98.8L106.7 100.0L106.8 101.3L106.9 102.5L106.9 103.7L107.0 104.9L107.0 105.0L107.1 106.2L107.1 107.4L107.2 108.6L107.3 109.9L107.3 111.1L107.4 112.3L107.5 113.5L107.6 114.8L107.6 116.0L107.7 117.2L107.8 118.4L107.9 119.7L107.9 120.9L108.0 122.1L108.1 123.4L108.2 124.6L108.3 125.8L108.4 127.0L108.4 128.3L108.5 129.5L108.6 130.7L108.7 131.9L108.8 133.2L108.9 134.4L109.1 135.6L109.2 136.8L109.3 138.0L109.4 139.3L109.5 140.0L109.6 140.5L109.7 141.7L109.9 142.9L110.0 144.1L110.2 145.3L110.4 146.5L110.7 147.8L110.9 149.0L111.1 150.2L111.4 151.4L111.6 152.6L111.9 153.8L112.1 155.0L112.1 155.1L113.3 159.4L114.5 163.2L115.7 166.6L116.9 169.6L118.1 172.3L119.3 174.6L120.6 176.6L121.8 178.3L123.0 179.7L124.2 181.0L125.4 182.0L126.6 182.9L127.8 183.7L129.0 184.4L130.2 185.1L131.4 185.7L132.6 186.2L133.8 186.8L135.1 187.3L136.3 187.8L137.5 188.3L138.7 188.8L139.9 189.2L141.1 189.7L142.3 190.1L143.5 190.5L144.7 190.9L145.9 191.3L147.1 191.7L148.3 192.2L149.6 192.6L150.8 193.0L152.0 193.4L153.2 193.8L154.4 194.2L155.6 194.6L156.8 194.9L158.0 195.3L159.2 195.7L160.4 196.1L161.6 196.5L162.8 196.9L164.1 197.3L165.3 197.7L166.5 198.1L167.7 198.5L168.9 198.8L170.1 199.2L171.3 199.6L172.5 200.0L173.7 200.4L174.9 200.8L176.1 201.1L177.3 201.5L178.6 201.9L179.8 202.3L181.0 202.6L182.2 203.0L183.4 203.4L184.6 203.8L185.8 204.1L187.0 204.5L188.2 204.9L189.4 205.2L190.6 205.6L191.8 206.0L193.1 206.3L194.3 206.7L195.5 207.1L196.7 207.4L197.9 207.8L199.1 208.1L200.3 208.5L201.5 208.9L202.7 209.2L203.9 209.6L205.1 209.9L206.3 210.3L207.6 210.7L208.8 211.0L210.0 211.4L211.2 211.7L212.4 212.1L213.6 212.4L214.8 212.8L216.0 213.1L217.2 213.5L218.4 213.8L219.6 214.2L220.8 214.5L222.1 214.9L223.3 215.2L224.5 215.5L225.7 215.9L226.9 216.2L228.1 216.6L229.3 216.9L230.5 217.3L231.7 217.6L232.9 218.0L234.1 218.3L235.3 218.7L236.6 219.0L237.8 219.4L239.0 219.7L240.2 220.0L241.4 220.4L242.6 220.7L243.8 221.1L245.0 221.4L246.2 221.8L247.4 222.2L248.6 222.5L249.8 222.9L251.0 223.2L252.3 223.6L253.5 223.9L254.7 224.3L255.9 224.7L257.1 225.0L258.3 225.4L259.5 225.8L260.7 226.1L261.9 226.5L263.1 226.9L264.3 227.2L265.5 227.6L266.8 228.0L268.0 228.4L269.2 228.8L270.4 229.1L271.6 229.5L272.8 229.9L274.0 230.3L275.2 230.7L276.4 231.1L277.6 231.5L278.8 231.9L280.0 232.3L281.3 232.7L282.5 233.1L283.7 233.6L284.9 234.0L286.1 234.4L287.3 234.8L288.5 235.3L289.7 235.7L290.9 236.1L292.1 236.6L293.3 237.0L294.5 237.5L295.8 237.9L297.0 238.4L298.2 238.8L299.4 239.3L300.6 239.7L301.8 240.2L303.0 240.7L304.2 241.2L305.4 241.7L306.6 242.1L307.8 242.6L309.0 243.1L310.3 243.6L311.5 244.1L312.7 244.6L313.9 245.2L315.1 245.7L316.3 246.2L317.5 246.7L318.7 247.3L319.9 247.8L321.1 248.4L322.3 248.9L323.5 249.5L324.8 250.0L326.0 250.6L327.2 251.2L328.4 251.8L329.6 252.3L330.8 252.9L332.0 253.5L333.2 254.1L334.4 254.7L335.6 255.4L336.8 256.0L338.0 256.6L339.3 257.2L340.5 257.9L341.7 258.5L342.9 259.2L344.1 259.8L345.3 260.5L346.5 261.2L347.7 261.9L348.9 262.5L350.1 263.2L351.3 263.9L352.5 264.6L353.8 265.4L355.0 266.1L356.2 266.8L357.4 267.6L358.6 268.3L359.8 269.1L361.0 269.8L362.2 270.6L363.4 271.4L364.6 272.1L365.8 272.9L367.0 273.7L368.3 274.5L369.5 275.3L370.7 276.2L371.9 277.0L373.1 277.8L374.3 278.7L375.5 279.5L376.7 280.4L377.9 281.3L379.1 282.2L380.3 283.1L381.5 284.0L382.8 284.9L384.0 285.8L385.2 286.7L386.4 287.6L387.6 288.6L388.8 289.5L390.0 290.5" stroke="#1a88ff" stroke-width="1.45"  clip-path="url(#c1)"/>
<text transform="translate(108.9 137.5) scale(0.92 1)" fill="#1a88ff" stroke="#1a88ff" stroke-width="0.1" font-size="9.6">Si</text>
<text transform="translate(111.2 153.3) scale(0.92 1)" fill="#1a88ff" stroke="#1a88ff" stroke-width="0.1" font-size="9.6">Si</text>
<text transform="translate(116.9 172.7) scale(0.92 1)" fill="#1a88ff" stroke="#1a88ff" stroke-width="0.1" font-size="9.6">Si</text>
<text transform="translate(130.1 188.2) scale(0.92 1)" fill="#1a88ff" stroke="#1a88ff" stroke-width="0.1" font-size="9.6">Si</text>
<text transform="translate(147.4 194.9) scale(0.92 1)" fill="#1a88ff" stroke="#1a88ff" stroke-width="0.1" font-size="9.6">Si</text>
<text transform="translate(167.9 201.6) scale(0.92 1)" fill="#1a88ff" stroke="#1a88ff" stroke-width="0.1" font-size="9.6">Si</text>
<text transform="translate(190.6 208.7) scale(0.92 1)" fill="#1a88ff" stroke="#1a88ff" stroke-width="0.1" font-size="9.6">Si</text>
<text transform="translate(216.0 216.2) scale(0.92 1)" fill="#1a88ff" stroke="#1a88ff" stroke-width="0.1" font-size="9.6">Si</text>
<text transform="translate(246.0 224.9) scale(0.92 1)" fill="#1a88ff" stroke="#1a88ff" stroke-width="0.1" font-size="9.6">Si</text>
<text transform="translate(284.3 237.1) scale(0.92 1)" fill="#1a88ff" stroke="#1a88ff" stroke-width="0.1" font-size="9.6">Si</text>
<text transform="translate(336.7 259.1) scale(0.92 1)" fill="#1a88ff" stroke="#1a88ff" stroke-width="0.1" font-size="9.6">Si</text>
<path d="M105.0 62.0L105.0 63.2L105.1 64.4L105.1 65.7L105.2 66.9L105.2 68.1L105.3 69.3L105.3 70.6L105.4 71.8L105.4 73.0L105.5 74.2L105.5 75.4L105.6 76.7L105.6 77.9L105.7 79.1L105.8 80.3L105.8 81.5L105.9 82.8L106.0 84.0L106.0 85.2L106.1 86.4L106.2 87.6L106.3 88.9L106.3 90.1L106.4 91.3L106.5 92.5L106.6 93.7L106.7 95.0L106.7 96.2L106.8 97.4L106.9 98.6L107.0 99.8L107.0 100.0L107.1 101.1L107.2 102.3L107.2 103.5L107.3 104.7L107.4 105.9L107.5 107.2L107.6 108.4L107.7 109.6L107.8 110.8L107.9 112.1L108.0 113.3L108.1 114.5L108.2 115.7L108.3 117.0L108.4 118.2L108.5 119.4L108.6 120.6L108.8 121.8L108.9 123.1L109.0 124.3L109.2 125.5L109.3 126.7L109.5 127.9L109.6 129.1L109.8 130.3L109.9 131.5L110.1 132.7L110.3 133.9L110.5 135.1L110.6 136.0L110.6 136.3L110.9 137.5L111.1 138.7L111.4 139.9L111.7 141.0L112.0 142.2L112.3 143.4L112.7 144.6L113.0 145.7L113.4 146.9L113.8 148.1L114.2 149.2L114.7 150.4L115.1 151.5L115.5 152.7L116.0 153.8L116.4 155.0L116.4 155.0L117.6 158.4L118.8 161.3L120.0 163.9L121.2 166.1L122.4 168.0L123.7 169.5L124.9 170.9L126.1 172.0L127.3 172.9L128.5 173.7L129.7 174.4L130.9 175.0L132.1 175.4L133.3 175.9L134.5 176.3L135.7 176.6L137.0 177.0L138.2 177.4L139.4 177.8L140.6 178.2L141.8 178.6L143.0 179.0L144.2 179.4L145.4 179.8L146.6 180.2L147.8 180.6L149.1 181.0L150.3 181.4L151.5 181.9L152.7 182.3L153.9 182.7L155.1 183.1L156.3 183.5L157.5 183.9L158.7 184.3L159.9 184.7L161.1 185.1L162.4 185.5L163.6 185.9L164.8 186.3L166.0 186.7L167.2 187.1L168.4 187.5L169.6 187.9L170.8 188.3L172.0 188.7L173.2 189.0L174.4 189.4L175.7 189.8L176.9 190.2L178.1 190.6L179.3 190.9L180.5 191.3L181.7 191.7L182.9 192.0L184.1 192.4L185.3 192.8L186.5 193.1L187.7 193.5L189.0 193.8L190.2 194.2L191.4 194.6L192.6 194.9L193.8 195.3L195.0 195.6L196.2 196.0L197.4 196.3L198.6 196.7L199.8 197.0L201.0 197.4L202.3 197.7L203.5 198.1L204.7 198.4L205.9 198.8L207.1 199.1L208.3 199.4L209.5 199.8L210.7 200.1L211.9 200.5L213.1 200.8L214.4 201.1L215.6 201.5L216.8 201.8L218.0 202.2L219.2 202.5L220.4 202.8L221.6 203.2L222.8 203.5L224.0 203.9L225.2 204.2L226.4 204.5L227.7 204.9L228.9 205.2L230.1 205.6L231.3 205.9L232.5 206.2L233.7 206.6L234.9 206.9L236.1 207.3L237.3 207.6L238.5 208.0L239.7 208.3L241.0 208.6L242.2 209.0L243.4 209.3L244.6 209.7L245.8 210.0L247.0 210.4L248.2 210.7L249.4 211.1L250.6 211.4L251.8 211.8L253.0 212.1L254.3 212.5L255.5 212.8L256.7 213.2L257.9 213.6L259.1 213.9L260.3 214.3L261.5 214.6L262.7 215.0L263.9 215.4L265.1 215.7L266.4 216.1L267.6 216.5L268.8 216.9L270.0 217.2L271.2 217.6L272.4 218.0L273.6 218.4L274.8 218.8L276.0 219.2L277.2 219.6L278.4 220.0L279.7 220.4L280.9 220.8L282.1 221.2L283.3 221.6L284.5 222.0L285.7 222.4L286.9 222.8L288.1 223.2L289.3 223.6L290.5 224.1L291.7 224.5L293.0 224.9L294.2 225.4L295.4 225.8L296.6 226.3L297.8 226.7L299.0 227.2L300.2 227.6L301.4 228.1L302.6 228.5L303.8 229.0L305.0 229.5L306.3 230.0L307.5 230.4L308.7 230.9L309.9 231.4L311.1 231.9L312.3 232.4L313.5 232.9L314.7 233.4L315.9 234.0L317.1 234.5L318.4 235.0L319.6 235.5L320.8 236.1L322.0 236.6L323.2 237.2L324.4 237.7L325.6 238.3L326.8 238.8L328.0 239.4L329.2 240.0L330.4 240.5L331.7 241.1L332.9 241.7L334.1 242.3L335.3 242.9L336.5 243.5L337.7 244.1L338.9 244.8L340.1 245.4L341.3 246.0L342.5 246.7L343.7 247.3L345.0 248.0L346.2 248.6L347.4 249.3L348.6 250.0L349.8 250.7L351.0 251.4L352.2 252.1L353.4 252.8L354.6 253.5L355.8 254.2L357.0 254.9L358.3 255.6L359.5 256.4L360.7 257.1L361.9 257.9L363.1 258.6L364.3 259.4L365.5 260.2L366.7 261.0L367.9 261.8L369.1 262.6L370.3 263.4L371.6 264.2L372.8 265.0L374.0 265.9L375.2 266.7L376.4 267.6L377.6 268.4L378.8 269.3L380.0 270.2L381.2 271.1L382.4 272.0L383.7 272.9L384.9 273.8L386.1 274.7L387.3 275.6L388.5 276.6L389.7 277.5L390.9 278.5L392.1 279.4L393.3 280.4L394.5 281.4L395.7 282.4L397.0 283.4L398.2 284.4L399.4 285.5L400.6 286.5L401.8 287.5L403.0 288.6" stroke="#1a88ff" stroke-width="1.45"  clip-path="url(#c1)"/>
<text transform="translate(108.9 126.2) scale(0.92 1)" fill="#1a88ff" stroke="#1a88ff" stroke-width="0.1" font-size="9.6">S</text>
<text transform="translate(111.2 141.8) scale(0.92 1)" fill="#1a88ff" stroke="#1a88ff" stroke-width="0.1" font-size="9.6">S</text>
<text transform="translate(116.9 158.1) scale(0.92 1)" fill="#1a88ff" stroke="#1a88ff" stroke-width="0.1" font-size="9.6">S</text>
<text transform="translate(130.1 177.5) scale(0.92 1)" fill="#1a88ff" stroke="#1a88ff" stroke-width="0.1" font-size="9.6">S</text>
<text transform="translate(147.4 183.7) scale(0.92 1)" fill="#1a88ff" stroke="#1a88ff" stroke-width="0.1" font-size="9.6">S</text>
<text transform="translate(167.9 190.6) scale(0.92 1)" fill="#1a88ff" stroke="#1a88ff" stroke-width="0.1" font-size="9.6">S</text>
<text transform="translate(190.6 197.3) scale(0.92 1)" fill="#1a88ff" stroke="#1a88ff" stroke-width="0.1" font-size="9.6">S</text>
<text transform="translate(216.0 204.6) scale(0.92 1)" fill="#1a88ff" stroke="#1a88ff" stroke-width="0.1" font-size="9.6">S</text>
<text transform="translate(246.0 213.1) scale(0.92 1)" fill="#1a88ff" stroke="#1a88ff" stroke-width="0.1" font-size="9.6">S</text>
<text transform="translate(284.3 225.1) scale(0.92 1)" fill="#1a88ff" stroke="#1a88ff" stroke-width="0.1" font-size="9.6">S</text>
<text transform="translate(336.7 246.7) scale(0.92 1)" fill="#1a88ff" stroke="#1a88ff" stroke-width="0.1" font-size="9.6">S</text>
<text transform="translate(396.5 286.5) scale(0.92 1)" fill="#1a88ff" stroke="#1a88ff" stroke-width="0.1" font-size="9.6">S</text>
<path d="M105.2 62.0L105.3 63.2L105.4 64.5L105.5 65.7L105.6 67.0L105.7 68.2L105.8 69.5L105.9 70.7L106.0 71.9L106.2 73.2L106.3 74.4L106.5 75.7L106.6 76.9L106.8 78.1L106.9 79.4L107.0 80.0L107.1 80.6L107.2 81.8L107.4 83.1L107.6 84.3L107.8 85.5L108.0 86.8L108.2 88.0L108.5 89.2L108.7 90.4L108.9 91.7L109.2 92.9L109.4 94.1L109.7 95.3L109.9 96.5L110.0 97.0L110.2 97.8L110.4 99.0L110.7 100.2L110.9 101.4L111.2 102.6L111.5 103.9L111.7 105.1L112.0 106.3L112.3 107.5L112.6 108.7L112.9 109.9L113.2 111.1L113.5 112.3L113.8 113.6L114.1 114.8L114.4 116.0L114.7 117.2L115.0 118.4L115.3 119.6L115.7 120.8L116.0 122.0L116.0 122.0L117.2 129.4L118.4 134.9L119.6 138.8L120.8 141.4L122.0 143.1L123.3 144.1L124.5 144.7L125.7 145.3L126.9 145.9L128.1 146.6L129.3 147.3L130.5 147.9L131.7 148.6L132.9 149.2L134.1 149.8L135.3 150.4L136.6 151.0L137.8 151.5L139.0 152.0L140.2 152.5L141.4 153.0L142.6 153.5L143.8 154.0L145.0 154.4L146.2 154.9L147.4 155.3L148.6 155.8L149.9 156.2L151.1 156.7L152.3 157.1L153.5 157.5L154.7 158.0L155.9 158.4L157.1 158.8L158.3 159.2L159.5 159.7L160.7 160.1L161.9 160.5L163.2 160.9L164.4 161.3L165.6 161.7L166.8 162.1L168.0 162.5L169.2 162.9L170.4 163.3L171.6 163.7L172.8 164.1L174.0 164.5L175.2 164.9L176.5 165.3L177.7 165.7L178.9 166.1L180.1 166.5L181.3 166.8L182.5 167.2L183.7 167.6L184.9 168.0L186.1 168.3L187.3 168.7L188.5 169.1L189.8 169.5L191.0 169.8L192.2 170.2L193.4 170.6L194.6 170.9L195.8 171.3L197.0 171.7L198.2 172.0L199.4 172.4L200.6 172.8L201.8 173.1L203.0 173.5L204.3 173.8L205.5 174.2L206.7 174.5L207.9 174.9L209.1 175.3L210.3 175.6L211.5 176.0L212.7 176.3L213.9 176.7L215.1 177.0L216.3 177.4L217.6 177.7L218.8 178.1L220.0 178.5L221.2 178.8L222.4 179.2L223.6 179.5L224.8 179.9L226.0 180.2L227.2 180.6L228.4 180.9L229.6 181.3L230.9 181.6L232.1 182.0L233.3 182.4L234.5 182.7L235.7 183.1L236.9 183.4L238.1 183.8L239.3 184.2L240.5 184.5L241.7 184.9L242.9 185.2L244.2 185.6L245.4 186.0L246.6 186.3L247.8 186.7L249.0 187.1L250.2 187.4L251.4 187.8L252.6 188.2L253.8 188.5L255.0 188.9L256.2 189.3L257.5 189.7L258.7 190.0L259.9 190.4L261.1 190.8L262.3 191.2L263.5 191.6L264.7 192.0L265.9 192.3L267.1 192.7L268.3 193.1L269.5 193.5L270.8 193.9L272.0 194.3L273.2 194.7L274.4 195.1L275.6 195.5L276.8 195.9L278.0 196.3L279.2 196.7L280.4 197.2L281.6 197.6L282.8 198.0L284.1 198.4L285.3 198.8L286.5 199.3L287.7 199.7L288.9 200.1L290.1 200.6L291.3 201.0L292.5 201.4L293.7 201.9L294.9 202.3L296.1 202.8L297.4 203.2L298.6 203.7L299.8 204.2L301.0 204.6L302.2 205.1L303.4 205.6L304.6 206.0L305.8 206.5L307.0 207.0L308.2 207.5L309.4 208.0L310.7 208.4L311.9 208.9L313.1 209.4L314.3 209.9L315.5 210.5L316.7 211.0L317.9 211.5L319.1 212.0L320.3 212.5L321.5 213.0L322.7 213.6L324.0 214.1L325.2 214.6L326.4 215.2L327.6 215.7L328.8 216.3L330.0 216.8L331.2 217.4L332.4 218.0L333.6 218.5L334.8 219.1L336.0 219.7L337.2 220.3L338.5 220.9L339.7 221.5L340.9 222.1L342.1 222.7L343.3 223.3L344.5 223.9L345.7 224.5L346.9 225.1L348.1 225.8L349.3 226.4L350.5 227.1L351.8 227.7L353.0 228.4L354.2 229.0L355.4 229.7L356.6 230.3L357.8 231.0L359.0 231.7L360.2 232.4L361.4 233.1L362.6 233.8L363.8 234.5L365.1 235.2L366.3 235.9L367.5 236.6L368.7 237.4L369.9 238.1L371.1 238.8L372.3 239.6L373.5 240.3L374.7 241.1L375.9 241.9L377.1 242.6L378.4 243.4L379.6 244.2L380.8 245.0L382.0 245.8L383.2 246.6L384.4 247.4L385.6 248.2L386.8 249.0L388.0 249.9L389.2 250.7L390.4 251.6L391.7 252.4L392.9 253.3L394.1 254.1L395.3 255.0L396.5 255.9L397.7 256.8L398.9 257.7L400.1 258.6L401.3 259.5L402.5 260.4L403.7 261.3L405.0 262.3L406.2 263.2L407.4 264.2L408.6 265.1L409.8 266.1L411.0 267.1" stroke="#1a88ff" stroke-width="1.45"  clip-path="url(#c1)"/>
<text transform="translate(108.9 94.8) scale(0.92 1)" fill="#1a88ff" stroke="#1a88ff" stroke-width="0.1" font-size="9.6">Ar</text>
<text transform="translate(111.2 105.8) scale(0.92 1)" fill="#1a88ff" stroke="#1a88ff" stroke-width="0.1" font-size="9.6">Ar</text>
<text transform="translate(116.9 132.5) scale(0.92 1)" fill="#1a88ff" stroke="#1a88ff" stroke-width="0.1" font-size="9.6">Ar</text>
<text transform="translate(130.1 151.1) scale(0.92 1)" fill="#1a88ff" stroke="#1a88ff" stroke-width="0.1" font-size="9.6">Ar</text>
<text transform="translate(147.4 158.5) scale(0.92 1)" fill="#1a88ff" stroke="#1a88ff" stroke-width="0.1" font-size="9.6">Ar</text>
<text transform="translate(167.9 165.7) scale(0.92 1)" fill="#1a88ff" stroke="#1a88ff" stroke-width="0.1" font-size="9.6">Ar</text>
<text transform="translate(190.6 173.0) scale(0.92 1)" fill="#1a88ff" stroke="#1a88ff" stroke-width="0.1" font-size="9.6">Ar</text>
<text transform="translate(216.0 180.5) scale(0.92 1)" fill="#1a88ff" stroke="#1a88ff" stroke-width="0.1" font-size="9.6">Ar</text>
<text transform="translate(246.0 189.4) scale(0.92 1)" fill="#1a88ff" stroke="#1a88ff" stroke-width="0.1" font-size="9.6">Ar</text>
<text transform="translate(284.3 201.5) scale(0.92 1)" fill="#1a88ff" stroke="#1a88ff" stroke-width="0.1" font-size="9.6">Ar</text>
<text transform="translate(336.7 223.4) scale(0.92 1)" fill="#1a88ff" stroke="#1a88ff" stroke-width="0.1" font-size="9.6">Ar</text>
<text transform="translate(396.5 259.0) scale(0.92 1)" fill="#1a88ff" stroke="#1a88ff" stroke-width="0.1" font-size="9.6">Ar</text>
<path d="M104.6 48.0L104.6 49.2L104.7 50.5L104.8 51.7L104.8 52.9L104.9 54.2L105.0 55.4L105.0 56.6L105.1 57.9L105.2 59.1L105.3 60.3L105.4 61.6L105.4 62.0L105.5 62.8L105.6 64.0L105.7 65.3L105.8 66.5L105.9 67.7L106.0 68.9L106.1 70.2L106.3 71.4L106.4 72.6L106.5 73.9L106.7 75.1L106.8 76.3L107.0 77.5L107.1 78.8L107.3 80.0L107.5 81.2L107.6 82.4L107.8 83.7L108.0 84.9L108.0 85.0L108.2 86.1L108.4 87.3L108.6 88.5L108.8 89.8L109.0 91.0L109.2 92.2L109.4 93.4L109.7 94.6L109.9 95.8L110.2 97.1L110.4 98.3L110.7 99.5L111.0 100.7L111.3 101.9L111.5 103.1L111.8 104.3L112.0 105.0L112.1 105.5L112.4 106.7L112.7 107.9L113.1 109.0L113.4 110.2L113.8 111.4L114.1 112.6L114.5 113.8L114.9 115.0L115.2 116.1L115.6 117.3L116.0 118.5L116.4 119.7L116.8 120.8L117.3 122.0L117.7 123.1L118.0 124.0L118.1 124.3L118.6 125.5L119.0 126.6L119.5 127.7L120.0 128.9L120.5 130.0" stroke="#1a88ff" stroke-width="1.40"  clip-path="url(#c1)"/>
<path d="M104.3 48.0L104.4 49.2L104.5 50.5L104.6 51.7L104.6 52.9L104.7 54.1L104.8 55.4L104.9 56.6L105.0 57.8L105.1 59.0L105.2 60.3L105.3 61.5L105.3 62.0L105.4 62.7L105.4 63.9L105.5 65.2L105.6 66.4L105.7 67.6L105.8 68.9L105.9 70.1L106.0 71.3L106.1 72.5L106.1 73.8L106.2 75.0L106.3 76.2L106.4 77.4L106.5 78.7L106.6 79.9L106.7 81.1L106.8 82.3L106.9 83.6L107.0 84.8L107.1 86.0L107.2 87.2L107.3 88.5L107.5 89.7L107.5 90.0L107.6 90.9L107.7 92.1L107.9 93.4L108.0 94.6L108.1 95.8L108.3 97.0L108.4 98.2L108.6 99.5L108.8 100.7L108.9 101.9L109.1 103.1L109.3 104.4L109.4 105.6L109.6 106.8L109.8 108.0L110.0 109.2L110.2 110.4L110.4 111.6L110.6 112.9L110.8 114.1L111.0 115.0L111.0 115.3L111.3 116.5L111.5 117.7L111.7 118.9L112.0 120.1L112.2 121.3L112.5 122.5L112.8 123.7L113.1 124.9L113.4 126.1L113.7 127.3L114.0 128.5L114.3 129.7L114.7 130.9L115.0 132.1L115.4 133.2L115.8 134.4L116.0 135.0L116.2 135.5L116.7 136.6L117.2 137.7L117.8 138.8L118.4 139.9L119.0 141.0" stroke="#1a88ff" stroke-width="1.40"  clip-path="url(#c1)"/>
<path d="M104.0 50.0L104.1 51.2L104.2 52.4L104.4 53.6L104.5 54.8L104.6 56.1L104.7 57.3L104.8 58.5L104.9 59.7L105.0 60.9L105.1 62.0L105.1 62.1L105.2 63.3L105.3 64.5L105.4 65.7L105.4 67.0L105.5 68.2L105.6 69.4L105.7 70.6L105.7 71.8L105.8 73.0L105.9 74.2L105.9 75.5L106.0 76.7L106.0 77.9L106.1 79.1L106.2 80.3L106.2 81.5L106.3 82.8L106.4 84.0L106.4 85.2L106.5 86.4L106.5 87.6L106.6 88.8L106.7 90.0L106.8 91.3L106.8 92.5L106.9 93.7L107.0 94.9L107.0 95.0L107.1 96.1L107.2 97.3L107.2 98.5L107.3 99.7L107.4 101.0L107.5 102.2L107.6 103.4L107.7 104.6L107.8 105.8L107.9 107.0L108.0 108.2L108.1 109.5L108.2 110.7L108.3 111.9L108.4 113.1L108.5 114.3L108.6 115.5L108.7 116.7L108.8 117.9L108.9 119.1L109.0 120.4L109.1 121.6L109.3 122.8L109.4 124.0L109.5 125.0L109.5 125.2L109.7 126.4L109.8 127.6L109.9 128.8L110.1 130.0L110.2 131.2L110.4 132.5L110.5 133.7L110.7 134.9L110.8 136.1L111.0 137.3L111.2 138.5L111.4 139.7L111.6 140.9L111.8 142.1L112.0 143.3L112.2 144.5L112.5 145.7L112.7 146.9L113.0 148.0L113.0 148.0L113.3 149.2L113.7 150.3L114.1 151.5L114.5 152.6L115.0 153.8L115.5 154.9L116.0 156.0" stroke="#1a88ff" stroke-width="1.40"  clip-path="url(#c1)"/>
<path d="M105.0 50.0L105.1 51.3L105.2 52.5L105.4 53.8L105.5 55.0L105.6 56.3L105.8 57.5L105.9 58.8L106.1 60.0L106.2 61.3L106.3 62.0L106.4 62.5L106.5 63.8L106.7 65.0L106.9 66.2L107.0 67.5L107.2 68.7L107.4 70.0L107.6 71.2L107.8 72.5L108.0 73.7L108.2 75.0L108.4 76.2L108.6 77.4L108.8 78.7L109.0 79.9L109.0 80.0L109.2 81.2L109.4 82.4L109.6 83.6L109.8 84.9L110.1 86.1L110.3 87.4L110.5 88.6L110.8 89.8L111.0 91.1L111.3 92.3L111.5 93.5L111.7 94.8L112.0 96.0" stroke="#1a88ff" stroke-width="1.40"  clip-path="url(#c1)"/>
<path d="M105.3 52.0L105.5 53.3L105.6 54.6L105.8 55.8L106.0 57.1L106.1 58.4L106.3 59.7L106.5 61.0L106.7 62.2L106.9 63.5L107.0 64.0L107.1 64.8L107.3 66.1L107.6 67.3L107.8 68.6L108.0 69.9L108.2 71.1L108.5 72.4L108.7 73.7L109.0 74.9L109.2 76.2L109.5 77.5L109.7 78.7L110.0 80.0" stroke="#1a88ff" stroke-width="1.40"  clip-path="url(#c1)"/>
<path d="M104.7 70.0L104.7 71.2L104.7 72.4L104.8 73.7L104.8 74.9L104.8 76.1L104.8 77.3L104.8 78.6L104.9 79.8L104.9 81.0L104.9 82.2L104.9 83.5L105.0 84.7L105.0 85.9L105.0 87.1L105.0 88.4L105.1 89.6L105.1 90.8L105.1 92.0L105.2 93.3L105.2 94.5L105.2 95.7L105.3 96.9L105.3 98.2L105.3 99.4L105.4 100.6L105.4 101.8L105.4 103.0L105.5 104.3L105.5 105.5L105.6 106.7L105.6 107.9L105.6 109.2L105.7 110.4L105.7 111.6L105.8 112.8L105.8 114.1L105.8 115.3L105.9 116.5L105.9 117.7L106.0 118.9L106.0 120.0L106.0 120.2L106.0 121.4L106.1 122.6L106.1 123.8L106.2 125.1L106.2 126.3L106.3 127.5L106.3 128.7L106.4 130.0L106.4 131.2L106.5 132.4L106.5 133.6L106.6 134.9L106.6 136.1L106.7 137.3L106.8 138.5L106.8 139.7L106.9 141.0L106.9 142.2L107.0 143.4L107.1 144.6L107.1 145.9L107.2 147.1L107.3 148.3L107.3 149.5L107.4 150.7L107.5 152.0L107.6 153.2L107.6 154.4L107.7 155.6L107.8 156.9L107.9 158.1L108.0 159.3L108.0 160.0L108.0 160.5L108.1 161.7L108.2 163.0L108.3 164.2L108.4 165.4L108.5 166.6L108.7 167.8L108.8 169.0L108.9 170.3L109.0 171.5L109.2 172.7L109.3 173.9L109.4 175.1L109.6 176.3L109.7 177.6L109.9 178.8L110.0 180.0" stroke="#0b8381" stroke-width="1.40"  clip-path="url(#c1)"/>
<path d="M104.5 70.0L104.5 71.2L104.5 72.4L104.5 73.6L104.5 74.9L104.6 76.1L104.6 77.3L104.6 78.5L104.6 79.7L104.6 80.9L104.6 82.2L104.6 83.4L104.6 84.6L104.7 85.8L104.7 87.0L104.7 88.2L104.7 89.5L104.7 90.7L104.8 91.9L104.8 93.1L104.8 94.3L104.8 95.5L104.8 96.7L104.8 98.0L104.9 99.2L104.9 100.4L104.9 101.6L104.9 102.8L105.0 104.0L105.0 105.3L105.0 106.5L105.0 107.7L105.1 108.9L105.1 110.1L105.1 111.3L105.1 112.5L105.1 113.8L105.2 115.0L105.2 116.2L105.2 117.4L105.2 118.6L105.3 119.8L105.3 121.1L105.3 122.3L105.4 123.5L105.4 124.7L105.4 125.9L105.4 127.1L105.5 128.3L105.5 129.6L105.5 130.0L105.5 130.8L105.5 132.0L105.6 133.2L105.6 134.4L105.6 135.6L105.7 136.9L105.7 138.1L105.7 139.3L105.8 140.5L105.8 141.7L105.8 142.9L105.9 144.1L105.9 145.4L105.9 146.6L106.0 147.8L106.0 149.0L106.1 150.2L106.1 151.4L106.1 152.7L106.2 153.9L106.2 155.1L106.3 156.3L106.3 157.5L106.3 158.7L106.4 159.9L106.4 161.2L106.5 162.4L106.5 163.6L106.6 164.8L106.6 166.0L106.7 167.2L106.7 168.4L106.8 169.7L106.8 170.9L106.9 172.1L106.9 173.3L107.0 174.5L107.0 175.0L107.0 175.7L107.1 176.9L107.1 178.2L107.2 179.4L107.3 180.6L107.3 181.8L107.4 183.0L107.5 184.2L107.5 185.4L107.6 186.7L107.7 187.9L107.8 189.1L107.8 190.3L107.9 191.5L108.0 192.7L108.1 193.9L108.2 195.1L108.2 196.4L108.3 197.6L108.4 198.8L108.5 200.0" stroke="#0b8381" stroke-width="1.40"  clip-path="url(#c1)"/>
<path d="M104.4 80.0L104.4 81.2L104.4 82.4L104.4 83.6L104.4 84.8L104.4 86.0L104.4 87.3L104.4 88.5L104.4 89.7L104.4 90.9L104.4 92.1L104.4 93.3L104.5 94.5L104.5 95.7L104.5 96.9L104.5 98.1L104.5 99.4L104.5 100.6L104.5 101.8L104.5 103.0L104.5 104.2L104.5 105.4L104.5 106.6L104.5 107.8L104.6 109.0L104.6 110.2L104.6 111.5L104.6 112.7L104.6 113.9L104.6 115.1L104.6 116.3L104.6 117.5L104.6 118.7L104.7 119.9L104.7 121.1L104.7 122.3L104.7 123.6L104.7 124.8L104.7 126.0L104.7 127.2L104.7 128.4L104.8 129.6L104.8 130.8L104.8 132.0L104.8 133.2L104.8 134.4L104.8 135.7L104.8 136.9L104.9 138.1L104.9 139.3L104.9 140.5L104.9 141.7L104.9 142.9L104.9 144.1L104.9 145.3L105.0 146.5L105.0 147.8L105.0 149.0L105.0 150.0L105.0 150.2L105.0 151.4L105.0 152.6L105.0 153.8L105.1 155.0L105.1 156.2L105.1 157.4L105.1 158.6L105.1 159.9L105.2 161.1L105.2 162.3L105.2 163.5L105.2 164.7L105.2 165.9L105.3 167.1L105.3 168.3L105.3 169.5L105.3 170.7L105.4 171.9L105.4 173.2L105.4 174.4L105.4 175.6L105.5 176.8L105.5 178.0L105.5 179.2L105.5 180.4L105.6 181.6L105.6 182.8L105.6 184.0L105.6 185.3L105.7 186.5L105.7 187.7L105.7 188.9L105.8 190.1L105.8 191.3L105.8 192.5L105.8 193.7L105.9 194.9L105.9 196.1L105.9 197.4L106.0 198.6L106.0 199.8L106.0 200.0L106.0 201.0L106.1 202.2L106.1 203.4L106.1 204.6L106.2 205.8L106.2 207.0L106.2 208.2L106.3 209.4L106.3 210.7L106.3 211.9L106.4 213.1L106.4 214.3L106.5 215.5L106.5 216.7L106.6 217.9L106.6 219.1L106.6 220.3L106.7 221.5L106.7 222.7L106.8 224.0L106.8 225.2L106.9 226.4L106.9 227.6L107.0 228.8L107.0 230.0" stroke="#0b8381" stroke-width="1.40"  clip-path="url(#c1)"/>
<text transform="translate(101.7 203.0) scale(0.92 1)" fill="#1a88ff" stroke="#1a88ff" stroke-width="0.25" font-size="9.6">Si</text>
<text transform="translate(101.6 120.9) scale(0.92 1)" fill="#1a88ff" stroke="#1a88ff" stroke-width="0.25" font-size="9.6">Ar</text>
<text transform="translate(101.8 168.9) scale(0.92 1)" fill="#1a88ff" stroke="#1a88ff" stroke-width="0.25" font-size="9.6">Ar</text>
<text transform="translate(103.2 118.9) scale(0.92 1)" fill="#1a88ff" stroke="#1a88ff" stroke-width="0.25" font-size="9.6">S</text>
<text transform="translate(102.5 186.4) scale(0.92 1)" fill="#1a88ff" stroke="#1a88ff" stroke-width="0.25" font-size="9.6">Si</text>
<text transform="translate(102.9 185.4) scale(0.92 1)" fill="#1a88ff" stroke="#1a88ff" stroke-width="0.25" font-size="9.6">Si</text>
<text transform="translate(102.4 159.2) scale(0.92 1)" fill="#1a88ff" stroke="#1a88ff" stroke-width="0.25" font-size="9.6">Ar</text>
<text transform="translate(101.7 152.3) scale(0.92 1)" fill="#1a88ff" stroke="#1a88ff" stroke-width="0.25" font-size="9.6">Si</text>
<text transform="translate(104.5 57.2) scale(0.92 1)" fill="#1a88ff" stroke="#1a88ff" stroke-width="0.25" font-size="9.6">Ar</text>
<text transform="translate(104.8 68.2) scale(0.92 1)" fill="#1a88ff" stroke="#1a88ff" stroke-width="0.25" font-size="9.6">S</text>
<text transform="translate(104.9 67.6) scale(0.92 1)" fill="#1a88ff" stroke="#1a88ff" stroke-width="0.25" font-size="9.6">Ar</text>
<text transform="translate(104.2 70.2) scale(0.92 1)" fill="#1a88ff" stroke="#1a88ff" stroke-width="0.25" font-size="9.6">S</text>
<text transform="translate(105.2 55.7) scale(0.92 1)" fill="#1a88ff" stroke="#1a88ff" stroke-width="0.25" font-size="9.6">Ar</text>
<text transform="translate(107.5 75.7) scale(0.92 1)" fill="#1a88ff" stroke="#1a88ff" stroke-width="0.25" font-size="9.6">S</text>
<text transform="translate(109.2 130.3) scale(0.92 1)" fill="#1a88ff" stroke="#1a88ff" stroke-width="0.25" font-size="9.6">Si</text>
<text transform="translate(106.0 102.5) scale(0.92 1)" fill="#1a88ff" stroke="#1a88ff" stroke-width="0.25" font-size="9.6">S</text>
<text transform="translate(107.2 89.6) scale(0.92 1)" fill="#1a88ff" stroke="#1a88ff" stroke-width="0.25" font-size="9.6">S</text>
<text transform="translate(108.2 92.6) scale(0.92 1)" fill="#1a88ff" stroke="#1a88ff" stroke-width="0.25" font-size="9.6">Ar</text>
<text transform="translate(111.3 180.1) scale(0.92 1)" fill="#1a88ff" stroke="#1a88ff" stroke-width="0.25" font-size="9.6">Ar</text>
<text transform="translate(108.4 110.7) scale(0.92 1)" fill="#1a88ff" stroke="#1a88ff" stroke-width="0.25" font-size="9.6">Si</text>
<text transform="translate(110.6 146.0) scale(0.92 1)" fill="#1a88ff" stroke="#1a88ff" stroke-width="0.25" font-size="9.6">Si</text>
<text transform="translate(110.7 174.4) scale(0.92 1)" fill="#1a88ff" stroke="#1a88ff" stroke-width="0.25" font-size="9.6">Si</text>
<text transform="translate(110.4 179.0) scale(0.92 1)" fill="#1a88ff" stroke="#1a88ff" stroke-width="0.25" font-size="9.6">Ar</text>
<text transform="translate(109.9 130.2) scale(0.92 1)" fill="#1a88ff" stroke="#1a88ff" stroke-width="0.25" font-size="9.6">Si</text>
<text transform="translate(111.4 154.9) scale(0.92 1)" fill="#1a88ff" stroke="#1a88ff" stroke-width="0.25" font-size="9.6">Si</text>
<text transform="translate(109.6 167.6) scale(0.92 1)" fill="#1a88ff" stroke="#1a88ff" stroke-width="0.25" font-size="9.6">S</text>
<text transform="translate(106.7 104.8) scale(0.92 1)" fill="#1a88ff" stroke="#1a88ff" stroke-width="0.25" font-size="9.6">S</text>
<text transform="translate(108.3 117.1) scale(0.92 1)" fill="#1a88ff" stroke="#1a88ff" stroke-width="0.25" font-size="9.6">S</text>
<text transform="translate(108.8 109.4) scale(0.92 1)" fill="#1a88ff" stroke="#1a88ff" stroke-width="0.25" font-size="9.6">Ar</text>
<text transform="translate(107.3 125.2) scale(0.92 1)" fill="#1a88ff" stroke="#1a88ff" stroke-width="0.25" font-size="9.6">Ar</text>
<text transform="translate(107.9 105.1) scale(0.92 1)" fill="#1a88ff" stroke="#1a88ff" stroke-width="0.25" font-size="9.6">Si</text>
<text transform="translate(110.3 154.6) scale(0.92 1)" fill="#1a88ff" stroke="#1a88ff" stroke-width="0.25" font-size="9.6">Ar</text>
<text transform="translate(109.9 147.8) scale(0.92 1)" fill="#1a88ff" stroke="#1a88ff" stroke-width="0.25" font-size="9.6">S</text>
<text transform="translate(106.6 88.7) scale(0.92 1)" fill="#1a88ff" stroke="#1a88ff" stroke-width="0.25" font-size="9.6">Ar</text>
<text transform="translate(109.7 161.6) scale(0.92 1)" fill="#1a88ff" stroke="#1a88ff" stroke-width="0.25" font-size="9.6">Si</text>
<text transform="translate(112.0 164.8) scale(0.92 1)" fill="#1a88ff" stroke="#1a88ff" stroke-width="0.25" font-size="9.6">Si</text>
<text transform="translate(109.0 124.5) scale(0.92 1)" fill="#1a88ff" stroke="#1a88ff" stroke-width="0.25" font-size="9.6">Si</text>
<text transform="translate(109.3 146.7) scale(0.92 1)" fill="#1a88ff" stroke="#1a88ff" stroke-width="0.25" font-size="9.6">Ar</text>
<text transform="translate(109.0 151.8) scale(0.92 1)" fill="#1a88ff" stroke="#1a88ff" stroke-width="0.25" font-size="9.6">Si</text>
<text transform="translate(117.0 103.1) scale(0.92 1)" fill="#1a88ff" stroke="#1a88ff" stroke-width="0.1" font-size="9.6">Ar</text>
<text transform="translate(119.0 124.1) scale(0.92 1)" fill="#1a88ff" stroke="#1a88ff" stroke-width="0.1" font-size="9.6">Ar</text>
<text transform="translate(114.0 109.1) scale(0.92 1)" fill="#1a88ff" stroke="#1a88ff" stroke-width="0.1" font-size="9.6">Ar</text>
<path d="M103.2 285.0L103.2 283.8L103.2 282.6L103.2 281.4L103.2 280.2L103.2 279.0L103.2 277.8L103.2 276.6L103.2 275.4L103.2 274.1L103.2 272.9L103.2 271.7L103.2 270.5L103.2 269.3L103.2 268.1L103.2 266.9L103.2 265.7L103.2 264.5L103.2 263.3L103.2 262.1L103.2 260.9L103.2 259.7L103.2 258.5L103.2 257.3L103.2 256.1L103.2 254.8L103.2 253.6L103.2 252.4L103.2 251.2L103.2 250.0L103.2 248.8L103.2 247.6L103.2 246.4L103.2 245.2L103.2 244.0L103.2 242.8L103.2 241.6L103.2 240.4L103.2 239.2L103.2 238.0L103.2 236.8L103.2 235.5L103.2 234.3L103.2 233.1L103.2 231.9L103.1 230.7L103.1 229.5L103.1 228.3L103.1 227.1L103.1 225.9L103.1 224.7L103.1 223.5L103.1 222.3L103.1 221.1L103.1 219.9L103.1 218.7L103.1 217.5L103.1 216.2L103.1 215.0L103.1 213.8L103.1 212.6L103.1 211.4L103.1 210.2L103.1 209.0L103.1 207.8L103.1 206.6L103.1 205.4L103.1 204.2L103.1 203.0L103.1 201.8L103.1 200.6L103.1 199.4L103.1 198.2L103.1 196.9L103.1 195.7L103.1 194.5L103.1 193.3L103.1 192.1L103.1 190.9L103.1 189.7L103.1 188.5L103.0 187.3L103.0 186.1L103.0 184.9L103.0 183.7L103.0 182.5L103.0 181.3L103.0 180.1L103.0 178.9L103.0 177.6L103.0 176.4L103.0 175.2L103.0 174.0L103.0 172.8L103.0 171.6L103.0 170.4L103.0 170.0L103.0 169.2L103.0 168.0L103.0 166.8L103.0 165.6L103.0 164.4L103.0 163.2L103.0 162.0L103.0 160.8L102.9 159.6L102.9 158.4L102.9 157.1L102.9 155.9L102.9 154.7L102.9 153.5L102.9 152.3L102.9 151.1L102.9 149.9L102.9 148.7L102.8 147.5L102.8 146.3L102.8 145.1L102.8 143.9L102.8 142.7L102.8 141.5L102.8 140.3L102.8 139.1L102.8 137.8L102.7 136.6L102.7 135.4L102.7 134.2L102.7 133.0L102.7 131.8L102.7 130.6L102.7 129.4L102.7 128.2L102.6 127.0L102.6 125.8L102.6 124.6L102.6 123.4L102.6 122.2L102.6 121.0L102.6 119.8L102.6 118.5L102.6 117.3L102.6 116.1L102.6 114.9L102.5 113.7L102.5 112.5L102.5 111.3L102.5 110.1L102.5 108.9L102.5 107.7L102.5 106.5L102.5 105.3L102.5 104.1L102.5 102.9L102.5 101.7L102.5 100.5L102.5 100.0L102.5 99.2L102.5 98.0L102.5 96.8L102.5 95.6L102.5 94.4L102.5 93.2L102.5 92.0L102.5 90.8L102.5 89.6L102.5 88.4L102.5 87.2L102.5 86.0L102.5 84.8L102.5 83.6L102.5 82.4L102.5 81.1L102.5 79.9L102.5 78.7L102.5 77.5L102.5 76.3L102.5 75.1L102.5 73.9L102.5 72.7L102.5 71.5L102.6 70.3L102.6 69.1L102.6 67.9L102.6 66.7L102.6 65.5L102.6 64.3L102.6 63.1L102.6 61.9L102.6 60.6L102.6 60.0L102.6 59.4L102.6 58.2L102.7 57.0L102.7 55.8L102.8 54.6L102.8 53.4L102.9 52.2L103.0 51.0L103.2 49.8L103.3 48.6L103.4 47.4L103.6 46.2L103.6 46.0L103.8 44.9L104.1 43.4L104.6 42.3L105.0 42.0L105.3 42.0L106.5 42.5L106.5 42.5L107.7 42.9L108.9 43.2L110.1 43.5L111.3 43.8L112.5 44.1L113.8 44.4L115.0 44.7L116.2 45.1L117.4 45.4L118.6 45.7L119.8 46.0L121.0 46.4L122.2 46.7L123.4 47.0L124.6 47.3L125.8 47.7L127.0 48.0L128.2 48.3L129.5 48.7L130.7 49.0L131.9 49.3L133.1 49.7L134.3 50.0L135.5 50.4L136.7 50.7L137.9 51.0L139.1 51.4L140.3 51.7L141.5 52.1L142.8 52.4L144.0 52.8L145.2 53.1L146.4 53.5L147.6 53.8L148.8 54.2L150.0 54.6L151.2 54.9L152.4 55.3L153.6 55.6L154.8 56.0L156.0 56.4L157.2 56.7L158.5 57.1L159.7 57.5L160.9 57.8L162.1 58.2L163.3 58.6L164.5 59.0L165.7 59.3L166.9 59.7L168.1 60.1L169.3 60.5L170.5 60.9L171.8 61.2L173.0 61.6L174.2 62.0L175.4 62.4L176.6 62.8L177.8 63.2L179.0 63.6L180.2 64.0L181.4 64.4L182.6 64.8L183.8 65.2L185.0 65.6L186.2 66.0L187.5 66.4L188.7 66.8L189.9 67.2L191.1 67.6L192.3 68.0L193.5 68.4L194.7 68.8L195.9 69.2L197.1 69.6L198.3 70.0L199.5 70.4L200.8 70.9L202.0 71.3L203.2 71.7L204.4 72.1L205.6 72.5L206.8 73.0L208.0 73.4L209.2 73.8L210.4 74.3L211.6 74.7L212.8 75.1L214.0 75.6L215.2 76.0L216.5 76.4L217.7 76.9L218.9 77.3L220.1 77.7L221.3 78.2L222.5 78.6L223.7 79.1L224.9 79.5L226.1 80.0L227.3 80.4L228.5 80.8L229.8 81.3L231.0 81.7L232.2 82.2L233.4 82.6L234.6 83.1L235.8 83.6L237.0 84.0L238.2 84.5L239.4 84.9L240.6 85.4L241.8 85.8L243.0 86.3L244.2 86.7L245.5 87.2L246.7 87.7L247.9 88.1L249.1 88.6L250.3 89.0L251.5 89.5L252.7 89.9L253.9 90.4L255.1 90.9L256.3 91.3L257.5 91.8L258.8 92.2L260.0 92.7L261.2 93.2L262.4 93.6L263.6 94.1L264.8 94.5L266.0 95.0L267.2 95.5L268.4 95.9L269.6 96.4L270.8 96.8L272.0 97.3L273.2 97.8L274.5 98.2L275.7 98.7L276.9 99.1L278.1 99.6L279.3 100.0L280.5 100.5L281.7 100.9L282.9 101.4L284.1 101.9L285.3 102.3L286.5 102.8L287.8 103.2L289.0 103.7L290.2 104.1L291.4 104.5L292.6 105.0L293.8 105.4L295.0 105.9L296.2 106.3L297.4 106.8L298.6 107.2L299.8 107.6L301.0 108.1L302.2 108.5L303.5 109.0L304.7 109.4L305.9 109.8L307.1 110.2L308.3 110.7L309.5 111.1L310.7 111.5L311.9 112.0L313.1 112.4L314.3 112.8L315.5 113.2L316.8 113.6L318.0 114.1L319.2 114.5L320.4 114.9L321.6 115.3L322.8 115.7L324.0 116.1L325.2 116.5L326.4 116.9L327.6 117.3L328.8 117.7L330.0 118.1L331.2 118.5L332.5 118.9L333.7 119.3L334.9 119.7L336.1 120.0L337.3 120.4L338.5 120.8L339.7 121.2L340.9 121.6L342.1 121.9L343.3 122.3L344.5 122.7L345.8 123.0L347.0 123.4L348.2 123.7L349.4 124.1L350.6 124.4L351.8 124.8L353.0 125.1L354.2 125.5L355.4 125.8L356.6 126.2L357.8 126.5L359.0 126.8L360.2 127.2L361.5 127.5L362.7 127.8L363.9 128.1L365.1 128.4L366.3 128.7L367.5 129.1L368.7 129.4L369.9 129.7L371.1 130.0L372.3 130.3L373.5 130.5L374.8 130.8L376.0 131.1L377.2 131.4L378.4 131.7L379.6 131.9L380.8 132.2L382.0 132.5L383.2 132.7L384.4 133.0L385.6 133.3L386.8 133.5L388.0 133.7L389.2 134.0L390.5 134.2L391.7 134.5L392.9 134.7L394.1 134.9L395.3 135.1L396.5 135.3L397.7 135.6L398.9 135.8L400.1 136.0L401.3 136.2L402.5 136.4L403.8 136.5L405.0 136.7L406.2 136.9L407.4 137.1L408.6 137.3L409.8 137.4L411.0 137.6" stroke="#808000" stroke-width="1.55"  clip-path="url(#c1)"/>
<text transform="translate(108.9 46.0) scale(0.92 1)" fill="#808000" stroke="#808000" stroke-width="0.1" font-size="8.8">Ca</text>
<text transform="translate(111.2 46.7) scale(0.92 1)" fill="#808000" stroke="#808000" stroke-width="0.1" font-size="8.8">Ca</text>
<text transform="translate(116.9 48.2) scale(0.92 1)" fill="#808000" stroke="#808000" stroke-width="0.1" font-size="8.8">Ca</text>
<text transform="translate(130.1 51.9) scale(0.92 1)" fill="#808000" stroke="#808000" stroke-width="0.1" font-size="8.8">Ca</text>
<text transform="translate(147.4 56.7) scale(0.92 1)" fill="#808000" stroke="#808000" stroke-width="0.1" font-size="8.8">Ca</text>
<text transform="translate(167.9 63.0) scale(0.92 1)" fill="#808000" stroke="#808000" stroke-width="0.1" font-size="8.8">Ca</text>
<text transform="translate(190.6 70.4) scale(0.92 1)" fill="#808000" stroke="#808000" stroke-width="0.1" font-size="8.8">Ca</text>
<text transform="translate(216.0 79.3) scale(0.92 1)" fill="#808000" stroke="#808000" stroke-width="0.1" font-size="8.8">Ca</text>
<text transform="translate(246.0 90.1) scale(0.92 1)" fill="#808000" stroke="#808000" stroke-width="0.1" font-size="8.8">Ca</text>
<text transform="translate(284.3 104.7) scale(0.92 1)" fill="#808000" stroke="#808000" stroke-width="0.1" font-size="8.8">Ca</text>
<text transform="translate(336.7 123.3) scale(0.92 1)" fill="#808000" stroke="#808000" stroke-width="0.1" font-size="8.8">Ca</text>
<text transform="translate(396.5 138.2) scale(0.92 1)" fill="#808000" stroke="#808000" stroke-width="0.1" font-size="8.8">Ca</text>
<path d="M103.8 285.0L103.8 283.8L103.8 282.6L103.8 281.4L103.8 280.2L103.8 278.9L103.8 277.7L103.8 276.5L103.8 275.3L103.8 274.1L103.8 272.9L103.8 271.7L103.8 270.5L103.8 269.3L103.8 268.0L103.8 266.8L103.8 265.6L103.8 264.4L103.8 263.2L103.8 262.0L103.8 260.8L103.8 259.6L103.8 258.4L103.8 257.1L103.8 255.9L103.8 254.7L103.8 253.5L103.8 252.3L103.8 251.1L103.8 249.9L103.8 248.7L103.8 247.5L103.8 246.2L103.8 245.0L103.8 243.8L103.8 242.6L103.8 241.4L103.8 240.2L103.8 239.0L103.8 237.8L103.8 236.6L103.8 235.3L103.8 234.1L103.8 232.9L103.8 231.7L103.8 230.5L103.8 229.3L103.8 228.1L103.8 226.9L103.8 225.6L103.8 224.4L103.8 223.2L103.8 222.0L103.8 220.8L103.8 219.6L103.8 218.4L103.8 217.2L103.8 216.0L103.8 214.7L103.8 213.5L103.8 212.3L103.8 211.1L103.8 209.9L103.8 208.7L103.8 207.5L103.8 206.3L103.8 205.1L103.9 203.8L103.9 202.6L103.9 201.4L103.9 200.2L103.9 199.0L103.9 197.8L103.9 196.6L103.9 195.4L103.9 194.2L103.9 192.9L103.9 191.7L103.9 190.5L103.9 189.3L103.9 188.1L103.9 186.9L103.9 185.7L103.9 184.5L103.9 183.3L103.9 182.0L103.9 180.8L103.9 179.6L103.9 178.4L103.9 177.2L103.9 176.0L103.9 174.8L103.9 173.6L103.9 172.4L103.9 171.1L103.9 170.0L103.9 169.9L103.9 168.7L103.9 167.5L103.9 166.3L103.9 165.1L103.9 163.9L103.9 162.7L103.9 161.5L103.9 160.2L103.9 159.0L103.9 157.8L103.9 156.6L103.9 155.4L104.0 154.2L104.0 153.0L104.0 151.8L104.0 150.6L104.0 149.3L104.0 148.1L104.0 146.9L104.0 145.7L104.0 144.5L104.0 143.3L104.0 142.1L104.0 140.9L104.0 139.7L104.0 138.4L104.1 137.2L104.1 136.0L104.1 134.8L104.1 133.6L104.1 132.4L104.1 131.2L104.1 130.0L104.1 128.8L104.1 127.5L104.1 126.3L104.2 125.1L104.2 123.9L104.2 122.7L104.2 121.5L104.2 120.3L104.2 120.0L104.2 119.1L104.2 117.9L104.2 116.6L104.2 115.4L104.3 114.2L104.3 113.0L104.3 111.8L104.3 110.6L104.3 109.4L104.3 108.2L104.4 106.9L104.4 105.7L104.4 104.5L104.4 103.3L104.5 102.1L104.5 100.9L104.5 99.7L104.5 98.5L104.6 97.3L104.6 96.0L104.6 94.8L104.7 93.6L104.7 92.4L104.7 92.0L104.7 91.2L104.8 90.0L104.8 88.8L104.9 87.6L104.9 86.4L105.0 85.1L105.1 83.9L105.1 82.7L105.2 81.5L105.3 80.3L105.4 79.1L105.5 77.9L105.6 77.0L105.6 76.7L105.8 75.5L106.0 74.3L106.2 73.1L106.5 71.9L106.8 70.7L107.1 69.6L107.2 69.3L107.5 68.5L108.2 67.5L108.9 66.5L109.7 65.5L109.7 65.5L110.9 62.9L112.1 60.8L113.3 59.0L114.5 57.4L115.7 56.1L116.9 54.9L118.1 54.0L119.3 53.1L120.5 52.4L121.8 51.8L123.0 51.2L124.2 50.7L125.4 50.2L126.6 49.7L127.8 49.3L129.0 48.8L130.2 48.4L131.4 48.0L132.6 47.7L133.8 47.3L135.0 47.0L136.2 46.7L137.4 46.4L138.6 46.1L139.8 45.8L141.0 45.5L142.2 45.3L143.4 45.1L144.7 44.9L145.9 44.7L147.1 44.5L148.3 44.3L149.5 44.1L150.7 44.0L151.9 43.8L153.1 43.7L154.3 43.6L155.5 43.4L156.7 43.3L157.9 43.2L159.1 43.1L160.3 43.0L161.5 42.9L162.7 42.9L163.9 42.8L165.1 42.7L166.3 42.6L167.5 42.6L168.8 42.5L170.0 42.4L171.2 42.4L172.4 42.3L173.6 42.2L174.8 42.2L176.0 42.1L177.2 42.1L178.4 42.0L179.6 42.0L180.8 41.9L182.0 41.9L183.2 41.8L184.4 41.8L185.6 41.7L186.8 41.7L188.0 41.7L189.2 41.6L190.4 41.6L191.7 41.6L192.9 41.5L194.1 41.5L195.3 41.5L196.5 41.5L197.7 41.4L198.9 41.4L200.1 41.4L201.3 41.4L202.5 41.4L203.7 41.3L204.9 41.3L206.1 41.3L207.3 41.3L208.5 41.3L209.7 41.3L210.9 41.3L212.1 41.3L213.3 41.3L214.6 41.3L215.8 41.3L217.0 41.3L218.2 41.3L219.4 41.3L220.6 41.3L221.8 41.3L223.0 41.3L224.2 41.3L225.4 41.3L226.6 41.3L227.8 41.3L229.0 41.3L230.2 41.4L231.4 41.4L232.6 41.4L233.8 41.4L235.0 41.4L236.2 41.4L237.5 41.5L238.7 41.5L239.9 41.5L241.1 41.5L242.3 41.6L243.5 41.6L244.7 41.6L245.9 41.6L247.1 41.7L248.3 41.7L249.5 41.7L250.7 41.8L251.9 41.8L253.1 41.8L254.3 41.9L255.5 41.9L256.7 41.9L257.9 42.0L259.1 42.0L260.4 42.0L261.6 42.1L262.8 42.1L264.0 42.2L265.2 42.2L266.4 42.2L267.6 42.3L268.8 42.3L270.0 42.4L271.2 42.4L272.4 42.4L273.6 42.5L274.8 42.5L276.0 42.6L277.2 42.6L278.4 42.7L279.6 42.7L280.8 42.8L282.0 42.8L283.2 42.9L284.5 42.9L285.7 42.9L286.9 43.0L288.1 43.0L289.3 43.1L290.5 43.1L291.7 43.2L292.9 43.2L294.1 43.3L295.3 43.3L296.5 43.4L297.7 43.4L298.9 43.5L300.1 43.5L301.3 43.6L302.5 43.6L303.7 43.7L304.9 43.7L306.1 43.8L307.4 43.8L308.6 43.9L309.8 43.9L311.0 44.0L312.2 44.0L313.4 44.1L314.6 44.1L315.8 44.2L317.0 44.2L318.2 44.3L319.4 44.3L320.6 44.4L321.8 44.4L323.0 44.5L324.2 44.5L325.4 44.6L326.6 44.6L327.8 44.7L329.0 44.7L330.3 44.7L331.5 44.8L332.7 44.8L333.9 44.9L335.1 44.9L336.3 45.0L337.5 45.0L338.7 45.1L339.9 45.1L341.1 45.1L342.3 45.2L343.5 45.2L344.7 45.3L345.9 45.3L347.1 45.3L348.3 45.4L349.5 45.4L350.7 45.4L351.9 45.5L353.2 45.5L354.4 45.6L355.6 45.6L356.8 45.6L358.0 45.6L359.2 45.7L360.4 45.7L361.6 45.7L362.8 45.8L364.0 45.8L365.2 45.8L366.4 45.8L367.6 45.9L368.8 45.9L370.0 45.9L371.2 45.9L372.4 46.0L373.6 46.0L374.8 46.0L376.0 46.0L377.3 46.0L378.5 46.0L379.7 46.1L380.9 46.1L382.1 46.1L383.3 46.1L384.5 46.1L385.7 46.1L386.9 46.1L388.1 46.1L389.3 46.1L390.5 46.1L391.7 46.1L392.9 46.1L394.1 46.1L395.3 46.1L396.5 46.1L397.7 46.1L398.9 46.1L400.2 46.1L401.4 46.1L402.6 46.1L403.8 46.1L405.0 46.0L406.2 46.0L407.4 46.0L408.6 46.0L409.8 46.0L411.0 46.0" stroke="#808000" stroke-width="1.55"  clip-path="url(#c1)"/>
<text transform="translate(108.9 69.3) scale(0.92 1)" fill="#808000" stroke="#808000" stroke-width="0.1" font-size="8.8">Ti</text>
<text transform="translate(111.2 65.8) scale(0.92 1)" fill="#808000" stroke="#808000" stroke-width="0.1" font-size="8.8">Ti</text>
<text transform="translate(116.9 57.8) scale(0.92 1)" fill="#808000" stroke="#808000" stroke-width="0.1" font-size="8.8">Ti</text>
<text transform="translate(130.1 51.3) scale(0.92 1)" fill="#808000" stroke="#808000" stroke-width="0.1" font-size="8.8">Ti</text>
<text transform="translate(147.4 47.3) scale(0.92 1)" fill="#808000" stroke="#808000" stroke-width="0.1" font-size="8.8">Ti</text>
<text transform="translate(167.9 45.4) scale(0.92 1)" fill="#808000" stroke="#808000" stroke-width="0.1" font-size="8.8">Ti</text>
<text transform="translate(190.6 44.5) scale(0.92 1)" fill="#808000" stroke="#808000" stroke-width="0.1" font-size="8.8">Ti</text>
<text transform="translate(216.0 44.1) scale(0.92 1)" fill="#808000" stroke="#808000" stroke-width="0.1" font-size="8.8">Ti</text>
<text transform="translate(246.0 44.5) scale(0.92 1)" fill="#808000" stroke="#808000" stroke-width="0.1" font-size="8.8">Ti</text>
<text transform="translate(284.3 45.8) scale(0.92 1)" fill="#808000" stroke="#808000" stroke-width="0.1" font-size="8.8">Ti</text>
<text transform="translate(336.7 47.8) scale(0.92 1)" fill="#808000" stroke="#808000" stroke-width="0.1" font-size="8.8">Ti</text>
<text transform="translate(396.5 49.0) scale(0.92 1)" fill="#808000" stroke="#808000" stroke-width="0.1" font-size="8.8">Ti</text>
<path d="M104.3 285.0L104.3 283.8L104.3 282.6L104.3 281.3L104.3 280.1L104.3 278.9L104.3 277.7L104.3 276.5L104.3 275.3L104.3 274.0L104.3 272.8L104.3 271.6L104.3 270.4L104.3 269.2L104.3 267.9L104.3 266.7L104.3 265.5L104.3 264.3L104.3 263.1L104.3 261.9L104.3 260.6L104.3 259.4L104.3 258.2L104.3 257.0L104.3 255.8L104.3 254.6L104.3 253.3L104.3 252.1L104.3 250.9L104.3 249.7L104.3 248.5L104.3 247.2L104.3 246.0L104.3 244.8L104.3 243.6L104.4 242.4L104.4 241.2L104.4 239.9L104.4 238.7L104.4 237.5L104.4 236.3L104.4 235.1L104.4 233.9L104.4 232.6L104.4 231.4L104.4 230.2L104.4 229.0L104.4 227.8L104.4 226.5L104.4 225.3L104.4 224.1L104.4 222.9L104.4 221.7L104.4 220.5L104.4 219.2L104.4 218.0L104.4 216.8L104.4 215.6L104.4 214.4L104.4 213.1L104.4 211.9L104.5 210.7L104.5 209.5L104.5 208.3L104.5 207.1L104.5 205.8L104.5 204.6L104.5 203.4L104.5 202.2L104.5 201.0L104.5 200.0L104.5 199.8L104.5 198.5L104.5 197.3L104.5 196.1L104.5 194.9L104.5 193.7L104.6 192.4L104.6 191.2L104.6 190.0L104.6 188.8L104.6 187.6L104.6 186.4L104.7 185.1L104.7 183.9L104.7 182.7L104.7 181.5L104.8 180.3L104.8 179.1L104.8 177.8L104.8 176.6L104.9 175.4L104.9 174.2L104.9 173.0L105.0 171.7L105.0 170.5L105.0 170.0L105.0 169.3L105.1 168.1L105.1 166.9L105.2 165.7L105.2 164.4L105.3 163.2L105.4 162.0L105.5 160.8L105.5 159.6L105.6 158.4L105.7 157.2L105.8 155.9L105.9 154.7L106.0 153.5L106.1 152.3L106.2 151.1L106.3 150.0L106.3 149.9L106.4 148.7L106.5 147.4L106.6 146.2L106.7 145.0L106.9 143.8L107.0 142.6L107.2 141.4L107.3 140.2L107.5 139.0L107.5 139.0L107.7 137.8L108.0 136.6L108.3 135.4L108.6 134.2L108.9 133.0L109.2 131.9L109.5 131.0L109.6 130.7L110.0 129.6L110.4 128.4L110.8 127.3L111.2 126.1L111.7 125.0L111.7 125.0L112.9 122.2L114.1 119.7L115.3 117.3L116.5 115.0L117.7 112.9L118.9 110.9L120.1 109.0L121.4 107.3L122.6 105.6L123.8 104.1L125.0 102.6L126.2 101.2L127.4 99.9L128.6 98.7L129.8 97.5L131.0 96.3L132.2 95.2L133.4 94.2L134.6 93.1L135.8 92.2L137.0 91.3L138.3 90.4L139.5 89.5L140.7 88.7L141.9 88.0L143.1 87.2L144.3 86.5L145.5 85.9L146.7 85.2L147.9 84.6L149.1 84.1L150.3 83.5L151.5 83.0L152.7 82.5L153.9 82.0L155.1 81.5L156.4 81.1L157.6 80.6L158.8 80.2L160.0 79.8L161.2 79.4L162.4 79.1L163.6 78.7L164.8 78.3L166.0 78.0L167.2 77.6L168.4 77.3L169.6 76.9L170.8 76.6L172.0 76.3L173.2 75.9L174.5 75.6L175.7 75.3L176.9 75.0L178.1 74.6L179.3 74.3L180.5 74.0L181.7 73.7L182.9 73.4L184.1 73.1L185.3 72.8L186.5 72.5L187.7 72.2L188.9 71.9L190.1 71.6L191.4 71.3L192.6 71.0L193.8 70.7L195.0 70.5L196.2 70.2L197.4 69.9L198.6 69.6L199.8 69.4L201.0 69.1L202.2 68.9L203.4 68.6L204.6 68.3L205.8 68.1L207.0 67.8L208.2 67.6L209.5 67.3L210.7 67.1L211.9 66.9L213.1 66.6L214.3 66.4L215.5 66.2L216.7 65.9L217.9 65.7L219.1 65.5L220.3 65.3L221.5 65.0L222.7 64.8L223.9 64.6L225.1 64.4L226.4 64.2L227.6 64.0L228.8 63.8L230.0 63.6L231.2 63.4L232.4 63.2L233.6 63.0L234.8 62.8L236.0 62.6L237.2 62.4L238.4 62.2L239.6 62.1L240.8 61.9L242.0 61.7L243.2 61.5L244.5 61.4L245.7 61.2L246.9 61.0L248.1 60.9L249.3 60.7L250.5 60.5L251.7 60.4L252.9 60.2L254.1 60.1L255.3 59.9L256.5 59.7L257.7 59.6L258.9 59.4L260.1 59.3L261.4 59.2L262.6 59.0L263.8 58.9L265.0 58.7L266.2 58.6L267.4 58.5L268.6 58.3L269.8 58.2L271.0 58.1L272.2 58.0L273.4 57.8L274.6 57.7L275.8 57.6L277.0 57.5L278.2 57.3L279.5 57.2L280.7 57.1L281.9 57.0L283.1 56.9L284.3 56.8L285.5 56.7L286.7 56.6L287.9 56.5L289.1 56.4L290.3 56.3L291.5 56.2L292.7 56.1L293.9 56.0L295.1 55.9L296.3 55.8L297.6 55.7L298.8 55.6L300.0 55.5L301.2 55.4L302.4 55.3L303.6 55.2L304.8 55.1L306.0 55.1L307.2 55.0L308.4 54.9L309.6 54.8L310.8 54.7L312.0 54.7L313.2 54.6L314.5 54.5L315.7 54.4L316.9 54.4L318.1 54.3L319.3 54.2L320.5 54.2L321.7 54.1L322.9 54.0L324.1 54.0L325.3 53.9L326.5 53.8L327.7 53.8L328.9 53.7L330.1 53.7L331.3 53.6L332.6 53.5L333.8 53.5L335.0 53.4L336.2 53.4L337.4 53.3L338.6 53.3L339.8 53.2L341.0 53.2L342.2 53.1L343.4 53.1L344.6 53.0L345.8 53.0L347.0 52.9L348.2 52.9L349.5 52.8L350.7 52.8L351.9 52.7L353.1 52.7L354.3 52.6L355.5 52.6L356.7 52.6L357.9 52.5L359.1 52.5L360.3 52.4L361.5 52.4L362.7 52.4L363.9 52.3L365.1 52.3L366.3 52.2L367.6 52.2L368.8 52.2L370.0 52.1L371.2 52.1L372.4 52.1L373.6 52.0L374.8 52.0L376.0 52.0L377.2 51.9L378.4 51.9L379.6 51.8L380.8 51.8L382.0 51.8L383.2 51.7L384.4 51.7L385.7 51.7L386.9 51.7L388.1 51.6L389.3 51.6L390.5 51.6L391.7 51.5L392.9 51.5L394.1 51.5L395.3 51.4L396.5 51.4L397.7 51.4L398.9 51.3L400.1 51.3L401.3 51.3L402.6 51.2L403.8 51.2L405.0 51.2L406.2 51.1L407.4 51.1L408.6 51.1L409.8 51.0L411.0 51.0" stroke="#808000" stroke-width="1.55"  clip-path="url(#c1)"/>
<text transform="translate(108.9 135.9) scale(0.92 1)" fill="#808000" stroke="#808000" stroke-width="0.1" font-size="8.8">Cr</text>
<text transform="translate(111.2 129.0) scale(0.92 1)" fill="#808000" stroke="#808000" stroke-width="0.1" font-size="8.8">Cr</text>
<text transform="translate(116.9 117.8) scale(0.92 1)" fill="#808000" stroke="#808000" stroke-width="0.1" font-size="8.8">Cr</text>
<text transform="translate(130.1 100.3) scale(0.92 1)" fill="#808000" stroke="#808000" stroke-width="0.1" font-size="8.8">Cr</text>
<text transform="translate(147.4 87.5) scale(0.92 1)" fill="#808000" stroke="#808000" stroke-width="0.1" font-size="8.8">Cr</text>
<text transform="translate(167.9 80.1) scale(0.92 1)" fill="#808000" stroke="#808000" stroke-width="0.1" font-size="8.8">Cr</text>
<text transform="translate(190.6 74.5) scale(0.92 1)" fill="#808000" stroke="#808000" stroke-width="0.1" font-size="8.8">Cr</text>
<text transform="translate(216.0 69.0) scale(0.92 1)" fill="#808000" stroke="#808000" stroke-width="0.1" font-size="8.8">Cr</text>
<text transform="translate(246.0 64.1) scale(0.92 1)" fill="#808000" stroke="#808000" stroke-width="0.1" font-size="8.8">Cr</text>
<text transform="translate(284.3 59.6) scale(0.92 1)" fill="#808000" stroke="#808000" stroke-width="0.1" font-size="8.8">Cr</text>
<text transform="translate(336.7 56.2) scale(0.92 1)" fill="#808000" stroke="#808000" stroke-width="0.1" font-size="8.8">Cr</text>
<text transform="translate(396.5 54.3) scale(0.92 1)" fill="#808000" stroke="#808000" stroke-width="0.1" font-size="8.8">Cr</text>
<path d="M103.4 130.0L103.4 128.8L103.4 127.5L103.4 126.2L103.4 125.0L103.4 123.8L103.4 122.5L103.4 121.2L103.4 120.0L103.4 118.8L103.4 117.5L103.4 116.2L103.4 115.0L103.4 113.8L103.4 112.5L103.4 111.2L103.4 110.0L103.4 108.8L103.4 107.5L103.4 106.2L103.5 105.0L103.5 103.8L103.5 102.5L103.5 101.2L103.5 100.0L103.5 98.8L103.5 97.5L103.5 96.2L103.5 95.0L103.5 93.8L103.5 92.5L103.5 91.2L103.5 90.0L103.5 88.8L103.5 87.5L103.5 86.2L103.5 85.0L103.5 83.8L103.5 82.5L103.5 81.2L103.5 80.0" stroke="#808000" stroke-width="1.50"  clip-path="url(#c1)"/>
<text transform="translate(104.4 119.7) scale(0.92 1)" fill="#808000" stroke="#808000" stroke-width="0.25" font-size="8.8">Ti</text>
<text transform="translate(102.9 181.6) scale(0.92 1)" fill="#808000" stroke="#808000" stroke-width="0.25" font-size="8.8">Ti</text>
<text transform="translate(103.6 123.3) scale(0.92 1)" fill="#808000" stroke="#808000" stroke-width="0.25" font-size="8.8">Ca</text>
<text transform="translate(103.9 273.1) scale(0.92 1)" fill="#808000" stroke="#808000" stroke-width="0.25" font-size="8.8">Cr</text>
<text transform="translate(104.5 150.2) scale(0.92 1)" fill="#808000" stroke="#808000" stroke-width="0.25" font-size="8.8">Ca</text>
<text transform="translate(104.9 82.2) scale(0.92 1)" fill="#808000" stroke="#808000" stroke-width="0.25" font-size="8.8">Ca</text>
<text transform="translate(103.8 149.0) scale(0.92 1)" fill="#808000" stroke="#808000" stroke-width="0.25" font-size="8.8">Cr</text>
<text transform="translate(104.8 201.7) scale(0.92 1)" fill="#808000" stroke="#808000" stroke-width="0.25" font-size="8.8">Ca</text>
<text transform="translate(104.2 185.0) scale(0.92 1)" fill="#808000" stroke="#808000" stroke-width="0.25" font-size="8.8">Ti</text>
<text transform="translate(104.9 239.7) scale(0.92 1)" fill="#808000" stroke="#808000" stroke-width="0.25" font-size="8.8">Cr</text>
<text transform="translate(105.0 135.3) scale(0.92 1)" fill="#808000" stroke="#808000" stroke-width="0.25" font-size="8.8">Ti</text>
<text transform="translate(104.6 223.1) scale(0.92 1)" fill="#808000" stroke="#808000" stroke-width="0.25" font-size="8.8">Ca</text>
<text transform="translate(103.1 268.0) scale(0.92 1)" fill="#808000" stroke="#808000" stroke-width="0.25" font-size="8.8">Cr</text>
<text transform="translate(105.0 262.7) scale(0.92 1)" fill="#808000" stroke="#808000" stroke-width="0.25" font-size="8.8">Ca</text>
<text transform="translate(103.0 233.9) scale(0.92 1)" fill="#808000" stroke="#808000" stroke-width="0.1" font-size="8.8">Ca</text>
<text transform="translate(103.0 263.9) scale(0.92 1)" fill="#808000" stroke="#808000" stroke-width="0.1" font-size="8.8">Cr</text>
<text transform="translate(101.0 274.9) scale(0.92 1)" fill="#808000" stroke="#808000" stroke-width="0.1" font-size="8.8">Ca</text>
<text transform="translate(109.0 46.9) scale(0.92 1)" fill="#808000" stroke="#808000" stroke-width="0.1" font-size="8.8">Ca</text>
<path d="M104.7 285.0L104.8 283.7L104.8 282.5L104.9 281.2L105.0 280.0L105.0 278.7L105.1 277.5L105.2 276.2L105.2 275.0L105.3 273.7L105.4 272.4L105.4 271.2L105.5 270.0L105.5 269.9L105.6 268.7L105.6 267.4L105.7 266.2L105.8 264.9L105.8 263.6L105.9 262.4L106.0 261.1L106.0 259.9L106.1 258.6L106.1 257.4L106.2 256.1L106.3 254.8L106.3 253.6L106.4 252.3L106.5 251.1L106.5 249.8L106.6 248.6L106.7 247.3L106.7 246.1L106.8 244.8L106.8 243.5L106.9 242.3L107.0 241.0L107.0 239.8L107.1 238.5L107.1 237.3L107.2 236.0L107.2 236.0L108.4 226.3L109.6 218.7L110.8 212.9L112.0 208.4L113.2 204.5L114.4 201.0L115.6 197.7L116.8 194.7L118.0 191.8L119.3 189.2L120.5 186.7L121.7 184.4L122.9 182.2L124.1 180.2L125.3 178.2L126.5 176.3L127.7 174.5L128.9 172.7L130.1 171.0L131.3 169.4L132.5 167.8L133.7 166.3L134.9 164.8L136.1 163.4L137.3 162.1L138.5 160.8L139.8 159.6L141.0 158.4L142.2 157.2L143.4 156.1L144.6 155.1L145.8 154.0L147.0 153.0L148.2 152.1L149.4 151.2L150.6 150.3L151.8 149.4L153.0 148.5L154.2 147.7L155.4 146.9L156.6 146.1L157.8 145.4L159.0 144.6L160.2 143.9L161.4 143.1L162.7 142.4L163.9 141.7L165.1 141.0L166.3 140.3L167.5 139.6L168.7 139.0L169.9 138.3L171.1 137.6L172.3 137.0L173.5 136.3L174.7 135.7L175.9 135.1L177.1 134.5L178.3 133.9L179.5 133.3L180.7 132.7L181.9 132.1L183.2 131.5L184.4 131.0L185.6 130.4L186.8 129.9L188.0 129.3L189.2 128.8L190.4 128.3L191.6 127.7L192.8 127.2L194.0 126.7L195.2 126.2L196.4 125.7L197.6 125.2L198.8 124.8L200.0 124.3L201.2 123.8L202.4 123.4L203.6 122.9L204.8 122.5L206.1 122.0L207.3 121.6L208.5 121.2L209.7 120.7L210.9 120.3L212.1 119.9L213.3 119.5L214.5 119.1L215.7 118.7L216.9 118.3L218.1 117.9L219.3 117.5L220.5 117.2L221.7 116.8L222.9 116.4L224.1 116.1L225.3 115.7L226.6 115.3L227.8 115.0L229.0 114.6L230.2 114.3L231.4 114.0L232.6 113.6L233.8 113.3L235.0 113.0L236.2 112.6L237.4 112.3L238.6 112.0L239.8 111.7L241.0 111.4L242.2 111.1L243.4 110.8L244.6 110.5L245.8 110.2L247.0 109.9L248.2 109.6L249.5 109.3L250.7 109.0L251.9 108.7L253.1 108.4L254.3 108.1L255.5 107.8L256.7 107.5L257.9 107.3L259.1 107.0L260.3 106.7L261.5 106.4L262.7 106.2L263.9 105.9L265.1 105.6L266.3 105.4L267.5 105.1L268.7 104.9L269.9 104.6L271.2 104.4L272.4 104.1L273.6 103.9L274.8 103.6L276.0 103.4L277.2 103.1L278.4 102.9L279.6 102.7L280.8 102.4L282.0 102.2L283.2 102.0L284.4 101.7L285.6 101.5L286.8 101.3L288.0 101.1L289.2 100.8L290.4 100.6L291.6 100.4L292.9 100.2L294.1 100.0L295.3 99.8L296.5 99.6L297.7 99.4L298.9 99.2L300.1 99.0L301.3 98.8L302.5 98.6L303.7 98.4L304.9 98.2L306.1 98.0L307.3 97.8L308.5 97.6L309.7 97.4L310.9 97.2L312.1 97.1L313.3 96.9L314.6 96.7L315.8 96.5L317.0 96.3L318.2 96.2L319.4 96.0L320.6 95.8L321.8 95.7L323.0 95.5L324.2 95.3L325.4 95.2L326.6 95.0L327.8 94.9L329.0 94.7L330.2 94.6L331.4 94.4L332.6 94.3L333.8 94.1L335.1 94.0L336.3 93.8L337.5 93.7L338.7 93.5L339.9 93.4L341.1 93.3L342.3 93.1L343.5 93.0L344.7 92.9L345.9 92.7L347.1 92.6L348.3 92.5L349.5 92.4L350.7 92.2L351.9 92.1L353.1 92.0L354.3 91.9L355.5 91.8L356.8 91.6L358.0 91.5L359.2 91.4L360.4 91.3L361.6 91.2L362.8 91.1L364.0 91.0L365.2 90.9L366.4 90.8L367.6 90.7L368.8 90.6L370.0 90.5L371.2 90.4L372.4 90.3L373.6 90.2L374.8 90.1L376.0 90.0L377.2 89.9L378.4 89.8L379.7 89.7L380.9 89.7L382.1 89.6L383.3 89.5L384.5 89.4L385.7 89.3L386.9 89.3L388.1 89.2L389.3 89.1L390.5 89.0L391.7 89.0L392.9 88.9L394.1 88.8L395.3 88.8L396.5 88.7L397.7 88.6L398.9 88.6L400.1 88.5L401.4 88.4L402.6 88.4L403.8 88.3L405.0 88.3L406.2 88.2L407.4 88.2L408.6 88.1L409.8 88.0L411.0 88.0" stroke="#7a00ff" stroke-width="1.45"  clip-path="url(#c1)"/>
<path d="M121.0 292.0L122.2 290.1L123.4 287.7L124.6 284.8L125.8 281.8L127.0 278.7L128.2 275.7L129.5 272.9L130.7 270.4L131.9 268.1L133.1 266.0L134.3 264.0L135.5 262.1L136.7 260.2L137.9 258.4L139.1 256.6L140.3 254.9L141.5 253.3L142.8 251.7L144.0 250.2L145.2 248.7L146.4 247.2L147.6 245.8L148.8 244.4L150.0 243.0L151.2 241.7L152.4 240.4L153.6 239.1L154.8 237.8L156.0 236.6L157.2 235.4L158.5 234.2L159.7 233.1L160.9 232.0L162.1 230.9L163.3 229.8L164.5 228.8L165.7 227.7L166.9 226.7L168.1 225.7L169.3 224.8L170.5 223.8L171.8 222.9L173.0 222.0L174.2 221.1L175.4 220.3L176.6 219.4L177.8 218.6L179.0 217.7L180.2 216.9L181.4 216.2L182.6 215.4L183.8 214.6L185.0 213.9L186.2 213.1L187.5 212.4L188.7 211.7L189.9 211.0L191.1 210.3L192.3 209.6L193.5 208.9L194.7 208.3L195.9 207.6L197.1 206.9L198.3 206.3L199.5 205.7L200.8 205.0L202.0 204.4L203.2 203.8L204.4 203.1L205.6 202.5L206.8 201.9L208.0 201.3L209.2 200.7L210.4 200.1L211.6 199.5L212.8 198.9L214.0 198.3L215.2 197.7L216.5 197.1L217.7 196.6L218.9 196.0L220.1 195.4L221.3 194.9L222.5 194.3L223.7 193.7L224.9 193.2L226.1 192.7L227.3 192.1L228.5 191.6L229.8 191.0L231.0 190.5L232.2 190.0L233.4 189.5L234.6 189.0L235.8 188.4L237.0 187.9L238.2 187.4L239.4 186.9L240.6 186.4L241.8 186.0L243.0 185.5L244.2 185.0L245.5 184.5L246.7 184.0L247.9 183.6L249.1 183.1L250.3 182.6L251.5 182.2L252.7 181.7L253.9 181.3L255.1 180.8L256.3 180.4L257.5 180.0L258.8 179.5L260.0 179.1L261.2 178.7L262.4 178.2L263.6 177.8L264.8 177.4L266.0 177.0L267.2 176.6L268.4 176.2L269.6 175.8L270.8 175.4L272.0 175.0L273.2 174.6L274.5 174.2L275.7 173.8L276.9 173.5L278.1 173.1L279.3 172.7L280.5 172.4L281.7 172.0L282.9 171.6L284.1 171.3L285.3 170.9L286.5 170.6L287.8 170.2L289.0 169.9L290.2 169.6L291.4 169.2L292.6 168.9L293.8 168.6L295.0 168.2L296.2 167.9L297.4 167.6L298.6 167.3L299.8 167.0L301.0 166.7L302.2 166.4L303.5 166.1L304.7 165.8L305.9 165.5L307.1 165.2L308.3 164.9L309.5 164.6L310.7 164.3L311.9 164.1L313.1 163.8L314.3 163.5L315.5 163.3L316.8 163.0L318.0 162.7L319.2 162.5L320.4 162.2L321.6 162.0L322.8 161.7L324.0 161.5L325.2 161.2L326.4 161.0L327.6 160.8L328.8 160.5L330.0 160.3L331.2 160.1L332.5 159.8L333.7 159.6L334.9 159.4L336.1 159.2L337.3 159.0L338.5 158.8L339.7 158.6L340.9 158.4L342.1 158.2L343.3 158.0L344.5 157.8L345.8 157.6L347.0 157.4L348.2 157.2L349.4 157.0L350.6 156.8L351.8 156.7L353.0 156.5L354.2 156.3L355.4 156.1L356.6 156.0L357.8 155.8L359.0 155.6L360.2 155.5L361.5 155.3L362.7 155.2L363.9 155.0L365.1 154.9L366.3 154.7L367.5 154.6L368.7 154.5L369.9 154.3L371.1 154.2L372.3 154.0L373.5 153.9L374.8 153.8L376.0 153.7L377.2 153.5L378.4 153.4L379.6 153.3L380.8 153.2L382.0 153.1L383.2 153.0L384.4 152.9L385.6 152.7L386.8 152.6L388.0 152.5L389.2 152.4L390.5 152.3L391.7 152.2L392.9 152.2L394.1 152.1L395.3 152.0L396.5 151.9L397.7 151.8L398.9 151.7L400.1 151.6L401.3 151.6L402.5 151.5L403.8 151.4L405.0 151.4L406.2 151.3L407.4 151.2L408.6 151.2L409.8 151.1L411.0 151.0" stroke="#7a00ff" stroke-width="1.45"  clip-path="url(#c1)"/>
<text transform="translate(108.9 229.3) scale(0.92 1)" fill="#7a00ff" stroke="#7a00ff" stroke-width="0.1" font-size="9.4">Fe</text>
<text transform="translate(111.2 216.0) scale(0.92 1)" fill="#7a00ff" stroke="#7a00ff" stroke-width="0.1" font-size="9.4">Fe</text>
<text transform="translate(116.9 197.7) scale(0.92 1)" fill="#7a00ff" stroke="#7a00ff" stroke-width="0.1" font-size="9.4">Fe</text>
<text transform="translate(130.1 174.1) scale(0.92 1)" fill="#7a00ff" stroke="#7a00ff" stroke-width="0.1" font-size="9.4">Fe</text>
<text transform="translate(147.4 156.1) scale(0.92 1)" fill="#7a00ff" stroke="#7a00ff" stroke-width="0.1" font-size="9.4">Fe</text>
<text transform="translate(167.9 142.7) scale(0.92 1)" fill="#7a00ff" stroke="#7a00ff" stroke-width="0.1" font-size="9.4">Fe</text>
<text transform="translate(190.6 131.3) scale(0.92 1)" fill="#7a00ff" stroke="#7a00ff" stroke-width="0.1" font-size="9.4">Fe</text>
<text transform="translate(216.0 121.8) scale(0.92 1)" fill="#7a00ff" stroke="#7a00ff" stroke-width="0.1" font-size="9.4">Fe</text>
<text transform="translate(246.0 113.2) scale(0.92 1)" fill="#7a00ff" stroke="#7a00ff" stroke-width="0.1" font-size="9.4">Fe</text>
<text transform="translate(284.3 104.8) scale(0.92 1)" fill="#7a00ff" stroke="#7a00ff" stroke-width="0.1" font-size="9.4">Fe</text>
<text transform="translate(336.7 96.9) scale(0.92 1)" fill="#7a00ff" stroke="#7a00ff" stroke-width="0.1" font-size="9.4">Fe</text>
<text transform="translate(396.5 91.7) scale(0.92 1)" fill="#7a00ff" stroke="#7a00ff" stroke-width="0.1" font-size="9.4">Fe</text>
<text transform="translate(130.1 273.5) scale(0.92 1)" fill="#7a00ff" stroke="#7a00ff" stroke-width="0.1" font-size="9.4">Ni</text>
<text transform="translate(147.4 248.8) scale(0.92 1)" fill="#7a00ff" stroke="#7a00ff" stroke-width="0.1" font-size="9.4">Ni</text>
<text transform="translate(167.9 228.8) scale(0.92 1)" fill="#7a00ff" stroke="#7a00ff" stroke-width="0.1" font-size="9.4">Ni</text>
<text transform="translate(190.6 213.3) scale(0.92 1)" fill="#7a00ff" stroke="#7a00ff" stroke-width="0.1" font-size="9.4">Ni</text>
<text transform="translate(216.0 200.2) scale(0.92 1)" fill="#7a00ff" stroke="#7a00ff" stroke-width="0.1" font-size="9.4">Ni</text>
<text transform="translate(246.0 187.6) scale(0.92 1)" fill="#7a00ff" stroke="#7a00ff" stroke-width="0.1" font-size="9.4">Ni</text>
<text transform="translate(284.3 174.3) scale(0.92 1)" fill="#7a00ff" stroke="#7a00ff" stroke-width="0.1" font-size="9.4">Ni</text>
<text transform="translate(336.7 162.0) scale(0.92 1)" fill="#7a00ff" stroke="#7a00ff" stroke-width="0.1" font-size="9.4">Ni</text>
<text transform="translate(396.5 154.9) scale(0.92 1)" fill="#7a00ff" stroke="#7a00ff" stroke-width="0.1" font-size="9.4">Ni</text>
<text transform="translate(108.0 240.1) scale(0.92 1)" fill="#7a00ff" stroke="#7a00ff" stroke-width="0.1" font-size="9.4">Fe</text>
<text transform="translate(107.0 255.1) scale(0.92 1)" fill="#7a00ff" stroke="#7a00ff" stroke-width="0.1" font-size="9.4">Fe</text>
<text transform="translate(106.5 275.1) scale(0.92 1)" fill="#7a00ff" stroke="#7a00ff" stroke-width="0.1" font-size="9.4">Fe</text>
<path d="M54.0 132.0L55.2 131.8L56.4 131.7L57.6 131.5L58.8 131.2L60.0 131.0L60.0 131.0L61.2 130.7L62.3 130.4L63.5 130.1L64.7 129.8L65.8 129.4L67.0 129.1L68.2 128.7L69.3 128.3L70.5 127.8L71.6 127.4L72.7 126.9L73.9 126.5L75.0 126.0L76.0 125.6L76.1 125.6L77.2 125.1L78.3 124.6L79.4 124.1L80.5 123.5L81.6 122.9L82.7 122.3L83.7 121.7L84.8 121.1L85.8 120.4L86.7 119.8L86.8 119.8L87.7 119.0L88.7 118.3L89.6 117.5L90.5 116.6L91.3 115.8L92.0 115.0L92.1 114.8L92.8 113.8L93.4 112.8L93.5 112.7L94.1 111.8L94.7 110.7L95.3 109.7L95.9 108.6L96.2 108.0L96.4 107.5L96.9 106.4L97.4 105.3L97.8 104.1L98.2 103.0L98.4 102.0L98.4 101.8L98.7 100.6L98.8 99.4L99.0 98.2L99.2 97.0L99.3 95.8L99.4 94.6L99.6 93.4L99.7 92.2L99.7 92.0L99.8 91.0L99.9 89.7L100.1 88.5L100.2 87.3L100.3 86.1L100.4 84.9L100.4 84.0L100.4 83.7L100.5 82.5L100.5 81.3L100.6 80.1L100.6 78.8L100.6 77.6L100.7 76.4L100.7 75.2L100.7 74.0L100.7 72.8L100.8 71.6L100.8 70.4L100.8 70.0L100.8 69.1L100.8 67.9L100.9 66.7L100.9 65.5L100.9 64.3L100.9 63.1L100.9 61.9L100.9 60.6L100.9 59.4L101.0 58.2L101.0 57.0L101.0 55.8L101.0 54.6L101.0 53.4L101.0 52.1L101.0 50.9L101.0 49.7L101.1 48.5L101.1 47.3L101.1 46.1L101.1 45.0L101.1 44.9L101.1 43.6L101.1 42.4L101.1 41.2L101.2 40.0L101.2 38.8L101.2 37.6L101.2 36.4L101.2 35.1L101.2 33.9L101.3 32.7L101.3 31.5L101.3 30.3L101.4 29.1L101.4 28.0L101.4 27.9L101.5 26.6L101.6 25.4L101.7 24.2L101.8 23.0L102.0 21.8L102.2 21.0L102.3 20.6L102.9 19.5L103.0 19.5L103.7 20.3L104.0 21.0L104.1 21.5L104.3 22.6L104.5 23.8L104.6 25.0L104.7 26.3L104.8 27.5L104.8 28.0L104.9 28.7L104.9 30.0L105.0 31.2L105.1 32.4L105.2 33.6L105.2 34.8L105.3 36.0L105.4 37.2L105.4 38.0L105.4 38.4L105.5 39.7L105.6 40.9L105.6 42.1L105.7 43.3L105.8 44.5L105.8 45.0L105.9 45.7L106.0 46.9L106.1 48.1L106.3 49.3L106.5 50.5L106.7 51.7L106.8 52.9L107.0 54.0L107.0 54.1L107.2 55.3L107.4 56.5L107.6 57.7L107.8 58.9L108.0 60.1L108.3 61.3L108.4 62.0L108.5 62.5L108.8 63.7L109.1 64.9L109.4 66.0L109.7 67.2L110.0 68.0L110.1 68.3L110.6 69.5L111.1 70.6L111.6 71.7L112.1 72.8L112.2 73.0L112.5 73.9L112.9 75.1L113.3 76.2L113.7 77.4L114.1 78.5L114.5 79.5L114.6 79.6L115.1 80.7L115.6 81.8L116.2 82.9L116.8 84.0L117.4 85.0L117.4 85.0L118.6 86.1L119.8 87.0L121.0 87.9L122.2 88.6L123.4 89.3L124.6 89.9L125.9 90.5L127.1 91.0L128.3 91.5L129.5 92.0L130.7 92.5L131.9 93.0L133.1 93.5L134.3 94.0L135.5 94.5L136.7 94.9L137.9 95.4L139.1 95.8L140.4 96.3L141.6 96.7L142.8 97.1L144.0 97.6L145.2 98.0L146.4 98.4L147.6 98.8L148.8 99.2L150.0 99.6L151.2 100.0L152.4 100.4L153.6 100.8L154.9 101.2L156.1 101.5L157.3 101.9L158.5 102.3L159.7 102.6L160.9 103.0L162.1 103.3L163.3 103.7L164.5 104.0L165.7 104.4L166.9 104.7L168.1 105.0L169.4 105.4L170.6 105.7L171.8 106.0L173.0 106.3L174.2 106.7L175.4 107.0L176.6 107.3L177.8 107.6L179.0 107.9L180.2 108.2L181.4 108.5L182.6 108.8L183.9 109.1L185.1 109.4L186.3 109.6L187.5 109.9L188.7 110.2L189.9 110.5L191.1 110.8L192.3 111.1L193.5 111.3L194.7 111.6L195.9 111.9L197.1 112.2L198.4 112.4L199.6 112.7L200.8 113.0L202.0 113.2L203.2 113.5L204.4 113.8L205.6 114.0L206.8 114.3L208.0 114.6L209.2 114.8L210.4 115.1L211.6 115.3L212.9 115.6L214.1 115.9L215.3 116.1L216.5 116.4L217.7 116.6L218.9 116.9L220.1 117.1L221.3 117.4L222.5 117.6L223.7 117.9L224.9 118.1L226.1 118.4L227.3 118.6L228.6 118.8L229.8 119.1L231.0 119.3L232.2 119.6L233.4 119.8L234.6 120.1L235.8 120.3L237.0 120.5L238.2 120.8L239.4 121.0L240.6 121.3L241.8 121.5L243.1 121.7L244.3 122.0L245.5 122.2L246.7 122.5L247.9 122.7L249.1 122.9L250.3 123.2L251.5 123.4L252.7 123.6L253.9 123.9L255.1 124.1L256.3 124.4L257.6 124.6L258.8 124.8L260.0 125.1L261.2 125.3L262.4 125.5L263.6 125.8L264.8 126.0L266.0 126.3L267.2 126.5L268.4 126.7L269.6 127.0L270.8 127.2L272.1 127.5L273.3 127.7L274.5 127.9L275.7 128.2L276.9 128.4L278.1 128.7L279.3 128.9L280.5 129.2L281.7 129.4L282.9 129.7L284.1 129.9L285.3 130.2L286.6 130.4L287.8 130.7L289.0 130.9L290.2 131.2L291.4 131.4L292.6 131.7L293.8 131.9L295.0 132.2L296.2 132.4L297.4 132.7L298.6 133.0L299.8 133.2L301.1 133.5L302.3 133.8L303.5 134.0L304.7 134.3L305.9 134.6L307.1 134.8L308.3 135.1L309.5 135.4L310.7 135.6L311.9 135.9L313.1 136.2L314.3 136.5L315.5 136.8L316.8 137.0L318.0 137.3L319.2 137.6L320.4 137.9L321.6 138.2L322.8 138.5L324.0 138.8L325.2 139.1L326.4 139.4L327.6 139.7L328.8 140.0L330.0 140.3L331.3 140.6L332.5 140.9L333.7 141.2L334.9 141.5L336.1 141.8L337.3 142.1L338.5 142.4L339.7 142.8L340.9 143.1L342.1 143.4L343.3 143.7L344.5 144.1L345.8 144.4L347.0 144.7L348.2 145.1L349.4 145.4L350.6 145.8L351.8 146.1L353.0 146.4L354.2 146.8L355.4 147.2L356.6 147.5L357.8 147.9L359.0 148.2L360.3 148.6L361.5 149.0L362.7 149.3L363.9 149.7L365.1 150.1L366.3 150.5L367.5 150.8L368.7 151.2L369.9 151.6L371.1 152.0L372.3 152.4L373.5 152.8L374.8 153.2L376.0 153.6L377.2 154.0L378.4 154.4L379.6 154.8L380.8 155.3L382.0 155.7L383.2 156.1L384.4 156.5L385.6 157.0L386.8 157.4L388.0 157.8L389.3 158.3L390.5 158.7L391.7 159.2L392.9 159.6L394.1 160.1L395.3 160.6L396.5 161.0L397.7 161.5L398.9 162.0L400.1 162.4L401.3 162.9L402.5 163.4L403.8 163.9L405.0 164.4L406.2 164.9L407.4 165.4L408.6 165.9L409.8 166.4L411.0 166.9" stroke="#ff1212" stroke-width="1.60"  clip-path="url(#c1)"/>
<path d="M101.0 62 L101.2 45 L101.5 28 L102.2 20.8 L104 20.8 L104.9 28 L105.5 42 L106.2 50 L104.6 50 L103.6 44 L102.6 50 L102.3 58Z" style="fill:#000" stroke="#000" stroke-width="0.8"/>
<path d="M100.6 92.0L101.2 60.0" stroke="#000" stroke-width="1.80"  clip-path="url(#c1)"/>
<path d="M107.5 60.0L110.5 70.5L114.0 79.0" stroke="#000" stroke-width="1.80"  clip-path="url(#c1)"/>
<path d="M54.0 132.0L55.2 131.8L56.4 131.7L57.6 131.5L58.8 131.2L60.0 131.0L60.0 131.0L61.2 130.7L62.3 130.5L63.5 130.1L64.7 129.8L65.8 129.4L67.0 129.1L68.2 128.7L69.3 128.3L70.4 127.8L71.6 127.4L72.7 127.0L73.8 126.5L75.0 126.0L76.0 125.6L76.1 125.6L77.2 125.1L78.3 124.6L79.4 124.1L80.5 123.5L81.6 122.9L82.6 122.4L83.7 121.7L84.7 121.1L85.7 120.5L86.7 119.8L86.7 119.8L87.7 119.1L88.7 118.3L89.6 117.5L90.5 116.7L91.3 115.8L92.0 115.0L92.1 114.9L92.8 113.9L93.4 112.8L93.5 112.7L94.1 111.8L94.7 110.8L95.3 109.7L95.9 108.7L96.2 108.0L96.4 107.6L96.9 106.5L97.4 105.3L97.8 104.2L98.2 103.0L98.4 102.0L98.4 101.9L98.6 100.7L98.8 99.5L99.0 98.3L99.2 97.1L99.3 95.9L99.4 94.7L99.6 93.4L99.7 92.2L99.7 92.0L99.8 91.0L99.9 89.8L100.1 88.6L100.2 87.4L100.3 86.2L100.3 85.0L100.4 84.0L100.4 83.8L100.5 82.6L100.5 81.3L100.6 80.1L100.6 78.9L100.6 77.7L100.7 76.5L100.7 75.3L100.7 74.1L100.7 72.9L100.8 71.6L100.8 70.4L100.8 70.0L100.8 69.2L100.8 68.0L100.9 66.8L100.9 65.6L100.9 64.4L100.9 63.2L100.9 61.9L100.9 60.7L100.9 59.5L101.0 58.3L101.0 57.1L101.0 55.9L101.0 54.7L101.0 53.5L101.0 52.2L101.0 51.0L101.0 49.8L101.1 48.6L101.1 47.4L101.1 46.2L101.1 45.0L101.1 45.0L101.1 43.8L101.1 42.5L101.1 41.3L101.2 40.1L101.2 38.9L101.2 37.7L101.2 36.5L101.2 35.3L101.2 34.0L101.3 32.8L101.3 31.6L101.3 30.4L101.4 29.2L101.4 28.0L101.4 28.0L101.5 26.8L101.5 25.5L101.7 24.3L101.8 23.1L102.0 21.9L102.2 21.0L102.3 20.8L102.9 19.6L103.0 19.5L103.6 20.1L104.0 21.0L104.1 21.3L104.3 22.5L104.4 23.7L104.6 24.9L104.7 26.2L104.8 27.4L104.8 28.0L104.8 28.6L104.9 29.8L105.0 31.0L105.1 32.2L105.2 33.4L105.2 34.7L105.3 35.9L105.3 37.1L105.4 38.0L105.4 38.3L105.5 39.5L105.5 40.7L105.6 41.9L105.7 43.1L105.8 44.3L105.8 45.0L105.8 45.6L106.0 46.8L106.1 48.0L106.3 49.2L106.4 50.4L106.6 51.6L106.8 52.8L107.0 54.0L107.0 54.0L107.2 55.2L107.4 56.4L107.6 57.6L107.8 58.8L108.0 60.0L108.2 61.1L108.4 62.0L108.5 62.3L108.7 63.5L109.0 64.7L109.4 65.9L109.7 67.0L110.0 68.0L110.1 68.2L110.5 69.3L111.0 70.4L111.5 71.5L111.9 72.7L112.2 73.3L112.4 73.8L112.8 74.9L113.1 76.1L113.5 77.3L113.9 78.4L114.3 79.6L114.5 80.2L114.7 80.7L115.2 81.8L115.7 82.9L116.2 84.0L116.8 85.0L117.4 86.1L117.4 86.1L118.6 87.2L119.8 88.2L121.0 89.1L122.2 89.8L123.4 90.5L124.6 91.1L125.9 91.7L127.1 92.2L128.3 92.7L129.5 93.3L130.7 93.7L131.9 94.2L133.1 94.7L134.3 95.2L135.5 95.7L136.7 96.1L137.9 96.6L139.1 97.0L140.4 97.5L141.6 97.9L142.8 98.3L144.0 98.8L145.2 99.2L146.4 99.6L147.6 100.0L148.8 100.4L150.0 100.8L151.2 101.2L152.4 101.6L153.6 102.0L154.9 102.4L156.1 102.7L157.3 103.1L158.5 103.5L159.7 103.8L160.9 104.2L162.1 104.5L163.3 104.9L164.5 105.2L165.7 105.6L166.9 105.9L168.1 106.2L169.4 106.6L170.6 106.9L171.8 107.2L173.0 107.5L174.2 107.8L175.4 108.2L176.6 108.5L177.8 108.8L179.0 109.1L180.2 109.4L181.4 109.7L182.6 110.0L183.9 110.3L185.1 110.6L186.3 110.8L187.5 111.1L188.7 111.4L189.9 111.7L191.1 112.0L192.3 112.3L193.5 112.5L194.7 112.8L195.9 113.1L197.1 113.4L198.4 113.6L199.6 113.9L200.8 114.2L202.0 114.4L203.2 114.7L204.4 115.0L205.6 115.2L206.8 115.5L208.0 115.8L209.2 116.0L210.4 116.3L211.6 116.5L212.9 116.8L214.1 117.1L215.3 117.3L216.5 117.6L217.7 117.8L218.9 118.1L220.1 118.3L221.3 118.6L222.5 118.8L223.7 119.1L224.9 119.3L226.1 119.6L227.3 119.8L228.6 120.0L229.8 120.3L231.0 120.5L232.2 120.8L233.4 121.0L234.6 121.3L235.8 121.5L237.0 121.7L238.2 122.0L239.4 122.2L240.6 122.5L241.8 122.7L243.1 122.9L244.3 123.2L245.5 123.4L246.7 123.7L247.9 123.9L249.1 124.1L250.3 124.4L251.5 124.6L252.7 124.8L253.9 125.1L255.1 125.3L256.3 125.6L257.6 125.8L258.8 126.0L260.0 126.3L261.2 126.5L262.4 126.7L263.6 127.0L264.8 127.2L266.0 127.5L267.2 127.7L268.4 127.9L269.6 128.2L270.8 128.4L272.1 128.7L273.3 128.9L274.5 129.2L275.7 129.4L276.9 129.6L278.1 129.9L279.3 130.1L280.5 130.4L281.7 130.6L282.9 130.9L284.1 131.1L285.3 131.4L286.6 131.6L287.8 131.9L289.0 132.1L290.2 132.4L291.4 132.6L292.6 132.9L293.8 133.1L295.0 133.4L296.2 133.6L297.4 133.9L298.6 134.2L299.8 134.4L301.1 134.7L302.3 135.0L303.5 135.2L304.7 135.5L305.9 135.8L307.1 136.0L308.3 136.3L309.5 136.6L310.7 136.8L311.9 137.1L313.1 137.4L314.3 137.7L315.5 138.0L316.8 138.2L318.0 138.5L319.2 138.8L320.4 139.1L321.6 139.4L322.8 139.7L324.0 140.0L325.2 140.3L326.4 140.6L327.6 140.9L328.8 141.2L330.0 141.5L331.3 141.8L332.5 142.1L333.7 142.4L334.9 142.7L336.1 143.0L337.3 143.3L338.5 143.6L339.7 144.0L340.9 144.3L342.1 144.6L343.3 144.9L344.5 145.3L345.8 145.6L347.0 145.9L348.2 146.3L349.4 146.6L350.6 147.0L351.8 147.3L353.0 147.6L354.2 148.0L355.4 148.3L356.6 148.7L357.8 149.1L359.0 149.4L360.3 149.8L361.5 150.2L362.7 150.5L363.9 150.9L365.1 151.3L366.3 151.7L367.5 152.0L368.7 152.4L369.9 152.8L371.1 153.2L372.3 153.6L373.5 154.0L374.8 154.4L376.0 154.8L377.2 155.2L378.4 155.6L379.6 156.0L380.8 156.5L382.0 156.9L383.2 157.3L384.4 157.7L385.6 158.2L386.8 158.6L388.0 159.0L389.3 159.5L390.5 159.9L391.7 160.4L392.9 160.8L394.1 161.3L395.3 161.8L396.5 162.2L397.7 162.7L398.9 163.2L400.1 163.6L401.3 164.1L402.5 164.6L403.8 165.1L405.0 165.6L406.2 166.1L407.4 166.6L408.6 167.1L409.8 167.6L411.0 168.1" stroke="#000" stroke-width="1.60" stroke-dasharray="4.6 2.2"  clip-path="url(#c1)"/>
<path d="M54.0 39.2L55.2 39.2L56.5 39.2L57.7 39.2L58.9 39.2L60.1 39.2L61.4 39.2L62.6 39.2L63.8 39.2L65.0 39.2L66.3 39.2L67.5 39.2L68.7 39.2L70.0 39.2L71.2 39.2L72.4 39.2L73.6 39.2L74.9 39.2L76.1 39.2L77.3 39.2L78.5 39.2L79.8 39.2L80.0 39.2L81.0 39.2L82.2 39.2L83.5 39.2L84.7 39.2L86.0 39.2L87.3 39.2L88.5 39.2L89.8 39.2L91.0 39.2L92.3 39.2L93.5 39.2L94.7 39.2L95.9 39.2L97.1 39.2L98.3 39.2L99.5 39.2L100.0 39.2L100.7 39.4L101.5 40.0L101.5 40.1L101.8 41.0L101.9 42.0L102.1 43.2L102.2 44.5L102.2 45.9L102.3 47.3L102.4 48.7L102.5 49.9L102.5 50.0L102.6 51.2L102.7 52.4L102.8 53.6L102.9 54.9L103.0 56.1L103.1 57.3L103.3 58.5L103.5 59.7L103.5 60.0L103.7 60.9L104.2 62.1L104.7 63.2L105.3 64.2L105.5 64.5L106.0 65.2L106.8 66.1L107.8 66.9L108.8 67.7L108.8 67.7L110.0 68.1L111.2 68.4L112.4 68.7L113.6 69.1L114.8 69.4L116.1 69.7L117.3 70.0L118.5 70.3L119.7 70.6L120.9 70.9L122.1 71.2L123.3 71.5L124.5 71.8L125.7 72.1L126.9 72.4L128.1 72.7L129.3 72.9L130.6 73.2L131.8 73.5L133.0 73.7L134.2 74.0L135.4 74.3L136.6 74.5L137.8 74.8L139.0 75.0L140.2 75.3L141.4 75.5L142.6 75.7L143.9 76.0L145.1 76.2L146.3 76.4L147.5 76.7L148.7 76.9L149.9 77.1L151.1 77.3L152.3 77.6L153.5 77.8L154.7 78.0L155.9 78.2L157.2 78.4L158.4 78.6L159.6 78.8L160.8 79.0L162.0 79.2L163.2 79.4L164.4 79.6L165.6 79.8L166.8 80.0L168.0 80.1L169.2 80.3L170.4 80.5L171.7 80.7L172.9 80.9L174.1 81.0L175.3 81.2L176.5 81.4L177.7 81.6L178.9 81.7L180.1 81.9L181.3 82.1L182.5 82.2L183.7 82.4L185.0 82.5L186.2 82.7L187.4 82.9L188.6 83.0L189.8 83.2L191.0 83.3L192.2 83.5L193.4 83.6L194.6 83.8L195.8 83.9L197.0 84.1L198.3 84.2L199.5 84.4L200.7 84.5L201.9 84.7L203.1 84.8L204.3 84.9L205.5 85.1L206.7 85.2L207.9 85.4L209.1 85.5L210.3 85.7L211.5 85.8L212.8 85.9L214.0 86.1L215.2 86.2L216.4 86.4L217.6 86.5L218.8 86.6L220.0 86.8L221.2 86.9L222.4 87.0L223.6 87.2L224.8 87.3L226.1 87.5L227.3 87.6L228.5 87.7L229.7 87.9L230.9 88.0L232.1 88.2L233.3 88.3L234.5 88.4L235.7 88.6L236.9 88.7L238.1 88.9L239.4 89.0L240.6 89.2L241.8 89.3L243.0 89.4L244.2 89.6L245.4 89.7L246.6 89.9L247.8 90.0L249.0 90.2L250.2 90.3L251.4 90.5L252.6 90.6L253.9 90.8L255.1 91.0L256.3 91.1L257.5 91.3L258.7 91.4L259.9 91.6L261.1 91.8L262.3 91.9L263.5 92.1L264.7 92.3L265.9 92.4L267.2 92.6L268.4 92.8L269.6 92.9L270.8 93.1L272.0 93.3L273.2 93.5L274.4 93.7L275.6 93.8L276.8 94.0L278.0 94.2L279.2 94.4L280.4 94.6L281.7 94.8L282.9 95.0L284.1 95.2L285.3 95.4L286.5 95.6L287.7 95.8L288.9 96.0L290.1 96.2L291.3 96.5L292.5 96.7L293.7 96.9L295.0 97.1L296.2 97.3L297.4 97.6L298.6 97.8L299.8 98.0L301.0 98.3L302.2 98.5L303.4 98.8L304.6 99.0L305.8 99.3L307.0 99.5L308.3 99.8L309.5 100.0L310.7 100.3L311.9 100.6L313.1 100.8L314.3 101.1L315.5 101.4L316.7 101.7L317.9 102.0L319.1 102.3L320.3 102.5L321.5 102.8L322.8 103.1L324.0 103.5L325.2 103.8L326.4 104.1L327.6 104.4L328.8 104.7L330.0 105.0L331.2 105.4L332.4 105.7L333.6 106.0L334.8 106.4L336.1 106.7L337.3 107.1L338.5 107.4L339.7 107.8L340.9 108.2L342.1 108.5L343.3 108.9L344.5 109.3L345.7 109.7L346.9 110.1L348.1 110.5L349.4 110.9L350.6 111.3L351.8 111.7L353.0 112.1L354.2 112.5L355.4 112.9L356.6 113.4L357.8 113.8L359.0 114.2L360.2 114.7L361.4 115.1L362.6 115.6L363.9 116.0L365.1 116.5L366.3 117.0L367.5 117.5L368.7 117.9L369.9 118.4L371.1 118.9L372.3 119.4L373.5 119.9L374.7 120.4L375.9 121.0L377.2 121.5L378.4 122.0L379.6 122.6L380.8 123.1L382.0 123.6L383.2 124.2L384.4 124.8L385.6 125.3L386.8 125.9L388.0 126.5L389.2 127.1L390.5 127.7L391.7 128.3L392.9 128.9L394.1 129.5L395.3 130.1L396.5 130.7L397.7 131.4L398.9 132.0L400.1 132.7L401.3 133.3L402.5 134.0L403.7 134.6L405.0 135.3L406.2 136.0L407.4 136.7L408.6 137.4L409.8 138.1L411.0 138.8" stroke="#000" stroke-width="1.60" stroke-dasharray="4.6 2.2"  clip-path="url(#c1)"/>
<circle cx="96.5" cy="106.5" r="1.0" fill="#ff1212" stroke="none"/>
<circle cx="98.0" cy="103.1" r="1.0" fill="#ff1212" stroke="none"/>
<circle cx="98.8" cy="100.2" r="1.0" fill="#ff1212" stroke="none"/>
<circle cx="98.5" cy="97.4" r="1.0" fill="#ff1212" stroke="none"/>
<circle cx="99.2" cy="93.1" r="1.0" fill="#ff1212" stroke="none"/>
<circle cx="100.5" cy="90.9" r="1.0" fill="#ff1212" stroke="none"/>
<circle cx="100.6" cy="87.3" r="1.0" fill="#ff1212" stroke="none"/>
<circle cx="100.6" cy="83.7" r="1.0" fill="#ff1212" stroke="none"/>
<circle cx="100.7" cy="81.6" r="1.0" fill="#ff1212" stroke="none"/>
<circle cx="100.7" cy="77.9" r="1.0" fill="#ff1212" stroke="none"/>
<circle cx="101.0" cy="73.6" r="1.0" fill="#ff1212" stroke="none"/>
<circle cx="101.2" cy="70.4" r="1.0" fill="#ff1212" stroke="none"/>
<circle cx="100.6" cy="67.5" r="1.0" fill="#ff1212" stroke="none"/>
<circle cx="101.4" cy="64.3" r="1.0" fill="#ff1212" stroke="none"/>
<circle cx="101.2" cy="61.0" r="1.0" fill="#ff1212" stroke="none"/>
<circle cx="101.3" cy="57.4" r="1.0" fill="#ff1212" stroke="none"/>
<circle cx="100.9" cy="53.7" r="1.0" fill="#ff1212" stroke="none"/>
<circle cx="101.0" cy="50.2" r="1.0" fill="#ff1212" stroke="none"/>
<circle cx="101.6" cy="45.7" r="1.0" fill="#ff1212" stroke="none"/>
<circle cx="100.6" cy="43.4" r="1.0" fill="#ff1212" stroke="none"/>
<circle cx="101.8" cy="39.9" r="1.0" fill="#ff1212" stroke="none"/>
<circle cx="101.4" cy="36.2" r="1.0" fill="#ff1212" stroke="none"/>
<circle cx="101.3" cy="32.6" r="1.0" fill="#ff1212" stroke="none"/>
<circle cx="101.2" cy="29.2" r="1.0" fill="#ff1212" stroke="none"/>
<circle cx="101.6" cy="27.1" r="1.0" fill="#ff1212" stroke="none"/>
<circle cx="102.1" cy="23.4" r="1.0" fill="#ff1212" stroke="none"/>
<circle cx="102.8" cy="21.1" r="1.0" fill="#ff1212" stroke="none"/>
<circle cx="103.9" cy="19.9" r="1.0" fill="#ff1212" stroke="none"/>
<circle cx="104.8" cy="23.1" r="1.0" fill="#ff1212" stroke="none"/>
<circle cx="105.2" cy="26.4" r="1.0" fill="#ff1212" stroke="none"/>
<circle cx="105.2" cy="28.5" r="1.0" fill="#ff1212" stroke="none"/>
<circle cx="105.6" cy="32.5" r="1.0" fill="#ff1212" stroke="none"/>
<circle cx="105.0" cy="35.6" r="1.0" fill="#ff1212" stroke="none"/>
<circle cx="105.9" cy="38.9" r="1.0" fill="#ff1212" stroke="none"/>
<circle cx="105.0" cy="42.4" r="1.0" fill="#ff1212" stroke="none"/>
<circle cx="105.7" cy="44.7" r="1.0" fill="#ff1212" stroke="none"/>
<circle cx="105.8" cy="48.4" r="1.0" fill="#ff1212" stroke="none"/>
<circle cx="107.2" cy="51.3" r="1.0" fill="#ff1212" stroke="none"/>
<circle cx="107.2" cy="53.7" r="1.0" fill="#ff1212" stroke="none"/>
<circle cx="107.9" cy="57.6" r="1.0" fill="#ff1212" stroke="none"/>
<circle cx="108.8" cy="61.8" r="1.0" fill="#ff1212" stroke="none"/>
<circle cx="108.8" cy="64.2" r="1.0" fill="#ff1212" stroke="none"/>
<circle cx="109.5" cy="66.8" r="1.0" fill="#ff1212" stroke="none"/>
<circle cx="110.7" cy="69.0" r="1.0" fill="#ff1212" stroke="none"/>
<circle cx="111.7" cy="72.7" r="1.0" fill="#ff1212" stroke="none"/>
<circle cx="113.1" cy="74.7" r="1.0" fill="#ff1212" stroke="none"/>
<circle cx="113.5" cy="78.9" r="1.0" fill="#ff1212" stroke="none"/>
<circle cx="114.8" cy="81.2" r="1.0" fill="#ff1212" stroke="none"/>
<text transform="translate(130.1 95.8) scale(0.92 1)" fill="#ff1212" stroke="#ff1212" stroke-width="0.1" font-size="8.5">ε</text>
<text transform="translate(147.4 102.1) scale(0.92 1)" fill="#ff1212" stroke="#ff1212" stroke-width="0.1" font-size="8.5">ε</text>
<text transform="translate(167.9 108.3) scale(0.92 1)" fill="#ff1212" stroke="#ff1212" stroke-width="0.1" font-size="8.5">ε</text>
<text transform="translate(190.6 114.0) scale(0.92 1)" fill="#ff1212" stroke="#ff1212" stroke-width="0.1" font-size="8.5">ε</text>
<text transform="translate(216.0 119.6) scale(0.92 1)" fill="#ff1212" stroke="#ff1212" stroke-width="0.1" font-size="8.5">ε</text>
<text transform="translate(246.0 125.5) scale(0.92 1)" fill="#ff1212" stroke="#ff1212" stroke-width="0.1" font-size="8.5">ε</text>
<text transform="translate(284.3 133.2) scale(0.92 1)" fill="#ff1212" stroke="#ff1212" stroke-width="0.1" font-size="8.5">ε</text>
<text transform="translate(336.7 145.4) scale(0.92 1)" fill="#ff1212" stroke="#ff1212" stroke-width="0.1" font-size="8.5">ε</text>
<text transform="translate(396.5 164.3) scale(0.92 1)" fill="#ff1212" stroke="#ff1212" stroke-width="0.1" font-size="8.5">ε</text>
</g>
<g text-anchor="middle">
<path d="M54.0 330.0L55.2 330.0L56.4 330.0L57.6 330.0L58.8 330.0L60.0 329.9L61.2 329.9L62.4 329.9L63.6 329.9L64.9 329.8L66.1 329.8L67.3 329.8L68.5 329.7L69.7 329.7L70.9 329.7L72.1 329.6L73.3 329.6L74.5 329.5L75.7 329.5L76.9 329.4L78.1 329.4L79.3 329.3L80.0 329.3L80.5 329.3L81.7 329.2L82.9 329.2L84.1 329.1L85.3 329.0L86.5 328.9L87.7 328.9L88.9 328.8L90.1 328.7L91.3 328.6L92.0 328.5L92.5 328.4L93.8 328.3L95.1 328.2L96.3 328.0L97.4 327.8L98.0 327.6L98.4 327.4L99.2 326.5L99.9 325.3L100.0 325.0L100.2 324.3L100.4 323.1L100.6 321.9L100.7 320.7L100.8 319.4L101.0 318.2L101.0 318.0L101.1 317.0L101.3 315.8L101.4 314.5L101.5 313.3L101.7 312.1L102.0 311.0L102.0 311.0L102.6 309.8L103.0 309.6L103.5 309.6L104.5 309.6L105.8 309.6L107.1 309.6L108.4 309.6L109.7 309.6L110.0 309.6L110.9 309.6L112.1 309.6L113.3 309.6L114.5 309.6L115.7 309.6L116.9 309.6L118.1 309.6L119.3 309.6L120.5 309.6L121.7 309.6L122.9 309.6L124.1 309.6L125.3 309.6L126.5 309.6L127.7 309.6L128.9 309.6L130.2 309.6L131.4 309.6L132.6 309.6L133.8 309.6L135.0 309.6L136.2 309.6L137.4 309.6L138.6 309.6L139.8 309.6L141.0 309.6L142.2 309.6L143.4 309.6L144.6 309.6L145.8 309.6L147.0 309.6L148.2 309.6L149.4 309.6L150.6 309.6L151.9 309.6L153.1 309.6L154.3 309.6L155.5 309.6L156.7 309.6L157.9 309.6L159.1 309.6L160.3 309.6L161.5 309.6L162.7 309.6L163.9 309.6L165.1 309.6L166.3 309.6L167.5 309.6L168.7 309.6L169.9 309.6L171.1 309.6L172.3 309.6L173.5 309.6L174.8 309.6L176.0 309.6L177.2 309.6L178.4 309.6L179.6 309.6L180.8 309.6L182.0 309.6L183.2 309.6L184.4 309.6L185.6 309.6L186.8 309.6L188.0 309.6L189.2 309.6L190.4 309.6L191.6 309.6L192.8 309.6L194.0 309.6L195.2 309.6L196.4 309.6L197.7 309.6L198.9 309.6L200.1 309.6L201.3 309.6L202.5 309.6L203.7 309.6L204.9 309.6L206.1 309.6L207.3 309.6L208.5 309.6L209.7 309.6L210.9 309.6L212.1 309.6L213.3 309.6L214.5 309.6L215.7 309.6L216.9 309.6L218.1 309.6L219.4 309.6L220.6 309.6L221.8 309.6L223.0 309.6L224.2 309.6L225.4 309.6L226.6 309.6L227.8 309.6L229.0 309.6L230.2 309.6L231.4 309.6L232.6 309.6L233.8 309.6L235.0 309.6L236.2 309.6L237.4 309.6L238.6 309.6L239.8 309.6L241.0 309.6L242.3 309.6L243.5 309.6L244.7 309.6L245.9 309.6L247.1 309.6L248.3 309.6L249.5 309.6L250.7 309.6L251.9 309.6L253.1 309.6L254.3 309.6L255.5 309.6L256.7 309.6L257.9 309.6L259.1 309.6L260.3 309.6L261.5 309.6L262.7 309.6L263.9 309.6L265.2 309.6L266.4 309.6L267.6 309.6L268.8 309.6L270.0 309.6L271.2 309.6L272.4 309.6L273.6 309.6L274.8 309.6L276.0 309.6L277.2 309.6L278.4 309.6L279.6 309.6L280.8 309.6L282.0 309.6L283.2 309.6L284.4 309.6L285.6 309.6L286.8 309.6L288.1 309.6L289.3 309.6L290.5 309.6L291.7 309.6L292.9 309.6L294.1 309.6L295.3 309.6L296.5 309.6L297.7 309.6L298.9 309.6L300.1 309.6L301.3 309.6L302.5 309.6L303.7 309.6L304.9 309.6L306.1 309.6L307.3 309.6L308.5 309.6L309.8 309.6L311.0 309.6L312.2 309.6L313.4 309.6L314.6 309.6L315.8 309.6L317.0 309.6L318.2 309.6L319.4 309.6L320.6 309.6L321.8 309.6L323.0 309.6L324.2 309.6L325.4 309.6L326.6 309.6L327.8 309.6L329.0 309.6L330.2 309.6L331.4 309.6L332.7 309.6L333.9 309.6L335.1 309.6L336.3 309.6L337.5 309.6L338.7 309.6L339.9 309.6L341.1 309.6L342.3 309.6L343.5 309.6L344.7 309.6L345.9 309.6L347.1 309.6L348.3 309.6L349.5 309.6L350.7 309.6L351.9 309.6L353.1 309.6L354.3 309.6L355.6 309.6L356.8 309.6L358.0 309.6L359.2 309.6L360.4 309.6L361.6 309.6L362.8 309.6L364.0 309.6L365.2 309.6L366.4 309.6L367.6 309.6L368.8 309.6L370.0 309.6L371.2 309.6L372.4 309.6L373.6 309.6L374.8 309.6L376.0 309.6L377.3 309.6L378.5 309.6L379.7 309.6L380.9 309.6L382.1 309.6L383.3 309.6L384.5 309.6L385.7 309.6L386.9 309.6L388.1 309.6L389.3 309.6L390.5 309.6L391.7 309.6L392.9 309.6L394.1 309.6L395.3 309.6L396.5 309.6L397.7 309.6L398.9 309.6L400.2 309.6L401.4 309.6L402.6 309.6L403.8 309.6L405.0 309.6L406.2 309.6L407.4 309.6L408.6 309.6L409.8 309.6L411.0 309.6" stroke="#ff1212" stroke-width="1.50"  clip-path="url(#c2)"/>
<path d="M54.0 382.0L55.3 382.0L56.6 382.0L57.9 382.0L59.2 382.0L60.5 382.0L61.8 382.0L63.1 382.0L64.4 382.0L65.6 382.0L66.9 382.0L68.1 382.0L69.4 382.0L70.6 382.0L71.8 382.0L73.0 382.0L74.3 382.0L75.5 382.0L76.7 382.0L77.9 382.0L79.1 382.0L80.2 382.0L81.4 382.0L82.6 382.0L83.8 382.0L84.9 382.0L86.1 382.0L87.2 382.0L88.4 382.0L89.5 382.0L90.7 382.0L91.8 382.0L93.0 382.0L94.1 382.0L95.2 382.0L96.4 382.0L97.5 382.0L98.0 382.0L98.7 382.1L99.8 382.8L100.0 383.0L100.3 383.5L100.6 384.6L100.9 385.8L101.1 387.1L101.3 388.4L101.4 389.7L101.5 390.0L101.6 390.9L101.8 392.1L102.0 393.3L102.1 394.5L102.3 395.7L102.4 396.9L102.6 398.1L102.8 399.3L103.0 400.0L103.1 400.5L103.5 401.9L103.9 403.2L104.5 403.8L104.5 403.8L105.3 403.8L106.5 403.8L107.9 403.8L109.3 403.8L110.0 403.8L110.5 403.8L111.7 403.8L112.9 403.8L114.1 403.8L115.3 403.8L116.6 403.8L117.8 403.8L119.0 403.8L120.2 403.8L121.4 403.8L122.6 403.8L123.8 403.8L125.0 403.8L126.2 403.8L127.4 403.8L128.6 403.8L129.8 403.8L131.0 403.8L132.2 403.8L133.4 403.8L134.7 403.8L135.9 403.8L137.1 403.8L138.3 403.8L139.5 403.8L140.7 403.8L141.9 403.8L143.1 403.8L144.3 403.8L145.5 403.8L146.7 403.8L147.9 403.8L149.1 403.8L150.3 403.8L151.5 403.8L152.8 403.8L154.0 403.8L155.2 403.8L156.4 403.8L157.6 403.8L158.8 403.8L160.0 403.8L161.2 403.8L162.4 403.8L163.6 403.8L164.8 403.8L166.0 403.8L167.2 403.8L168.4 403.8L169.7 403.8L170.9 403.8L172.1 403.8L173.3 403.8L174.5 403.8L175.7 403.8L176.9 403.8L178.1 403.8L179.3 403.8L180.5 403.8L181.7 403.8L182.9 403.8L184.1 403.8L185.3 403.8L186.5 403.8L187.8 403.8L189.0 403.8L190.2 403.8L191.4 403.8L192.6 403.8L193.8 403.8L195.0 403.8L196.2 403.8L197.4 403.8L198.6 403.8L199.8 403.8L201.0 403.8L202.2 403.8L203.4 403.8L204.6 403.8L205.9 403.8L207.1 403.8L208.3 403.8L209.5 403.8L210.7 403.8L211.9 403.8L213.1 403.8L214.3 403.8L215.5 403.8L216.7 403.8L217.9 403.8L219.1 403.8L220.3 403.8L221.5 403.8L222.7 403.8L224.0 403.8L225.2 403.8L226.4 403.8L227.6 403.8L228.8 403.8L230.0 403.8L231.2 403.8L232.4 403.8L233.6 403.8L234.8 403.8L236.0 403.8L237.2 403.8L238.4 403.8L239.6 403.8L240.8 403.8L242.1 403.8L243.3 403.8L244.5 403.8L245.7 403.8L246.9 403.8L248.1 403.8L249.3 403.8L250.5 403.8L251.7 403.8L252.9 403.8L254.1 403.8L255.3 403.8L256.5 403.8L257.7 403.8L258.9 403.8L260.2 403.8L261.4 403.8L262.6 403.8L263.8 403.8L265.0 403.8L266.2 403.8L267.4 403.8L268.6 403.8L269.8 403.8L271.0 403.8L272.2 403.8L273.4 403.8L274.6 403.8L275.8 403.8L277.1 403.8L278.3 403.8L279.5 403.8L280.7 403.8L281.9 403.8L283.1 403.8L284.3 403.8L285.5 403.8L286.7 403.8L287.9 403.8L289.1 403.8L290.3 403.8L291.5 403.8L292.7 403.8L293.9 403.8L295.2 403.8L296.4 403.8L297.6 403.8L298.8 403.8L300.0 403.8L301.2 403.8L302.4 403.8L303.6 403.8L304.8 403.8L306.0 403.8L307.2 403.8L308.4 403.8L309.6 403.8L310.8 403.8L312.0 403.8L313.3 403.8L314.5 403.8L315.7 403.8L316.9 403.8L318.1 403.8L319.3 403.8L320.5 403.8L321.7 403.8L322.9 403.8L324.1 403.8L325.3 403.8L326.5 403.8L327.7 403.8L328.9 403.8L330.1 403.8L331.4 403.8L332.6 403.8L333.8 403.8L335.0 403.8L336.2 403.8L337.4 403.8L338.6 403.8L339.8 403.8L341.0 403.8L342.2 403.8L343.4 403.8L344.6 403.8L345.8 403.8L347.0 403.8L348.2 403.8L349.5 403.8L350.7 403.8L351.9 403.8L353.1 403.8L354.3 403.8L355.5 403.8L356.7 403.8L357.9 403.8L359.1 403.8L360.3 403.8L361.5 403.8L362.7 403.8L363.9 403.8L365.1 403.8L366.4 403.8L367.6 403.8L368.8 403.8L370.0 403.8L371.2 403.8L372.4 403.8L373.6 403.8L374.8 403.8L376.0 403.8L377.2 403.8L378.4 403.8L379.6 403.8L380.8 403.8L382.0 403.8L383.2 403.8L384.5 403.8L385.7 403.8L386.9 403.8L388.1 403.8L389.3 403.8L390.5 403.8L391.7 403.8L392.9 403.8L394.1 403.8L395.3 403.8L396.5 403.8L397.7 403.8L398.9 403.8L400.1 403.8L401.3 403.8L402.6 403.8L403.8 403.8L405.0 403.8L406.2 403.8L407.4 403.8L408.6 403.8L409.8 403.8L411.0 403.8" stroke="#1a88ff" stroke-width="1.50"  clip-path="url(#c2)"/>
<text transform="translate(108.0 312.5) scale(0.92 1)" fill="#ff1212" stroke="#ff1212" stroke-width="0.1" font-size="9">T</text>
<text transform="translate(108.0 407.9) scale(0.92 1)" fill="#1a88ff" stroke="#1a88ff" stroke-width="0.1" font-size="9">ρ</text>
<text transform="translate(110.0 312.5) scale(0.92 1)" fill="#ff1212" stroke="#ff1212" stroke-width="0.1" font-size="9">T</text>
<text transform="translate(110.0 407.9) scale(0.92 1)" fill="#1a88ff" stroke="#1a88ff" stroke-width="0.1" font-size="9">ρ</text>
<text transform="translate(113.0 312.5) scale(0.92 1)" fill="#ff1212" stroke="#ff1212" stroke-width="0.1" font-size="9">T</text>
<text transform="translate(113.0 407.9) scale(0.92 1)" fill="#1a88ff" stroke="#1a88ff" stroke-width="0.1" font-size="9">ρ</text>
<text transform="translate(119.0 312.5) scale(0.92 1)" fill="#ff1212" stroke="#ff1212" stroke-width="0.1" font-size="9">T</text>
<text transform="translate(119.0 407.9) scale(0.92 1)" fill="#1a88ff" stroke="#1a88ff" stroke-width="0.1" font-size="9">ρ</text>
<text transform="translate(130.1 312.5) scale(0.92 1)" fill="#ff1212" stroke="#ff1212" stroke-width="0.1" font-size="9">T</text>
<text transform="translate(130.1 407.9) scale(0.92 1)" fill="#1a88ff" stroke="#1a88ff" stroke-width="0.1" font-size="9">ρ</text>
<text transform="translate(147.4 312.5) scale(0.92 1)" fill="#ff1212" stroke="#ff1212" stroke-width="0.1" font-size="9">T</text>
<text transform="translate(147.4 407.9) scale(0.92 1)" fill="#1a88ff" stroke="#1a88ff" stroke-width="0.1" font-size="9">ρ</text>
<text transform="translate(167.9 312.5) scale(0.92 1)" fill="#ff1212" stroke="#ff1212" stroke-width="0.1" font-size="9">T</text>
<text transform="translate(167.9 407.9) scale(0.92 1)" fill="#1a88ff" stroke="#1a88ff" stroke-width="0.1" font-size="9">ρ</text>
<text transform="translate(190.6 312.5) scale(0.92 1)" fill="#ff1212" stroke="#ff1212" stroke-width="0.1" font-size="9">T</text>
<text transform="translate(190.6 407.9) scale(0.92 1)" fill="#1a88ff" stroke="#1a88ff" stroke-width="0.1" font-size="9">ρ</text>
<text transform="translate(216.0 312.5) scale(0.92 1)" fill="#ff1212" stroke="#ff1212" stroke-width="0.1" font-size="9">T</text>
<text transform="translate(216.0 407.9) scale(0.92 1)" fill="#1a88ff" stroke="#1a88ff" stroke-width="0.1" font-size="9">ρ</text>
<text transform="translate(246.0 312.5) scale(0.92 1)" fill="#ff1212" stroke="#ff1212" stroke-width="0.1" font-size="9">T</text>
<text transform="translate(246.0 407.9) scale(0.92 1)" fill="#1a88ff" stroke="#1a88ff" stroke-width="0.1" font-size="9">ρ</text>
<text transform="translate(284.3 312.5) scale(0.92 1)" fill="#ff1212" stroke="#ff1212" stroke-width="0.1" font-size="9">T</text>
<text transform="translate(284.3 407.9) scale(0.92 1)" fill="#1a88ff" stroke="#1a88ff" stroke-width="0.1" font-size="9">ρ</text>
<text transform="translate(336.7 312.5) scale(0.92 1)" fill="#ff1212" stroke="#ff1212" stroke-width="0.1" font-size="9">T</text>
<text transform="translate(336.7 407.9) scale(0.92 1)" fill="#1a88ff" stroke="#1a88ff" stroke-width="0.1" font-size="9">ρ</text>
<text transform="translate(396.5 312.5) scale(0.92 1)" fill="#ff1212" stroke="#ff1212" stroke-width="0.1" font-size="9">T</text>
<text transform="translate(396.5 407.9) scale(0.92 1)" fill="#1a88ff" stroke="#1a88ff" stroke-width="0.1" font-size="9">ρ</text>
<text transform="translate(98.0 330.5) scale(0.92 1)" fill="#ff1212" stroke="#ff1212" stroke-width="0.1" font-size="9">T</text>
<text transform="translate(100.0 327.9) scale(0.92 1)" fill="#ff1212" stroke="#ff1212" stroke-width="0.1" font-size="9">T</text>
<text transform="translate(100.7 323.9) scale(0.92 1)" fill="#ff1212" stroke="#ff1212" stroke-width="0.1" font-size="9">T</text>
<text transform="translate(101.0 320.9) scale(0.92 1)" fill="#ff1212" stroke="#ff1212" stroke-width="0.1" font-size="9">T</text>
<text transform="translate(101.5 317.9) scale(0.92 1)" fill="#ff1212" stroke="#ff1212" stroke-width="0.1" font-size="9">T</text>
<text transform="translate(102.0 314.9) scale(0.92 1)" fill="#ff1212" stroke="#ff1212" stroke-width="0.1" font-size="9">T</text>
<text transform="translate(102.5 312.9) scale(0.92 1)" fill="#ff1212" stroke="#ff1212" stroke-width="0.1" font-size="9">T</text>
<text transform="translate(103.5 312.5) scale(0.92 1)" fill="#ff1212" stroke="#ff1212" stroke-width="0.1" font-size="9">T</text>
<text transform="translate(105.0 312.5) scale(0.92 1)" fill="#ff1212" stroke="#ff1212" stroke-width="0.1" font-size="9">T</text>
<text transform="translate(104.2 312.5) scale(0.92 1)" fill="#ff1212" stroke="#ff1212" stroke-width="0.1" font-size="9">T</text>
<text transform="translate(106.2 312.5) scale(0.92 1)" fill="#ff1212" stroke="#ff1212" stroke-width="0.1" font-size="9">T</text>
<text transform="translate(98.0 385.4) scale(0.92 1)" fill="#1a88ff" stroke="#1a88ff" stroke-width="0.1" font-size="9">ρ</text>
<text transform="translate(100.0 386.9) scale(0.92 1)" fill="#1a88ff" stroke="#1a88ff" stroke-width="0.1" font-size="9">ρ</text>
<text transform="translate(100.8 389.9) scale(0.92 1)" fill="#1a88ff" stroke="#1a88ff" stroke-width="0.1" font-size="9">ρ</text>
<text transform="translate(101.5 393.9) scale(0.92 1)" fill="#1a88ff" stroke="#1a88ff" stroke-width="0.1" font-size="9">ρ</text>
<text transform="translate(102.2 397.9) scale(0.92 1)" fill="#1a88ff" stroke="#1a88ff" stroke-width="0.1" font-size="9">ρ</text>
<text transform="translate(103.0 402.9) scale(0.92 1)" fill="#1a88ff" stroke="#1a88ff" stroke-width="0.1" font-size="9">ρ</text>
<text transform="translate(103.7 405.9) scale(0.92 1)" fill="#1a88ff" stroke="#1a88ff" stroke-width="0.1" font-size="9">ρ</text>
<text transform="translate(104.5 408.4) scale(0.92 1)" fill="#1a88ff" stroke="#1a88ff" stroke-width="0.1" font-size="9">ρ</text>
<text transform="translate(105.5 408.4) scale(0.92 1)" fill="#1a88ff" stroke="#1a88ff" stroke-width="0.1" font-size="9">ρ</text>
<text transform="translate(106.6 408.4) scale(0.92 1)" fill="#1a88ff" stroke="#1a88ff" stroke-width="0.1" font-size="9">ρ</text>
</g>
<g>
<line x1="54.00" y1="29.65" x2="60.80" y2="29.65" stroke="#000" stroke-width="0.90"/>
<line x1="54.00" y1="24.24" x2="60.80" y2="24.24" stroke="#000" stroke-width="0.90"/>
<line x1="54.00" y1="20.41" x2="60.80" y2="20.41" stroke="#000" stroke-width="0.90"/>
<line x1="54.00" y1="17.44" x2="60.80" y2="17.44" stroke="#000" stroke-width="0.90"/>
<line x1="54.00" y1="15.01" x2="60.80" y2="15.01" stroke="#000" stroke-width="0.90"/>
<line x1="54.00" y1="12.95" x2="60.80" y2="12.95" stroke="#000" stroke-width="0.90"/>
<line x1="54.00" y1="11.17" x2="60.80" y2="11.17" stroke="#000" stroke-width="0.90"/>
<line x1="54.00" y1="9.60" x2="60.80" y2="9.60" stroke="#000" stroke-width="0.90"/>
<line x1="54.00" y1="38.88" x2="67.70" y2="38.88" stroke="#000" stroke-width="1.00"/>
<line x1="54.00" y1="60.33" x2="60.80" y2="60.33" stroke="#000" stroke-width="0.90"/>
<line x1="54.00" y1="54.93" x2="60.80" y2="54.93" stroke="#000" stroke-width="0.90"/>
<line x1="54.00" y1="51.09" x2="60.80" y2="51.09" stroke="#000" stroke-width="0.90"/>
<line x1="54.00" y1="48.12" x2="60.80" y2="48.12" stroke="#000" stroke-width="0.90"/>
<line x1="54.00" y1="45.69" x2="60.80" y2="45.69" stroke="#000" stroke-width="0.90"/>
<line x1="54.00" y1="43.64" x2="60.80" y2="43.64" stroke="#000" stroke-width="0.90"/>
<line x1="54.00" y1="41.86" x2="60.80" y2="41.86" stroke="#000" stroke-width="0.90"/>
<line x1="54.00" y1="40.29" x2="60.80" y2="40.29" stroke="#000" stroke-width="0.90"/>
<line x1="54.00" y1="69.57" x2="67.70" y2="69.57" stroke="#000" stroke-width="1.00"/>
<line x1="54.00" y1="91.01" x2="60.80" y2="91.01" stroke="#000" stroke-width="0.90"/>
<line x1="54.00" y1="85.61" x2="60.80" y2="85.61" stroke="#000" stroke-width="0.90"/>
<line x1="54.00" y1="81.78" x2="60.80" y2="81.78" stroke="#000" stroke-width="0.90"/>
<line x1="54.00" y1="78.80" x2="60.80" y2="78.80" stroke="#000" stroke-width="0.90"/>
<line x1="54.00" y1="76.37" x2="60.80" y2="76.37" stroke="#000" stroke-width="0.90"/>
<line x1="54.00" y1="74.32" x2="60.80" y2="74.32" stroke="#000" stroke-width="0.90"/>
<line x1="54.00" y1="72.54" x2="60.80" y2="72.54" stroke="#000" stroke-width="0.90"/>
<line x1="54.00" y1="70.97" x2="60.80" y2="70.97" stroke="#000" stroke-width="0.90"/>
<line x1="54.00" y1="100.25" x2="67.70" y2="100.25" stroke="#000" stroke-width="1.00"/>
<line x1="54.00" y1="121.70" x2="60.80" y2="121.70" stroke="#000" stroke-width="0.90"/>
<line x1="54.00" y1="116.29" x2="60.80" y2="116.29" stroke="#000" stroke-width="0.90"/>
<line x1="54.00" y1="112.46" x2="60.80" y2="112.46" stroke="#000" stroke-width="0.90"/>
<line x1="54.00" y1="109.49" x2="60.80" y2="109.49" stroke="#000" stroke-width="0.90"/>
<line x1="54.00" y1="107.06" x2="60.80" y2="107.06" stroke="#000" stroke-width="0.90"/>
<line x1="54.00" y1="105.00" x2="60.80" y2="105.00" stroke="#000" stroke-width="0.90"/>
<line x1="54.00" y1="103.22" x2="60.80" y2="103.22" stroke="#000" stroke-width="0.90"/>
<line x1="54.00" y1="101.65" x2="60.80" y2="101.65" stroke="#000" stroke-width="0.90"/>
<line x1="54.00" y1="130.93" x2="67.70" y2="130.93" stroke="#000" stroke-width="1.00"/>
<line x1="54.00" y1="152.38" x2="60.80" y2="152.38" stroke="#000" stroke-width="0.90"/>
<line x1="54.00" y1="146.98" x2="60.80" y2="146.98" stroke="#000" stroke-width="0.90"/>
<line x1="54.00" y1="143.14" x2="60.80" y2="143.14" stroke="#000" stroke-width="0.90"/>
<line x1="54.00" y1="140.17" x2="60.80" y2="140.17" stroke="#000" stroke-width="0.90"/>
<line x1="54.00" y1="137.74" x2="60.80" y2="137.74" stroke="#000" stroke-width="0.90"/>
<line x1="54.00" y1="135.69" x2="60.80" y2="135.69" stroke="#000" stroke-width="0.90"/>
<line x1="54.00" y1="133.91" x2="60.80" y2="133.91" stroke="#000" stroke-width="0.90"/>
<line x1="54.00" y1="132.34" x2="60.80" y2="132.34" stroke="#000" stroke-width="0.90"/>
<line x1="54.00" y1="161.62" x2="67.70" y2="161.62" stroke="#000" stroke-width="1.00"/>
<line x1="54.00" y1="183.06" x2="60.80" y2="183.06" stroke="#000" stroke-width="0.90"/>
<line x1="54.00" y1="177.66" x2="60.80" y2="177.66" stroke="#000" stroke-width="0.90"/>
<line x1="54.00" y1="173.83" x2="60.80" y2="173.83" stroke="#000" stroke-width="0.90"/>
<line x1="54.00" y1="170.85" x2="60.80" y2="170.85" stroke="#000" stroke-width="0.90"/>
<line x1="54.00" y1="168.42" x2="60.80" y2="168.42" stroke="#000" stroke-width="0.90"/>
<line x1="54.00" y1="166.37" x2="60.80" y2="166.37" stroke="#000" stroke-width="0.90"/>
<line x1="54.00" y1="164.59" x2="60.80" y2="164.59" stroke="#000" stroke-width="0.90"/>
<line x1="54.00" y1="163.02" x2="60.80" y2="163.02" stroke="#000" stroke-width="0.90"/>
<line x1="54.00" y1="192.30" x2="67.70" y2="192.30" stroke="#000" stroke-width="1.00"/>
<line x1="54.00" y1="213.75" x2="60.80" y2="213.75" stroke="#000" stroke-width="0.90"/>
<line x1="54.00" y1="208.34" x2="60.80" y2="208.34" stroke="#000" stroke-width="0.90"/>
<line x1="54.00" y1="204.51" x2="60.80" y2="204.51" stroke="#000" stroke-width="0.90"/>
<line x1="54.00" y1="201.54" x2="60.80" y2="201.54" stroke="#000" stroke-width="0.90"/>
<line x1="54.00" y1="199.11" x2="60.80" y2="199.11" stroke="#000" stroke-width="0.90"/>
<line x1="54.00" y1="197.05" x2="60.80" y2="197.05" stroke="#000" stroke-width="0.90"/>
<line x1="54.00" y1="195.27" x2="60.80" y2="195.27" stroke="#000" stroke-width="0.90"/>
<line x1="54.00" y1="193.70" x2="60.80" y2="193.70" stroke="#000" stroke-width="0.90"/>
<line x1="54.00" y1="222.98" x2="67.70" y2="222.98" stroke="#000" stroke-width="1.00"/>
<line x1="54.00" y1="244.43" x2="60.80" y2="244.43" stroke="#000" stroke-width="0.90"/>
<line x1="54.00" y1="239.03" x2="60.80" y2="239.03" stroke="#000" stroke-width="0.90"/>
<line x1="54.00" y1="235.19" x2="60.80" y2="235.19" stroke="#000" stroke-width="0.90"/>
<line x1="54.00" y1="232.22" x2="60.80" y2="232.22" stroke="#000" stroke-width="0.90"/>
<line x1="54.00" y1="229.79" x2="60.80" y2="229.79" stroke="#000" stroke-width="0.90"/>
<line x1="54.00" y1="227.74" x2="60.80" y2="227.74" stroke="#000" stroke-width="0.90"/>
<line x1="54.00" y1="225.96" x2="60.80" y2="225.96" stroke="#000" stroke-width="0.90"/>
<line x1="54.00" y1="224.39" x2="60.80" y2="224.39" stroke="#000" stroke-width="0.90"/>
<line x1="54.00" y1="253.67" x2="67.70" y2="253.67" stroke="#000" stroke-width="1.00"/>
<line x1="54.00" y1="275.11" x2="60.80" y2="275.11" stroke="#000" stroke-width="0.90"/>
<line x1="54.00" y1="269.71" x2="60.80" y2="269.71" stroke="#000" stroke-width="0.90"/>
<line x1="54.00" y1="265.88" x2="60.80" y2="265.88" stroke="#000" stroke-width="0.90"/>
<line x1="54.00" y1="262.90" x2="60.80" y2="262.90" stroke="#000" stroke-width="0.90"/>
<line x1="54.00" y1="260.47" x2="60.80" y2="260.47" stroke="#000" stroke-width="0.90"/>
<line x1="54.00" y1="258.42" x2="60.80" y2="258.42" stroke="#000" stroke-width="0.90"/>
<line x1="54.00" y1="256.64" x2="60.80" y2="256.64" stroke="#000" stroke-width="0.90"/>
<line x1="54.00" y1="255.07" x2="60.80" y2="255.07" stroke="#000" stroke-width="0.90"/>
<line x1="54.00" y1="308.14" x2="60.80" y2="308.14" stroke="#000" stroke-width="0.90"/>
<line x1="54.00" y1="304.21" x2="60.80" y2="304.21" stroke="#000" stroke-width="0.90"/>
<line x1="54.00" y1="301.43" x2="60.80" y2="301.43" stroke="#000" stroke-width="0.90"/>
<line x1="54.00" y1="299.27" x2="60.80" y2="299.27" stroke="#000" stroke-width="0.90"/>
<line x1="54.00" y1="297.50" x2="60.80" y2="297.50" stroke="#000" stroke-width="0.90"/>
<line x1="54.00" y1="296.01" x2="60.80" y2="296.01" stroke="#000" stroke-width="0.90"/>
<line x1="54.00" y1="294.71" x2="60.80" y2="294.71" stroke="#000" stroke-width="0.90"/>
<line x1="54.00" y1="293.57" x2="60.80" y2="293.57" stroke="#000" stroke-width="0.90"/>
<line x1="54.00" y1="314.86" x2="67.70" y2="314.86" stroke="#000" stroke-width="1.00"/>
<line x1="54.00" y1="330.45" x2="60.80" y2="330.45" stroke="#000" stroke-width="0.90"/>
<line x1="54.00" y1="326.52" x2="60.80" y2="326.52" stroke="#000" stroke-width="0.90"/>
<line x1="54.00" y1="323.74" x2="60.80" y2="323.74" stroke="#000" stroke-width="0.90"/>
<line x1="54.00" y1="321.57" x2="60.80" y2="321.57" stroke="#000" stroke-width="0.90"/>
<line x1="54.00" y1="319.81" x2="60.80" y2="319.81" stroke="#000" stroke-width="0.90"/>
<line x1="54.00" y1="318.31" x2="60.80" y2="318.31" stroke="#000" stroke-width="0.90"/>
<line x1="54.00" y1="317.02" x2="60.80" y2="317.02" stroke="#000" stroke-width="0.90"/>
<line x1="54.00" y1="315.88" x2="60.80" y2="315.88" stroke="#000" stroke-width="0.90"/>
<line x1="54.00" y1="337.17" x2="67.70" y2="337.17" stroke="#000" stroke-width="1.00"/>
<line x1="54.00" y1="352.76" x2="60.80" y2="352.76" stroke="#000" stroke-width="0.90"/>
<line x1="54.00" y1="348.83" x2="60.80" y2="348.83" stroke="#000" stroke-width="0.90"/>
<line x1="54.00" y1="346.04" x2="60.80" y2="346.04" stroke="#000" stroke-width="0.90"/>
<line x1="54.00" y1="343.88" x2="60.80" y2="343.88" stroke="#000" stroke-width="0.90"/>
<line x1="54.00" y1="342.12" x2="60.80" y2="342.12" stroke="#000" stroke-width="0.90"/>
<line x1="54.00" y1="340.62" x2="60.80" y2="340.62" stroke="#000" stroke-width="0.90"/>
<line x1="54.00" y1="339.33" x2="60.80" y2="339.33" stroke="#000" stroke-width="0.90"/>
<line x1="54.00" y1="338.19" x2="60.80" y2="338.19" stroke="#000" stroke-width="0.90"/>
<line x1="54.00" y1="359.48" x2="67.70" y2="359.48" stroke="#000" stroke-width="1.00"/>
<line x1="54.00" y1="375.07" x2="60.80" y2="375.07" stroke="#000" stroke-width="0.90"/>
<line x1="54.00" y1="371.14" x2="60.80" y2="371.14" stroke="#000" stroke-width="0.90"/>
<line x1="54.00" y1="368.35" x2="60.80" y2="368.35" stroke="#000" stroke-width="0.90"/>
<line x1="54.00" y1="366.19" x2="60.80" y2="366.19" stroke="#000" stroke-width="0.90"/>
<line x1="54.00" y1="364.42" x2="60.80" y2="364.42" stroke="#000" stroke-width="0.90"/>
<line x1="54.00" y1="362.93" x2="60.80" y2="362.93" stroke="#000" stroke-width="0.90"/>
<line x1="54.00" y1="361.64" x2="60.80" y2="361.64" stroke="#000" stroke-width="0.90"/>
<line x1="54.00" y1="360.50" x2="60.80" y2="360.50" stroke="#000" stroke-width="0.90"/>
<line x1="54.00" y1="381.78" x2="67.70" y2="381.78" stroke="#000" stroke-width="1.00"/>
<line x1="54.00" y1="397.38" x2="60.80" y2="397.38" stroke="#000" stroke-width="0.90"/>
<line x1="54.00" y1="393.45" x2="60.80" y2="393.45" stroke="#000" stroke-width="0.90"/>
<line x1="54.00" y1="390.66" x2="60.80" y2="390.66" stroke="#000" stroke-width="0.90"/>
<line x1="54.00" y1="388.50" x2="60.80" y2="388.50" stroke="#000" stroke-width="0.90"/>
<line x1="54.00" y1="386.73" x2="60.80" y2="386.73" stroke="#000" stroke-width="0.90"/>
<line x1="54.00" y1="385.24" x2="60.80" y2="385.24" stroke="#000" stroke-width="0.90"/>
<line x1="54.00" y1="383.95" x2="60.80" y2="383.95" stroke="#000" stroke-width="0.90"/>
<line x1="54.00" y1="382.80" x2="60.80" y2="382.80" stroke="#000" stroke-width="0.90"/>
<line x1="54.00" y1="404.09" x2="67.70" y2="404.09" stroke="#000" stroke-width="1.00"/>
<line x1="54.00" y1="419.68" x2="60.80" y2="419.68" stroke="#000" stroke-width="0.90"/>
<line x1="54.00" y1="415.76" x2="60.80" y2="415.76" stroke="#000" stroke-width="0.90"/>
<line x1="54.00" y1="412.97" x2="60.80" y2="412.97" stroke="#000" stroke-width="0.90"/>
<line x1="54.00" y1="410.81" x2="60.80" y2="410.81" stroke="#000" stroke-width="0.90"/>
<line x1="54.00" y1="409.04" x2="60.80" y2="409.04" stroke="#000" stroke-width="0.90"/>
<line x1="54.00" y1="407.55" x2="60.80" y2="407.55" stroke="#000" stroke-width="0.90"/>
<line x1="54.00" y1="406.25" x2="60.80" y2="406.25" stroke="#000" stroke-width="0.90"/>
<line x1="54.00" y1="405.11" x2="60.80" y2="405.11" stroke="#000" stroke-width="0.90"/>
<line x1="410.60" y1="25.75" x2="403.80" y2="25.75" stroke="#000" stroke-width="0.90"/>
<line x1="410.60" y1="21.33" x2="403.80" y2="21.33" stroke="#000" stroke-width="0.90"/>
<line x1="410.60" y1="18.19" x2="403.80" y2="18.19" stroke="#000" stroke-width="0.90"/>
<line x1="410.60" y1="15.76" x2="403.80" y2="15.76" stroke="#000" stroke-width="0.90"/>
<line x1="410.60" y1="13.77" x2="403.80" y2="13.77" stroke="#000" stroke-width="0.90"/>
<line x1="410.60" y1="12.09" x2="403.80" y2="12.09" stroke="#000" stroke-width="0.90"/>
<line x1="410.60" y1="10.63" x2="403.80" y2="10.63" stroke="#000" stroke-width="0.90"/>
<line x1="410.60" y1="9.35" x2="403.80" y2="9.35" stroke="#000" stroke-width="0.90"/>
<line x1="410.60" y1="33.30" x2="396.90" y2="33.30" stroke="#000" stroke-width="1.00"/>
<line x1="410.60" y1="50.85" x2="403.80" y2="50.85" stroke="#000" stroke-width="0.90"/>
<line x1="410.60" y1="46.43" x2="403.80" y2="46.43" stroke="#000" stroke-width="0.90"/>
<line x1="410.60" y1="43.29" x2="403.80" y2="43.29" stroke="#000" stroke-width="0.90"/>
<line x1="410.60" y1="40.86" x2="403.80" y2="40.86" stroke="#000" stroke-width="0.90"/>
<line x1="410.60" y1="38.87" x2="403.80" y2="38.87" stroke="#000" stroke-width="0.90"/>
<line x1="410.60" y1="37.19" x2="403.80" y2="37.19" stroke="#000" stroke-width="0.90"/>
<line x1="410.60" y1="35.74" x2="403.80" y2="35.74" stroke="#000" stroke-width="0.90"/>
<line x1="410.60" y1="34.45" x2="403.80" y2="34.45" stroke="#000" stroke-width="0.90"/>
<line x1="410.60" y1="58.41" x2="396.90" y2="58.41" stroke="#000" stroke-width="1.00"/>
<line x1="410.60" y1="75.96" x2="403.80" y2="75.96" stroke="#000" stroke-width="0.90"/>
<line x1="410.60" y1="71.54" x2="403.80" y2="71.54" stroke="#000" stroke-width="0.90"/>
<line x1="410.60" y1="68.40" x2="403.80" y2="68.40" stroke="#000" stroke-width="0.90"/>
<line x1="410.60" y1="65.97" x2="403.80" y2="65.97" stroke="#000" stroke-width="0.90"/>
<line x1="410.60" y1="63.98" x2="403.80" y2="63.98" stroke="#000" stroke-width="0.90"/>
<line x1="410.60" y1="62.30" x2="403.80" y2="62.30" stroke="#000" stroke-width="0.90"/>
<line x1="410.60" y1="60.84" x2="403.80" y2="60.84" stroke="#000" stroke-width="0.90"/>
<line x1="410.60" y1="59.56" x2="403.80" y2="59.56" stroke="#000" stroke-width="0.90"/>
<line x1="410.60" y1="83.51" x2="396.90" y2="83.51" stroke="#000" stroke-width="1.00"/>
<line x1="410.60" y1="101.06" x2="403.80" y2="101.06" stroke="#000" stroke-width="0.90"/>
<line x1="410.60" y1="96.64" x2="403.80" y2="96.64" stroke="#000" stroke-width="0.90"/>
<line x1="410.60" y1="93.50" x2="403.80" y2="93.50" stroke="#000" stroke-width="0.90"/>
<line x1="410.60" y1="91.07" x2="403.80" y2="91.07" stroke="#000" stroke-width="0.90"/>
<line x1="410.60" y1="89.08" x2="403.80" y2="89.08" stroke="#000" stroke-width="0.90"/>
<line x1="410.60" y1="87.40" x2="403.80" y2="87.40" stroke="#000" stroke-width="0.90"/>
<line x1="410.60" y1="85.95" x2="403.80" y2="85.95" stroke="#000" stroke-width="0.90"/>
<line x1="410.60" y1="84.66" x2="403.80" y2="84.66" stroke="#000" stroke-width="0.90"/>
<line x1="410.60" y1="108.62" x2="396.90" y2="108.62" stroke="#000" stroke-width="1.00"/>
<line x1="410.60" y1="126.17" x2="403.80" y2="126.17" stroke="#000" stroke-width="0.90"/>
<line x1="410.60" y1="121.74" x2="403.80" y2="121.74" stroke="#000" stroke-width="0.90"/>
<line x1="410.60" y1="118.61" x2="403.80" y2="118.61" stroke="#000" stroke-width="0.90"/>
<line x1="410.60" y1="116.18" x2="403.80" y2="116.18" stroke="#000" stroke-width="0.90"/>
<line x1="410.60" y1="114.19" x2="403.80" y2="114.19" stroke="#000" stroke-width="0.90"/>
<line x1="410.60" y1="112.51" x2="403.80" y2="112.51" stroke="#000" stroke-width="0.90"/>
<line x1="410.60" y1="111.05" x2="403.80" y2="111.05" stroke="#000" stroke-width="0.90"/>
<line x1="410.60" y1="109.77" x2="403.80" y2="109.77" stroke="#000" stroke-width="0.90"/>
<line x1="410.60" y1="133.72" x2="396.90" y2="133.72" stroke="#000" stroke-width="1.00"/>
<line x1="410.60" y1="151.27" x2="403.80" y2="151.27" stroke="#000" stroke-width="0.90"/>
<line x1="410.60" y1="146.85" x2="403.80" y2="146.85" stroke="#000" stroke-width="0.90"/>
<line x1="410.60" y1="143.71" x2="403.80" y2="143.71" stroke="#000" stroke-width="0.90"/>
<line x1="410.60" y1="141.28" x2="403.80" y2="141.28" stroke="#000" stroke-width="0.90"/>
<line x1="410.60" y1="139.29" x2="403.80" y2="139.29" stroke="#000" stroke-width="0.90"/>
<line x1="410.60" y1="137.61" x2="403.80" y2="137.61" stroke="#000" stroke-width="0.90"/>
<line x1="410.60" y1="136.16" x2="403.80" y2="136.16" stroke="#000" stroke-width="0.90"/>
<line x1="410.60" y1="134.87" x2="403.80" y2="134.87" stroke="#000" stroke-width="0.90"/>
<line x1="410.60" y1="158.83" x2="396.90" y2="158.83" stroke="#000" stroke-width="1.00"/>
<line x1="410.60" y1="176.37" x2="403.80" y2="176.37" stroke="#000" stroke-width="0.90"/>
<line x1="410.60" y1="171.95" x2="403.80" y2="171.95" stroke="#000" stroke-width="0.90"/>
<line x1="410.60" y1="168.82" x2="403.80" y2="168.82" stroke="#000" stroke-width="0.90"/>
<line x1="410.60" y1="166.38" x2="403.80" y2="166.38" stroke="#000" stroke-width="0.90"/>
<line x1="410.60" y1="164.40" x2="403.80" y2="164.40" stroke="#000" stroke-width="0.90"/>
<line x1="410.60" y1="162.72" x2="403.80" y2="162.72" stroke="#000" stroke-width="0.90"/>
<line x1="410.60" y1="161.26" x2="403.80" y2="161.26" stroke="#000" stroke-width="0.90"/>
<line x1="410.60" y1="159.98" x2="403.80" y2="159.98" stroke="#000" stroke-width="0.90"/>
<line x1="410.60" y1="183.93" x2="396.90" y2="183.93" stroke="#000" stroke-width="1.00"/>
<line x1="410.60" y1="201.48" x2="403.80" y2="201.48" stroke="#000" stroke-width="0.90"/>
<line x1="410.60" y1="197.06" x2="403.80" y2="197.06" stroke="#000" stroke-width="0.90"/>
<line x1="410.60" y1="193.92" x2="403.80" y2="193.92" stroke="#000" stroke-width="0.90"/>
<line x1="410.60" y1="191.49" x2="403.80" y2="191.49" stroke="#000" stroke-width="0.90"/>
<line x1="410.60" y1="189.50" x2="403.80" y2="189.50" stroke="#000" stroke-width="0.90"/>
<line x1="410.60" y1="187.82" x2="403.80" y2="187.82" stroke="#000" stroke-width="0.90"/>
<line x1="410.60" y1="186.36" x2="403.80" y2="186.36" stroke="#000" stroke-width="0.90"/>
<line x1="410.60" y1="185.08" x2="403.80" y2="185.08" stroke="#000" stroke-width="0.90"/>
<line x1="410.60" y1="209.04" x2="396.90" y2="209.04" stroke="#000" stroke-width="1.00"/>
<line x1="410.60" y1="226.58" x2="403.80" y2="226.58" stroke="#000" stroke-width="0.90"/>
<line x1="410.60" y1="222.16" x2="403.80" y2="222.16" stroke="#000" stroke-width="0.90"/>
<line x1="410.60" y1="219.03" x2="403.80" y2="219.03" stroke="#000" stroke-width="0.90"/>
<line x1="410.60" y1="216.59" x2="403.80" y2="216.59" stroke="#000" stroke-width="0.90"/>
<line x1="410.60" y1="214.61" x2="403.80" y2="214.61" stroke="#000" stroke-width="0.90"/>
<line x1="410.60" y1="212.93" x2="403.80" y2="212.93" stroke="#000" stroke-width="0.90"/>
<line x1="410.60" y1="211.47" x2="403.80" y2="211.47" stroke="#000" stroke-width="0.90"/>
<line x1="410.60" y1="210.19" x2="403.80" y2="210.19" stroke="#000" stroke-width="0.90"/>
<line x1="410.60" y1="234.14" x2="396.90" y2="234.14" stroke="#000" stroke-width="1.00"/>
<line x1="410.60" y1="251.69" x2="403.80" y2="251.69" stroke="#000" stroke-width="0.90"/>
<line x1="410.60" y1="247.27" x2="403.80" y2="247.27" stroke="#000" stroke-width="0.90"/>
<line x1="410.60" y1="244.13" x2="403.80" y2="244.13" stroke="#000" stroke-width="0.90"/>
<line x1="410.60" y1="241.70" x2="403.80" y2="241.70" stroke="#000" stroke-width="0.90"/>
<line x1="410.60" y1="239.71" x2="403.80" y2="239.71" stroke="#000" stroke-width="0.90"/>
<line x1="410.60" y1="238.03" x2="403.80" y2="238.03" stroke="#000" stroke-width="0.90"/>
<line x1="410.60" y1="236.57" x2="403.80" y2="236.57" stroke="#000" stroke-width="0.90"/>
<line x1="410.60" y1="235.29" x2="403.80" y2="235.29" stroke="#000" stroke-width="0.90"/>
<line x1="410.60" y1="259.25" x2="396.90" y2="259.25" stroke="#000" stroke-width="1.00"/>
<line x1="410.60" y1="276.79" x2="403.80" y2="276.79" stroke="#000" stroke-width="0.90"/>
<line x1="410.60" y1="272.37" x2="403.80" y2="272.37" stroke="#000" stroke-width="0.90"/>
<line x1="410.60" y1="269.24" x2="403.80" y2="269.24" stroke="#000" stroke-width="0.90"/>
<line x1="410.60" y1="266.80" x2="403.80" y2="266.80" stroke="#000" stroke-width="0.90"/>
<line x1="410.60" y1="264.81" x2="403.80" y2="264.81" stroke="#000" stroke-width="0.90"/>
<line x1="410.60" y1="263.13" x2="403.80" y2="263.13" stroke="#000" stroke-width="0.90"/>
<line x1="410.60" y1="261.68" x2="403.80" y2="261.68" stroke="#000" stroke-width="0.90"/>
<line x1="410.60" y1="260.39" x2="403.80" y2="260.39" stroke="#000" stroke-width="0.90"/>
<line x1="410.60" y1="308.14" x2="403.80" y2="308.14" stroke="#000" stroke-width="0.90"/>
<line x1="410.60" y1="304.21" x2="403.80" y2="304.21" stroke="#000" stroke-width="0.90"/>
<line x1="410.60" y1="301.43" x2="403.80" y2="301.43" stroke="#000" stroke-width="0.90"/>
<line x1="410.60" y1="299.27" x2="403.80" y2="299.27" stroke="#000" stroke-width="0.90"/>
<line x1="410.60" y1="297.50" x2="403.80" y2="297.50" stroke="#000" stroke-width="0.90"/>
<line x1="410.60" y1="296.01" x2="403.80" y2="296.01" stroke="#000" stroke-width="0.90"/>
<line x1="410.60" y1="294.71" x2="403.80" y2="294.71" stroke="#000" stroke-width="0.90"/>
<line x1="410.60" y1="293.57" x2="403.80" y2="293.57" stroke="#000" stroke-width="0.90"/>
<line x1="410.60" y1="314.86" x2="396.90" y2="314.86" stroke="#000" stroke-width="1.00"/>
<line x1="410.60" y1="330.45" x2="403.80" y2="330.45" stroke="#000" stroke-width="0.90"/>
<line x1="410.60" y1="326.52" x2="403.80" y2="326.52" stroke="#000" stroke-width="0.90"/>
<line x1="410.60" y1="323.74" x2="403.80" y2="323.74" stroke="#000" stroke-width="0.90"/>
<line x1="410.60" y1="321.57" x2="403.80" y2="321.57" stroke="#000" stroke-width="0.90"/>
<line x1="410.60" y1="319.81" x2="403.80" y2="319.81" stroke="#000" stroke-width="0.90"/>
<line x1="410.60" y1="318.31" x2="403.80" y2="318.31" stroke="#000" stroke-width="0.90"/>
<line x1="410.60" y1="317.02" x2="403.80" y2="317.02" stroke="#000" stroke-width="0.90"/>
<line x1="410.60" y1="315.88" x2="403.80" y2="315.88" stroke="#000" stroke-width="0.90"/>
<line x1="410.60" y1="337.17" x2="396.90" y2="337.17" stroke="#000" stroke-width="1.00"/>
<line x1="410.60" y1="352.76" x2="403.80" y2="352.76" stroke="#000" stroke-width="0.90"/>
<line x1="410.60" y1="348.83" x2="403.80" y2="348.83" stroke="#000" stroke-width="0.90"/>
<line x1="410.60" y1="346.04" x2="403.80" y2="346.04" stroke="#000" stroke-width="0.90"/>
<line x1="410.60" y1="343.88" x2="403.80" y2="343.88" stroke="#000" stroke-width="0.90"/>
<line x1="410.60" y1="342.12" x2="403.80" y2="342.12" stroke="#000" stroke-width="0.90"/>
<line x1="410.60" y1="340.62" x2="403.80" y2="340.62" stroke="#000" stroke-width="0.90"/>
<line x1="410.60" y1="339.33" x2="403.80" y2="339.33" stroke="#000" stroke-width="0.90"/>
<line x1="410.60" y1="338.19" x2="403.80" y2="338.19" stroke="#000" stroke-width="0.90"/>
<line x1="410.60" y1="359.48" x2="396.90" y2="359.48" stroke="#000" stroke-width="1.00"/>
<line x1="410.60" y1="375.07" x2="403.80" y2="375.07" stroke="#000" stroke-width="0.90"/>
<line x1="410.60" y1="371.14" x2="403.80" y2="371.14" stroke="#000" stroke-width="0.90"/>
<line x1="410.60" y1="368.35" x2="403.80" y2="368.35" stroke="#000" stroke-width="0.90"/>
<line x1="410.60" y1="366.19" x2="403.80" y2="366.19" stroke="#000" stroke-width="0.90"/>
<line x1="410.60" y1="364.42" x2="403.80" y2="364.42" stroke="#000" stroke-width="0.90"/>
<line x1="410.60" y1="362.93" x2="403.80" y2="362.93" stroke="#000" stroke-width="0.90"/>
<line x1="410.60" y1="361.64" x2="403.80" y2="361.64" stroke="#000" stroke-width="0.90"/>
<line x1="410.60" y1="360.50" x2="403.80" y2="360.50" stroke="#000" stroke-width="0.90"/>
<line x1="410.60" y1="381.78" x2="396.90" y2="381.78" stroke="#000" stroke-width="1.00"/>
<line x1="410.60" y1="397.38" x2="403.80" y2="397.38" stroke="#000" stroke-width="0.90"/>
<line x1="410.60" y1="393.45" x2="403.80" y2="393.45" stroke="#000" stroke-width="0.90"/>
<line x1="410.60" y1="390.66" x2="403.80" y2="390.66" stroke="#000" stroke-width="0.90"/>
<line x1="410.60" y1="388.50" x2="403.80" y2="388.50" stroke="#000" stroke-width="0.90"/>
<line x1="410.60" y1="386.73" x2="403.80" y2="386.73" stroke="#000" stroke-width="0.90"/>
<line x1="410.60" y1="385.24" x2="403.80" y2="385.24" stroke="#000" stroke-width="0.90"/>
<line x1="410.60" y1="383.95" x2="403.80" y2="383.95" stroke="#000" stroke-width="0.90"/>
<line x1="410.60" y1="382.80" x2="403.80" y2="382.80" stroke="#000" stroke-width="0.90"/>
<line x1="410.60" y1="404.09" x2="396.90" y2="404.09" stroke="#000" stroke-width="1.00"/>
<line x1="410.60" y1="419.68" x2="403.80" y2="419.68" stroke="#000" stroke-width="0.90"/>
<line x1="410.60" y1="415.76" x2="403.80" y2="415.76" stroke="#000" stroke-width="0.90"/>
<line x1="410.60" y1="412.97" x2="403.80" y2="412.97" stroke="#000" stroke-width="0.90"/>
<line x1="410.60" y1="410.81" x2="403.80" y2="410.81" stroke="#000" stroke-width="0.90"/>
<line x1="410.60" y1="409.04" x2="403.80" y2="409.04" stroke="#000" stroke-width="0.90"/>
<line x1="410.60" y1="407.55" x2="403.80" y2="407.55" stroke="#000" stroke-width="0.90"/>
<line x1="410.60" y1="406.25" x2="403.80" y2="406.25" stroke="#000" stroke-width="0.90"/>
<line x1="410.60" y1="405.11" x2="403.80" y2="405.11" stroke="#000" stroke-width="0.90"/>
<line x1="107.67" y1="8.20" x2="107.67" y2="15.00" stroke="#000" stroke-width="1.00"/>
<line x1="107.67" y1="284.35" x2="107.67" y2="277.55" stroke="#000" stroke-width="1.00"/>
<line x1="139.07" y1="8.20" x2="139.07" y2="15.00" stroke="#000" stroke-width="1.00"/>
<line x1="139.07" y1="284.35" x2="139.07" y2="277.55" stroke="#000" stroke-width="1.00"/>
<line x1="161.35" y1="8.20" x2="161.35" y2="15.00" stroke="#000" stroke-width="1.00"/>
<line x1="161.35" y1="284.35" x2="161.35" y2="277.55" stroke="#000" stroke-width="1.00"/>
<line x1="178.63" y1="8.20" x2="178.63" y2="15.00" stroke="#000" stroke-width="1.00"/>
<line x1="178.63" y1="284.35" x2="178.63" y2="277.55" stroke="#000" stroke-width="1.00"/>
<line x1="192.74" y1="8.20" x2="192.74" y2="15.00" stroke="#000" stroke-width="1.00"/>
<line x1="192.74" y1="284.35" x2="192.74" y2="277.55" stroke="#000" stroke-width="1.00"/>
<line x1="204.68" y1="8.20" x2="204.68" y2="15.00" stroke="#000" stroke-width="1.00"/>
<line x1="204.68" y1="284.35" x2="204.68" y2="277.55" stroke="#000" stroke-width="1.00"/>
<line x1="215.02" y1="8.20" x2="215.02" y2="15.00" stroke="#000" stroke-width="1.00"/>
<line x1="215.02" y1="284.35" x2="215.02" y2="277.55" stroke="#000" stroke-width="1.00"/>
<line x1="224.14" y1="8.20" x2="224.14" y2="15.00" stroke="#000" stroke-width="1.00"/>
<line x1="224.14" y1="284.35" x2="224.14" y2="277.55" stroke="#000" stroke-width="1.00"/>
<line x1="232.30" y1="8.20" x2="232.30" y2="21.90" stroke="#000" stroke-width="1.00"/>
<line x1="232.30" y1="284.35" x2="232.30" y2="270.65" stroke="#000" stroke-width="1.00"/>
<line x1="285.97" y1="8.20" x2="285.97" y2="15.00" stroke="#000" stroke-width="1.00"/>
<line x1="285.97" y1="284.35" x2="285.97" y2="277.55" stroke="#000" stroke-width="1.00"/>
<line x1="317.37" y1="8.20" x2="317.37" y2="15.00" stroke="#000" stroke-width="1.00"/>
<line x1="317.37" y1="284.35" x2="317.37" y2="277.55" stroke="#000" stroke-width="1.00"/>
<line x1="339.65" y1="8.20" x2="339.65" y2="15.00" stroke="#000" stroke-width="1.00"/>
<line x1="339.65" y1="284.35" x2="339.65" y2="277.55" stroke="#000" stroke-width="1.00"/>
<line x1="356.93" y1="8.20" x2="356.93" y2="15.00" stroke="#000" stroke-width="1.00"/>
<line x1="356.93" y1="284.35" x2="356.93" y2="277.55" stroke="#000" stroke-width="1.00"/>
<line x1="371.04" y1="8.20" x2="371.04" y2="15.00" stroke="#000" stroke-width="1.00"/>
<line x1="371.04" y1="284.35" x2="371.04" y2="277.55" stroke="#000" stroke-width="1.00"/>
<line x1="382.98" y1="8.20" x2="382.98" y2="15.00" stroke="#000" stroke-width="1.00"/>
<line x1="382.98" y1="284.35" x2="382.98" y2="277.55" stroke="#000" stroke-width="1.00"/>
<line x1="393.32" y1="8.20" x2="393.32" y2="15.00" stroke="#000" stroke-width="1.00"/>
<line x1="393.32" y1="284.35" x2="393.32" y2="277.55" stroke="#000" stroke-width="1.00"/>
<line x1="402.44" y1="8.20" x2="402.44" y2="15.00" stroke="#000" stroke-width="1.00"/>
<line x1="402.44" y1="284.35" x2="402.44" y2="277.55" stroke="#000" stroke-width="1.00"/>
<line x1="107.67" y1="292.55" x2="107.67" y2="299.35" stroke="#000" stroke-width="1.00"/>
<line x1="107.67" y1="426.40" x2="107.67" y2="419.60" stroke="#000" stroke-width="1.00"/>
<line x1="139.07" y1="292.55" x2="139.07" y2="299.35" stroke="#000" stroke-width="1.00"/>
<line x1="139.07" y1="426.40" x2="139.07" y2="419.60" stroke="#000" stroke-width="1.00"/>
<line x1="161.35" y1="292.55" x2="161.35" y2="299.35" stroke="#000" stroke-width="1.00"/>
<line x1="161.35" y1="426.40" x2="161.35" y2="419.60" stroke="#000" stroke-width="1.00"/>
<line x1="178.63" y1="292.55" x2="178.63" y2="299.35" stroke="#000" stroke-width="1.00"/>
<line x1="178.63" y1="426.40" x2="178.63" y2="419.60" stroke="#000" stroke-width="1.00"/>
<line x1="192.74" y1="292.55" x2="192.74" y2="299.35" stroke="#000" stroke-width="1.00"/>
<line x1="192.74" y1="426.40" x2="192.74" y2="419.60" stroke="#000" stroke-width="1.00"/>
<line x1="204.68" y1="292.55" x2="204.68" y2="299.35" stroke="#000" stroke-width="1.00"/>
<line x1="204.68" y1="426.40" x2="204.68" y2="419.60" stroke="#000" stroke-width="1.00"/>
<line x1="215.02" y1="292.55" x2="215.02" y2="299.35" stroke="#000" stroke-width="1.00"/>
<line x1="215.02" y1="426.40" x2="215.02" y2="419.60" stroke="#000" stroke-width="1.00"/>
<line x1="224.14" y1="292.55" x2="224.14" y2="299.35" stroke="#000" stroke-width="1.00"/>
<line x1="224.14" y1="426.40" x2="224.14" y2="419.60" stroke="#000" stroke-width="1.00"/>
<line x1="232.30" y1="292.55" x2="232.30" y2="306.25" stroke="#000" stroke-width="1.00"/>
<line x1="232.30" y1="426.40" x2="232.30" y2="412.70" stroke="#000" stroke-width="1.00"/>
<line x1="285.97" y1="292.55" x2="285.97" y2="299.35" stroke="#000" stroke-width="1.00"/>
<line x1="285.97" y1="426.40" x2="285.97" y2="419.60" stroke="#000" stroke-width="1.00"/>
<line x1="317.37" y1="292.55" x2="317.37" y2="299.35" stroke="#000" stroke-width="1.00"/>
<line x1="317.37" y1="426.40" x2="317.37" y2="419.60" stroke="#000" stroke-width="1.00"/>
<line x1="339.65" y1="292.55" x2="339.65" y2="299.35" stroke="#000" stroke-width="1.00"/>
<line x1="339.65" y1="426.40" x2="339.65" y2="419.60" stroke="#000" stroke-width="1.00"/>
<line x1="356.93" y1="292.55" x2="356.93" y2="299.35" stroke="#000" stroke-width="1.00"/>
<line x1="356.93" y1="426.40" x2="356.93" y2="419.60" stroke="#000" stroke-width="1.00"/>
<line x1="371.04" y1="292.55" x2="371.04" y2="299.35" stroke="#000" stroke-width="1.00"/>
<line x1="371.04" y1="426.40" x2="371.04" y2="419.60" stroke="#000" stroke-width="1.00"/>
<line x1="382.98" y1="292.55" x2="382.98" y2="299.35" stroke="#000" stroke-width="1.00"/>
<line x1="382.98" y1="426.40" x2="382.98" y2="419.60" stroke="#000" stroke-width="1.00"/>
<line x1="393.32" y1="292.55" x2="393.32" y2="299.35" stroke="#000" stroke-width="1.00"/>
<line x1="393.32" y1="426.40" x2="393.32" y2="419.60" stroke="#000" stroke-width="1.00"/>
<line x1="402.44" y1="292.55" x2="402.44" y2="299.35" stroke="#000" stroke-width="1.00"/>
<line x1="402.44" y1="426.40" x2="402.44" y2="419.60" stroke="#000" stroke-width="1.00"/>
<path d="M54.00 8.20 V284.35 H410.60 V8.20" stroke="#111" stroke-width="1.15" style="fill:none" stroke-linecap="square"/>
<path d="M54.00 292.55 V426.40 H410.60 V292.55" stroke="#111" stroke-width="1.15" style="fill:none" stroke-linecap="square"/>
<line x1="53.50" y1="8.10" x2="411.10" y2="8.10" stroke="#7c7c7c" stroke-width="1.3"/>
<line x1="53.50" y1="292.55" x2="411.10" y2="292.55" stroke="#111" stroke-width="1.15"/>
</g>
<g fill="#000">
<text x="46.9" y="13.0" font-size="13.7" text-anchor="end">10<tspan font-size="7.6" dy="-6.5">1</tspan></text>
<text x="46.9" y="43.7" font-size="13.7" text-anchor="end">10<tspan font-size="7.6" dy="-6.5">0</tspan></text>
<text x="46.9" y="74.4" font-size="13.7" text-anchor="end">10<tspan font-size="7.6" dy="-6.5">-1</tspan></text>
<text x="46.9" y="105.1" font-size="13.7" text-anchor="end">10<tspan font-size="7.6" dy="-6.5">-2</tspan></text>
<text x="46.9" y="135.7" font-size="13.7" text-anchor="end">10<tspan font-size="7.6" dy="-6.5">-3</tspan></text>
<text x="46.9" y="166.4" font-size="13.7" text-anchor="end">10<tspan font-size="7.6" dy="-6.5">-4</tspan></text>
<text x="46.9" y="197.1" font-size="13.7" text-anchor="end">10<tspan font-size="7.6" dy="-6.5">-5</tspan></text>
<text x="46.9" y="227.8" font-size="13.7" text-anchor="end">10<tspan font-size="7.6" dy="-6.5">-6</tspan></text>
<text x="46.9" y="258.5" font-size="13.7" text-anchor="end">10<tspan font-size="7.6" dy="-6.5">-7</tspan></text>
<text x="46.9" y="289.2" font-size="13.7" text-anchor="end">10<tspan font-size="7.6" dy="-6.5">-8</tspan></text>
<text x="46.9" y="319.7" font-size="13.7" text-anchor="end">10<tspan font-size="7.6" dy="-6.5">9</tspan></text>
<text x="46.9" y="342.0" font-size="13.7" text-anchor="end">10<tspan font-size="7.6" dy="-6.5">8</tspan></text>
<text x="46.9" y="364.3" font-size="13.7" text-anchor="end">10<tspan font-size="7.6" dy="-6.5">7</tspan></text>
<text x="46.9" y="386.6" font-size="13.7" text-anchor="end">10<tspan font-size="7.6" dy="-6.5">6</tspan></text>
<text x="46.9" y="408.9" font-size="13.7" text-anchor="end">10<tspan font-size="7.6" dy="-6.5">5</tspan></text>
<text x="46.9" y="431.2" font-size="13.7" text-anchor="end">10<tspan font-size="7.6" dy="-6.5">4</tspan></text>
<text x="417.6" y="13.0" font-size="13.7" text-anchor="start">10<tspan font-size="7.6" dy="-6.5">19</tspan></text>
<text x="417.6" y="63.2" font-size="13.7" text-anchor="start">10<tspan font-size="7.6" dy="-6.5">17</tspan></text>
<text x="417.6" y="113.4" font-size="13.7" text-anchor="start">10<tspan font-size="7.6" dy="-6.5">15</tspan></text>
<text x="417.6" y="163.6" font-size="13.7" text-anchor="start">10<tspan font-size="7.6" dy="-6.5">13</tspan></text>
<text x="417.6" y="213.8" font-size="13.7" text-anchor="start">10<tspan font-size="7.6" dy="-6.5">11</tspan></text>
<text x="417.6" y="264.0" font-size="13.7" text-anchor="start">10<tspan font-size="7.6" dy="-6.5">9</tspan></text>
<text x="54.2" y="444.6" font-size="13.7" text-anchor="middle">10<tspan font-size="7.6" dy="-6.5">1</tspan></text>
<text x="232.5" y="444.6" font-size="13.7" text-anchor="middle">10<tspan font-size="7.6" dy="-6.5">2</tspan></text>
<text x="410.8" y="444.6" font-size="13.7" text-anchor="middle">10<tspan font-size="7.6" dy="-6.5">3</tspan></text>
<text x="232.2" y="463.7" font-size="13.7" text-anchor="middle">Time (s)</text>
<text transform="translate(10.6 146) rotate(-90)" font-size="13.7" text-anchor="middle">Mass Fraction</text>
<text transform="translate(10.6 359.3) rotate(-90)" font-size="13.7" text-anchor="middle">T and ρ</text>
<text transform="translate(453.0 99.0) rotate(90)" font-size="13.9" text-anchor="start"><tspan font-size="22.5">ε</tspan><tspan font-size="7.7" dy="3.6">nuc</tspan><tspan dy="-3.6" dx="-0.8"> (erg g</tspan><tspan font-size="7.5" dy="-6.3" dx="0.6">-1</tspan><tspan dy="6.3" dx="-2.0"> s</tspan><tspan font-size="7.5" dy="-6.3" dx="0.6">-1</tspan><tspan dy="6.3" dx="0.8">)</tspan></text>
</g>
</svg>
</body></html>
